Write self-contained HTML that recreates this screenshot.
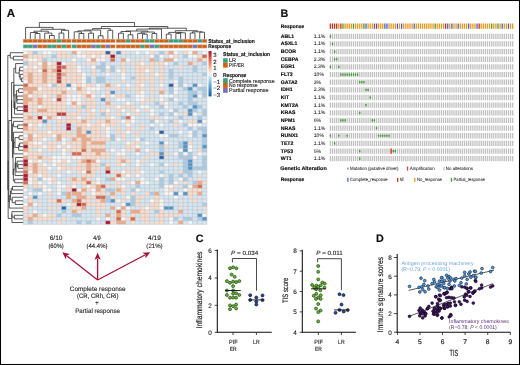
<!DOCTYPE html>
<html><head><meta charset="utf-8"><title>Figure</title>
<style>html,body{margin:0;padding:0;background:#fff;}svg{display:block;font-family:"Liberation Sans", sans-serif;text-rendering:geometricPrecision;will-change:transform;}</style>
</head><body>
<svg width="520" height="365" viewBox="0 0 520 365" font-family='"Liberation Sans", sans-serif'>
<rect width="520" height="365" fill="#fff"/>
<text x="6.8" y="16.9" font-size="11.5" font-weight="bold" fill="#111" stroke="#111" stroke-width="0.16">A</text>
<path fill="#f6f6f6" d="M23.20 50.90h4.78v3.613h-4.78zM42.32 50.90h4.78v3.613h-4.78zM47.10 50.90h4.78v3.613h-4.78zM76.61 50.90h4.81v3.613h-4.81zM135.29 50.90h4.77v3.613h-4.77zM144.84 50.90h4.77v3.613h-4.77zM173.48 50.90h4.77v3.613h-4.77zM187.81 50.90h4.77v3.613h-4.77zM202.13 50.90h4.77v3.613h-4.77zM76.61 54.51h4.81v3.613h-4.81zM81.42 54.51h4.81v3.613h-4.81zM91.04 54.51h4.81v3.613h-4.81zM100.67 54.51h4.81v3.613h-4.81zM149.62 54.51h4.77v3.613h-4.77zM159.16 54.51h4.77v3.613h-4.77zM168.71 54.51h4.77v3.613h-4.77zM187.81 54.51h4.77v3.613h-4.77zM192.58 54.51h4.77v3.613h-4.77zM27.98 58.13h4.78v3.613h-4.78zM32.76 58.13h4.78v3.613h-4.78zM71.80 58.13h4.81v3.613h-4.81zM86.23 58.13h4.81v3.613h-4.81zM95.86 58.13h4.81v3.613h-4.81zM100.67 58.13h4.81v3.613h-4.81zM125.75 58.13h4.77v3.613h-4.77zM173.48 58.13h4.77v3.613h-4.77zM37.54 61.74h4.78v3.613h-4.78zM47.10 61.74h4.78v3.613h-4.78zM61.44 61.74h4.78v3.613h-4.78zM140.07 61.74h4.77v3.613h-4.77zM163.94 61.74h4.77v3.613h-4.77zM23.20 65.35h4.78v3.613h-4.78zM32.76 65.35h4.78v3.613h-4.78zM76.61 65.35h4.81v3.613h-4.81zM91.04 65.35h4.81v3.613h-4.81zM105.48 65.35h4.81v3.613h-4.81zM37.54 68.97h4.78v3.613h-4.78zM76.61 68.97h4.81v3.613h-4.81zM116.20 68.97h4.77v3.613h-4.77zM144.84 68.97h4.77v3.613h-4.77zM81.42 72.58h4.81v3.613h-4.81zM105.48 72.58h4.81v3.613h-4.81zM120.97 72.58h4.77v3.613h-4.77zM154.39 72.58h4.77v3.613h-4.77zM81.42 76.19h4.81v3.613h-4.81zM120.97 76.19h4.77v3.613h-4.77zM23.20 79.80h4.78v3.613h-4.78zM81.42 79.80h4.81v3.613h-4.81zM173.48 79.80h4.77v3.613h-4.77zM47.10 83.42h4.78v3.613h-4.78zM71.80 83.42h4.81v3.613h-4.81zM81.42 83.42h4.81v3.613h-4.81zM95.86 83.42h4.81v3.613h-4.81zM116.20 83.42h4.77v3.613h-4.77zM125.75 83.42h4.77v3.613h-4.77zM140.07 83.42h4.77v3.613h-4.77zM159.16 83.42h4.77v3.613h-4.77zM173.48 83.42h4.77v3.613h-4.77zM183.03 83.42h4.77v3.613h-4.77zM197.35 83.42h4.77v3.613h-4.77zM37.54 87.03h4.78v3.613h-4.78zM66.22 87.03h4.78v3.613h-4.78zM71.80 87.03h4.81v3.613h-4.81zM86.23 87.03h4.81v3.613h-4.81zM91.04 87.03h4.81v3.613h-4.81zM95.86 87.03h4.81v3.613h-4.81zM173.48 87.03h4.77v3.613h-4.77zM86.23 90.64h4.81v3.613h-4.81zM140.07 90.64h4.77v3.613h-4.77zM173.48 90.64h4.77v3.613h-4.77zM27.98 94.26h4.78v3.613h-4.78zM42.32 94.26h4.78v3.613h-4.78zM66.22 94.26h4.78v3.613h-4.78zM71.80 94.26h4.81v3.613h-4.81zM76.61 94.26h4.81v3.613h-4.81zM91.04 94.26h4.81v3.613h-4.81zM100.67 94.26h4.81v3.613h-4.81zM110.29 94.26h4.81v3.613h-4.81zM135.29 94.26h4.77v3.613h-4.77zM140.07 94.26h4.77v3.613h-4.77zM159.16 94.26h4.77v3.613h-4.77zM163.94 94.26h4.77v3.613h-4.77zM168.71 94.26h4.77v3.613h-4.77zM197.35 94.26h4.77v3.613h-4.77zM51.88 97.87h4.78v3.613h-4.78zM66.22 97.87h4.78v3.613h-4.78zM71.80 97.87h4.81v3.613h-4.81zM76.61 97.87h4.81v3.613h-4.81zM116.20 97.87h4.77v3.613h-4.77zM120.97 97.87h4.77v3.613h-4.77zM135.29 97.87h4.77v3.613h-4.77zM140.07 97.87h4.77v3.613h-4.77zM159.16 97.87h4.77v3.613h-4.77zM173.48 97.87h4.77v3.613h-4.77zM66.22 101.48h4.78v3.613h-4.78zM76.61 101.48h4.81v3.613h-4.81zM125.75 101.48h4.77v3.613h-4.77zM163.94 101.48h4.77v3.613h-4.77zM37.54 105.09h4.78v3.613h-4.78zM116.20 105.09h4.77v3.613h-4.77zM140.07 105.09h4.77v3.613h-4.77zM144.84 105.09h4.77v3.613h-4.77zM163.94 105.09h4.77v3.613h-4.77zM91.04 108.71h4.81v3.613h-4.81zM105.48 108.71h4.81v3.613h-4.81zM120.97 108.71h4.77v3.613h-4.77zM135.29 108.71h4.77v3.613h-4.77zM149.62 108.71h4.77v3.613h-4.77zM168.71 108.71h4.77v3.613h-4.77zM125.75 112.32h4.77v3.613h-4.77zM149.62 112.32h4.77v3.613h-4.77zM173.48 112.32h4.77v3.613h-4.77zM192.58 112.32h4.77v3.613h-4.77zM42.32 115.93h4.78v3.613h-4.78zM56.66 115.93h4.78v3.613h-4.78zM76.61 115.93h4.81v3.613h-4.81zM110.29 115.93h4.81v3.613h-4.81zM130.52 115.93h4.77v3.613h-4.77zM163.94 115.93h4.77v3.613h-4.77zM120.97 119.55h4.77v3.613h-4.77zM130.52 119.55h4.77v3.613h-4.77zM154.39 119.55h4.77v3.613h-4.77zM178.26 119.55h4.77v3.613h-4.77zM202.13 119.55h4.77v3.613h-4.77zM27.98 123.16h4.78v3.613h-4.78zM37.54 123.16h4.78v3.613h-4.78zM86.23 123.16h4.81v3.613h-4.81zM100.67 123.16h4.81v3.613h-4.81zM125.75 123.16h4.77v3.613h-4.77zM149.62 123.16h4.77v3.613h-4.77zM159.16 123.16h4.77v3.613h-4.77zM187.81 123.16h4.77v3.613h-4.77zM192.58 123.16h4.77v3.613h-4.77zM197.35 123.16h4.77v3.613h-4.77zM105.48 126.77h4.81v3.613h-4.81zM47.10 130.39h4.78v3.613h-4.78zM105.48 130.39h4.81v3.613h-4.81zM125.75 130.39h4.77v3.613h-4.77zM154.39 130.39h4.77v3.613h-4.77zM178.26 130.39h4.77v3.613h-4.77zM187.81 130.39h4.77v3.613h-4.77zM23.20 134.00h4.78v3.613h-4.78zM32.76 134.00h4.78v3.613h-4.78zM51.88 134.00h4.78v3.613h-4.78zM105.48 134.00h4.81v3.613h-4.81zM159.16 134.00h4.77v3.613h-4.77zM163.94 134.00h4.77v3.613h-4.77zM187.81 134.00h4.77v3.613h-4.77zM42.32 137.61h4.78v3.613h-4.78zM61.44 137.61h4.78v3.613h-4.78zM116.20 137.61h4.77v3.613h-4.77zM135.29 137.61h4.77v3.613h-4.77zM32.76 141.22h4.78v3.613h-4.78zM37.54 141.22h4.78v3.613h-4.78zM61.44 141.22h4.78v3.613h-4.78zM125.75 141.22h4.77v3.613h-4.77zM144.84 141.22h4.77v3.613h-4.77zM163.94 141.22h4.77v3.613h-4.77zM42.32 144.84h4.78v3.613h-4.78zM56.66 144.84h4.78v3.613h-4.78zM66.22 144.84h4.78v3.613h-4.78zM135.29 144.84h4.77v3.613h-4.77zM187.81 144.84h4.77v3.613h-4.77zM37.54 148.45h4.78v3.613h-4.78zM61.44 148.45h4.78v3.613h-4.78zM110.29 148.45h4.81v3.613h-4.81zM120.97 148.45h4.77v3.613h-4.77zM144.84 148.45h4.77v3.613h-4.77zM178.26 148.45h4.77v3.613h-4.77zM187.81 148.45h4.77v3.613h-4.77zM23.20 152.06h4.78v3.613h-4.78zM61.44 152.06h4.78v3.613h-4.78zM116.20 152.06h4.77v3.613h-4.77zM120.97 152.06h4.77v3.613h-4.77zM135.29 152.06h4.77v3.613h-4.77zM173.48 152.06h4.77v3.613h-4.77zM183.03 152.06h4.77v3.613h-4.77zM197.35 152.06h4.77v3.613h-4.77zM51.88 155.68h4.78v3.613h-4.78zM56.66 155.68h4.78v3.613h-4.78zM61.44 155.68h4.78v3.613h-4.78zM66.22 155.68h4.78v3.613h-4.78zM71.80 155.68h4.81v3.613h-4.81zM76.61 155.68h4.81v3.613h-4.81zM192.58 155.68h4.77v3.613h-4.77zM27.98 159.29h4.78v3.613h-4.78zM37.54 159.29h4.78v3.613h-4.78zM51.88 159.29h4.78v3.613h-4.78zM56.66 159.29h4.78v3.613h-4.78zM66.22 159.29h4.78v3.613h-4.78zM95.86 159.29h4.81v3.613h-4.81zM135.29 159.29h4.77v3.613h-4.77zM42.32 162.90h4.78v3.613h-4.78zM51.88 162.90h4.78v3.613h-4.78zM120.97 162.90h4.77v3.613h-4.77zM135.29 162.90h4.77v3.613h-4.77zM149.62 162.90h4.77v3.613h-4.77zM163.94 162.90h4.77v3.613h-4.77zM47.10 166.52h4.78v3.613h-4.78zM56.66 166.52h4.78v3.613h-4.78zM27.98 170.13h4.78v3.613h-4.78zM66.22 170.13h4.78v3.613h-4.78zM81.42 170.13h4.81v3.613h-4.81zM120.97 170.13h4.77v3.613h-4.77zM140.07 170.13h4.77v3.613h-4.77zM197.35 170.13h4.77v3.613h-4.77zM37.54 173.74h4.78v3.613h-4.78zM56.66 173.74h4.78v3.613h-4.78zM125.75 173.74h4.77v3.613h-4.77zM135.29 173.74h4.77v3.613h-4.77zM159.16 173.74h4.77v3.613h-4.77zM27.98 177.35h4.78v3.613h-4.78zM42.32 177.35h4.78v3.613h-4.78zM47.10 177.35h4.78v3.613h-4.78zM95.86 177.35h4.81v3.613h-4.81zM116.20 177.35h4.77v3.613h-4.77zM120.97 177.35h4.77v3.613h-4.77zM140.07 177.35h4.77v3.613h-4.77zM154.39 177.35h4.77v3.613h-4.77zM178.26 177.35h4.77v3.613h-4.77zM27.98 180.97h4.78v3.613h-4.78zM37.54 180.97h4.78v3.613h-4.78zM47.10 180.97h4.78v3.613h-4.78zM56.66 180.97h4.78v3.613h-4.78zM95.86 180.97h4.81v3.613h-4.81zM130.52 180.97h4.77v3.613h-4.77zM140.07 180.97h4.77v3.613h-4.77zM144.84 180.97h4.77v3.613h-4.77zM173.48 180.97h4.77v3.613h-4.77zM42.32 184.58h4.78v3.613h-4.78zM56.66 184.58h4.78v3.613h-4.78zM61.44 184.58h4.78v3.613h-4.78zM71.80 184.58h4.81v3.613h-4.81zM86.23 184.58h4.81v3.613h-4.81zM120.97 184.58h4.77v3.613h-4.77zM163.94 184.58h4.77v3.613h-4.77zM168.71 184.58h4.77v3.613h-4.77zM187.81 184.58h4.77v3.613h-4.77zM23.20 188.19h4.78v3.613h-4.78zM42.32 188.19h4.78v3.613h-4.78zM47.10 188.19h4.78v3.613h-4.78zM56.66 188.19h4.78v3.613h-4.78zM76.61 188.19h4.81v3.613h-4.81zM91.04 188.19h4.81v3.613h-4.81zM135.29 188.19h4.77v3.613h-4.77zM163.94 188.19h4.77v3.613h-4.77zM183.03 188.19h4.77v3.613h-4.77zM27.98 191.81h4.78v3.613h-4.78zM37.54 191.81h4.78v3.613h-4.78zM56.66 191.81h4.78v3.613h-4.78zM91.04 191.81h4.81v3.613h-4.81zM163.94 191.81h4.77v3.613h-4.77zM168.71 191.81h4.77v3.613h-4.77zM178.26 191.81h4.77v3.613h-4.77zM23.20 195.42h4.78v3.613h-4.78zM125.75 195.42h4.77v3.613h-4.77zM173.48 195.42h4.77v3.613h-4.77zM116.20 199.03h4.77v3.613h-4.77zM149.62 199.03h4.77v3.613h-4.77zM159.16 199.03h4.77v3.613h-4.77zM23.20 202.65h4.78v3.613h-4.78zM32.76 202.65h4.78v3.613h-4.78zM66.22 202.65h4.78v3.613h-4.78zM120.97 202.65h4.77v3.613h-4.77zM159.16 202.65h4.77v3.613h-4.77zM116.20 206.26h4.77v3.613h-4.77zM125.75 206.26h4.77v3.613h-4.77zM144.84 206.26h4.77v3.613h-4.77zM159.16 206.26h4.77v3.613h-4.77zM32.76 209.87h4.78v3.613h-4.78zM42.32 213.49h4.78v3.613h-4.78zM202.13 213.49h4.77v3.613h-4.77zM95.86 217.10h4.81v3.613h-4.81zM105.48 217.10h4.81v3.613h-4.81zM120.97 217.10h4.77v3.613h-4.77zM168.71 217.10h4.77v3.613h-4.77zM168.71 220.71h4.77v3.613h-4.77zM187.81 220.71h4.77v3.613h-4.77z"/>
<path fill="#f9dccb" d="M27.98 50.90h4.78v3.613h-4.78zM56.66 50.90h4.78v3.613h-4.78zM61.44 50.90h4.78v3.613h-4.78zM81.42 50.90h4.81v3.613h-4.81zM86.23 50.90h4.81v3.613h-4.81zM91.04 50.90h4.81v3.613h-4.81zM95.86 50.90h4.81v3.613h-4.81zM100.67 50.90h4.81v3.613h-4.81zM110.29 50.90h4.81v3.613h-4.81zM120.97 50.90h4.77v3.613h-4.77zM149.62 50.90h4.77v3.613h-4.77zM163.94 50.90h4.77v3.613h-4.77zM183.03 50.90h4.77v3.613h-4.77zM27.98 54.51h4.78v3.613h-4.78zM32.76 54.51h4.78v3.613h-4.78zM37.54 54.51h4.78v3.613h-4.78zM42.32 54.51h4.78v3.613h-4.78zM56.66 54.51h4.78v3.613h-4.78zM61.44 54.51h4.78v3.613h-4.78zM66.22 54.51h4.78v3.613h-4.78zM86.23 54.51h4.81v3.613h-4.81zM95.86 54.51h4.81v3.613h-4.81zM105.48 54.51h4.81v3.613h-4.81zM173.48 54.51h4.77v3.613h-4.77zM197.35 54.51h4.77v3.613h-4.77zM23.20 58.13h4.78v3.613h-4.78zM37.54 58.13h4.78v3.613h-4.78zM140.07 58.13h4.77v3.613h-4.77zM202.13 58.13h4.77v3.613h-4.77zM27.98 61.74h4.78v3.613h-4.78zM32.76 61.74h4.78v3.613h-4.78zM51.88 61.74h4.78v3.613h-4.78zM66.22 61.74h4.78v3.613h-4.78zM71.80 61.74h4.81v3.613h-4.81zM86.23 61.74h4.81v3.613h-4.81zM91.04 61.74h4.81v3.613h-4.81zM120.97 61.74h4.77v3.613h-4.77zM130.52 61.74h4.77v3.613h-4.77zM135.29 61.74h4.77v3.613h-4.77zM149.62 61.74h4.77v3.613h-4.77zM154.39 61.74h4.77v3.613h-4.77zM159.16 61.74h4.77v3.613h-4.77zM192.58 61.74h4.77v3.613h-4.77zM27.98 65.35h4.78v3.613h-4.78zM37.54 65.35h4.78v3.613h-4.78zM47.10 65.35h4.78v3.613h-4.78zM51.88 65.35h4.78v3.613h-4.78zM66.22 65.35h4.78v3.613h-4.78zM71.80 65.35h4.81v3.613h-4.81zM120.97 65.35h4.77v3.613h-4.77zM135.29 65.35h4.77v3.613h-4.77zM140.07 65.35h4.77v3.613h-4.77zM144.84 65.35h4.77v3.613h-4.77zM149.62 65.35h4.77v3.613h-4.77zM159.16 65.35h4.77v3.613h-4.77zM178.26 65.35h4.77v3.613h-4.77zM23.20 68.97h4.78v3.613h-4.78zM27.98 68.97h4.78v3.613h-4.78zM32.76 68.97h4.78v3.613h-4.78zM47.10 68.97h4.78v3.613h-4.78zM61.44 68.97h4.78v3.613h-4.78zM66.22 68.97h4.78v3.613h-4.78zM71.80 68.97h4.81v3.613h-4.81zM91.04 68.97h4.81v3.613h-4.81zM105.48 68.97h4.81v3.613h-4.81zM120.97 68.97h4.77v3.613h-4.77zM135.29 68.97h4.77v3.613h-4.77zM140.07 68.97h4.77v3.613h-4.77zM149.62 68.97h4.77v3.613h-4.77zM159.16 68.97h4.77v3.613h-4.77zM23.20 72.58h4.78v3.613h-4.78zM32.76 72.58h4.78v3.613h-4.78zM37.54 72.58h4.78v3.613h-4.78zM47.10 72.58h4.78v3.613h-4.78zM51.88 72.58h4.78v3.613h-4.78zM66.22 72.58h4.78v3.613h-4.78zM71.80 72.58h4.81v3.613h-4.81zM76.61 72.58h4.81v3.613h-4.81zM91.04 72.58h4.81v3.613h-4.81zM135.29 72.58h4.77v3.613h-4.77zM140.07 72.58h4.77v3.613h-4.77zM149.62 72.58h4.77v3.613h-4.77zM159.16 72.58h4.77v3.613h-4.77zM23.20 76.19h4.78v3.613h-4.78zM32.76 76.19h4.78v3.613h-4.78zM37.54 76.19h4.78v3.613h-4.78zM47.10 76.19h4.78v3.613h-4.78zM51.88 76.19h4.78v3.613h-4.78zM61.44 76.19h4.78v3.613h-4.78zM66.22 76.19h4.78v3.613h-4.78zM71.80 76.19h4.81v3.613h-4.81zM76.61 76.19h4.81v3.613h-4.81zM135.29 76.19h4.77v3.613h-4.77zM140.07 76.19h4.77v3.613h-4.77zM144.84 76.19h4.77v3.613h-4.77zM149.62 76.19h4.77v3.613h-4.77zM159.16 76.19h4.77v3.613h-4.77zM32.76 79.80h4.78v3.613h-4.78zM37.54 79.80h4.78v3.613h-4.78zM47.10 79.80h4.78v3.613h-4.78zM51.88 79.80h4.78v3.613h-4.78zM61.44 79.80h4.78v3.613h-4.78zM66.22 79.80h4.78v3.613h-4.78zM71.80 79.80h4.81v3.613h-4.81zM76.61 79.80h4.81v3.613h-4.81zM120.97 79.80h4.77v3.613h-4.77zM135.29 79.80h4.77v3.613h-4.77zM140.07 79.80h4.77v3.613h-4.77zM149.62 79.80h4.77v3.613h-4.77zM159.16 79.80h4.77v3.613h-4.77zM27.98 83.42h4.78v3.613h-4.78zM32.76 83.42h4.78v3.613h-4.78zM37.54 83.42h4.78v3.613h-4.78zM42.32 83.42h4.78v3.613h-4.78zM56.66 83.42h4.78v3.613h-4.78zM61.44 83.42h4.78v3.613h-4.78zM76.61 83.42h4.81v3.613h-4.81zM86.23 83.42h4.81v3.613h-4.81zM91.04 83.42h4.81v3.613h-4.81zM110.29 83.42h4.81v3.613h-4.81zM135.29 83.42h4.77v3.613h-4.77zM149.62 83.42h4.77v3.613h-4.77zM42.32 87.03h4.78v3.613h-4.78zM47.10 87.03h4.78v3.613h-4.78zM51.88 87.03h4.78v3.613h-4.78zM56.66 87.03h4.78v3.613h-4.78zM61.44 87.03h4.78v3.613h-4.78zM81.42 87.03h4.81v3.613h-4.81zM105.48 87.03h4.81v3.613h-4.81zM116.20 87.03h4.77v3.613h-4.77zM125.75 87.03h4.77v3.613h-4.77zM135.29 87.03h4.77v3.613h-4.77zM140.07 87.03h4.77v3.613h-4.77zM149.62 87.03h4.77v3.613h-4.77zM159.16 87.03h4.77v3.613h-4.77zM23.20 90.64h4.78v3.613h-4.78zM32.76 90.64h4.78v3.613h-4.78zM37.54 90.64h4.78v3.613h-4.78zM42.32 90.64h4.78v3.613h-4.78zM47.10 90.64h4.78v3.613h-4.78zM51.88 90.64h4.78v3.613h-4.78zM56.66 90.64h4.78v3.613h-4.78zM66.22 90.64h4.78v3.613h-4.78zM76.61 90.64h4.81v3.613h-4.81zM81.42 90.64h4.81v3.613h-4.81zM91.04 90.64h4.81v3.613h-4.81zM105.48 90.64h4.81v3.613h-4.81zM135.29 90.64h4.77v3.613h-4.77zM149.62 90.64h4.77v3.613h-4.77zM32.76 94.26h4.78v3.613h-4.78zM37.54 94.26h4.78v3.613h-4.78zM47.10 94.26h4.78v3.613h-4.78zM61.44 94.26h4.78v3.613h-4.78zM81.42 94.26h4.81v3.613h-4.81zM105.48 94.26h4.81v3.613h-4.81zM116.20 94.26h4.77v3.613h-4.77zM120.97 94.26h4.77v3.613h-4.77zM32.76 97.87h4.78v3.613h-4.78zM42.32 97.87h4.78v3.613h-4.78zM47.10 97.87h4.78v3.613h-4.78zM61.44 97.87h4.78v3.613h-4.78zM86.23 97.87h4.81v3.613h-4.81zM91.04 97.87h4.81v3.613h-4.81zM105.48 97.87h4.81v3.613h-4.81zM144.84 97.87h4.77v3.613h-4.77zM149.62 97.87h4.77v3.613h-4.77zM27.98 101.48h4.78v3.613h-4.78zM32.76 101.48h4.78v3.613h-4.78zM42.32 101.48h4.78v3.613h-4.78zM47.10 101.48h4.78v3.613h-4.78zM51.88 101.48h4.78v3.613h-4.78zM56.66 101.48h4.78v3.613h-4.78zM61.44 101.48h4.78v3.613h-4.78zM81.42 101.48h4.81v3.613h-4.81zM86.23 101.48h4.81v3.613h-4.81zM91.04 101.48h4.81v3.613h-4.81zM140.07 101.48h4.77v3.613h-4.77zM159.16 101.48h4.77v3.613h-4.77zM27.98 105.09h4.78v3.613h-4.78zM32.76 105.09h4.78v3.613h-4.78zM42.32 105.09h4.78v3.613h-4.78zM47.10 105.09h4.78v3.613h-4.78zM51.88 105.09h4.78v3.613h-4.78zM56.66 105.09h4.78v3.613h-4.78zM61.44 105.09h4.78v3.613h-4.78zM71.80 105.09h4.81v3.613h-4.81zM76.61 105.09h4.81v3.613h-4.81zM86.23 105.09h4.81v3.613h-4.81zM91.04 105.09h4.81v3.613h-4.81zM105.48 105.09h4.81v3.613h-4.81zM110.29 105.09h4.81v3.613h-4.81zM120.97 105.09h4.77v3.613h-4.77zM125.75 105.09h4.77v3.613h-4.77zM130.52 105.09h4.77v3.613h-4.77zM27.98 108.71h4.78v3.613h-4.78zM32.76 108.71h4.78v3.613h-4.78zM47.10 108.71h4.78v3.613h-4.78zM51.88 108.71h4.78v3.613h-4.78zM56.66 108.71h4.78v3.613h-4.78zM61.44 108.71h4.78v3.613h-4.78zM76.61 108.71h4.81v3.613h-4.81zM86.23 108.71h4.81v3.613h-4.81zM100.67 108.71h4.81v3.613h-4.81zM116.20 108.71h4.77v3.613h-4.77zM130.52 108.71h4.77v3.613h-4.77zM144.84 108.71h4.77v3.613h-4.77zM23.20 112.32h4.78v3.613h-4.78zM27.98 112.32h4.78v3.613h-4.78zM37.54 112.32h4.78v3.613h-4.78zM42.32 112.32h4.78v3.613h-4.78zM47.10 112.32h4.78v3.613h-4.78zM51.88 112.32h4.78v3.613h-4.78zM66.22 112.32h4.78v3.613h-4.78zM71.80 112.32h4.81v3.613h-4.81zM76.61 112.32h4.81v3.613h-4.81zM86.23 112.32h4.81v3.613h-4.81zM91.04 112.32h4.81v3.613h-4.81zM105.48 112.32h4.81v3.613h-4.81zM116.20 112.32h4.77v3.613h-4.77zM135.29 112.32h4.77v3.613h-4.77zM183.03 112.32h4.77v3.613h-4.77zM23.20 115.93h4.78v3.613h-4.78zM32.76 115.93h4.78v3.613h-4.78zM51.88 115.93h4.78v3.613h-4.78zM66.22 115.93h4.78v3.613h-4.78zM71.80 115.93h4.81v3.613h-4.81zM86.23 115.93h4.81v3.613h-4.81zM91.04 115.93h4.81v3.613h-4.81zM105.48 115.93h4.81v3.613h-4.81zM149.62 115.93h4.77v3.613h-4.77zM154.39 115.93h4.77v3.613h-4.77zM23.20 119.55h4.78v3.613h-4.78zM27.98 119.55h4.78v3.613h-4.78zM32.76 119.55h4.78v3.613h-4.78zM37.54 119.55h4.78v3.613h-4.78zM56.66 119.55h4.78v3.613h-4.78zM61.44 119.55h4.78v3.613h-4.78zM66.22 119.55h4.78v3.613h-4.78zM71.80 119.55h4.81v3.613h-4.81zM76.61 119.55h4.81v3.613h-4.81zM86.23 119.55h4.81v3.613h-4.81zM95.86 119.55h4.81v3.613h-4.81zM100.67 119.55h4.81v3.613h-4.81zM110.29 119.55h4.81v3.613h-4.81zM116.20 119.55h4.77v3.613h-4.77zM125.75 119.55h4.77v3.613h-4.77zM173.48 119.55h4.77v3.613h-4.77zM187.81 119.55h4.77v3.613h-4.77zM192.58 119.55h4.77v3.613h-4.77zM32.76 123.16h4.78v3.613h-4.78zM47.10 123.16h4.78v3.613h-4.78zM56.66 123.16h4.78v3.613h-4.78zM76.61 123.16h4.81v3.613h-4.81zM81.42 123.16h4.81v3.613h-4.81zM91.04 123.16h4.81v3.613h-4.81zM95.86 123.16h4.81v3.613h-4.81zM105.48 123.16h4.81v3.613h-4.81zM110.29 123.16h4.81v3.613h-4.81zM140.07 123.16h4.77v3.613h-4.77zM173.48 123.16h4.77v3.613h-4.77zM27.98 126.77h4.78v3.613h-4.78zM32.76 126.77h4.78v3.613h-4.78zM47.10 126.77h4.78v3.613h-4.78zM56.66 126.77h4.78v3.613h-4.78zM81.42 126.77h4.81v3.613h-4.81zM86.23 126.77h4.81v3.613h-4.81zM91.04 126.77h4.81v3.613h-4.81zM95.86 126.77h4.81v3.613h-4.81zM100.67 126.77h4.81v3.613h-4.81zM116.20 126.77h4.77v3.613h-4.77zM125.75 126.77h4.77v3.613h-4.77zM130.52 126.77h4.77v3.613h-4.77zM140.07 126.77h4.77v3.613h-4.77zM23.20 130.39h4.78v3.613h-4.78zM27.98 130.39h4.78v3.613h-4.78zM32.76 130.39h4.78v3.613h-4.78zM37.54 130.39h4.78v3.613h-4.78zM42.32 130.39h4.78v3.613h-4.78zM51.88 130.39h4.78v3.613h-4.78zM56.66 130.39h4.78v3.613h-4.78zM61.44 130.39h4.78v3.613h-4.78zM66.22 130.39h4.78v3.613h-4.78zM81.42 130.39h4.81v3.613h-4.81zM91.04 130.39h4.81v3.613h-4.81zM95.86 130.39h4.81v3.613h-4.81zM116.20 130.39h4.77v3.613h-4.77zM120.97 130.39h4.77v3.613h-4.77zM135.29 130.39h4.77v3.613h-4.77zM37.54 134.00h4.78v3.613h-4.78zM42.32 134.00h4.78v3.613h-4.78zM47.10 134.00h4.78v3.613h-4.78zM61.44 134.00h4.78v3.613h-4.78zM66.22 134.00h4.78v3.613h-4.78zM71.80 134.00h4.81v3.613h-4.81zM86.23 134.00h4.81v3.613h-4.81zM91.04 134.00h4.81v3.613h-4.81zM95.86 134.00h4.81v3.613h-4.81zM100.67 134.00h4.81v3.613h-4.81zM120.97 134.00h4.77v3.613h-4.77zM135.29 134.00h4.77v3.613h-4.77zM23.20 137.61h4.78v3.613h-4.78zM32.76 137.61h4.78v3.613h-4.78zM37.54 137.61h4.78v3.613h-4.78zM76.61 137.61h4.81v3.613h-4.81zM91.04 137.61h4.81v3.613h-4.81zM95.86 137.61h4.81v3.613h-4.81zM100.67 137.61h4.81v3.613h-4.81zM105.48 137.61h4.81v3.613h-4.81zM120.97 137.61h4.77v3.613h-4.77zM27.98 141.22h4.78v3.613h-4.78zM47.10 141.22h4.78v3.613h-4.78zM51.88 141.22h4.78v3.613h-4.78zM66.22 141.22h4.78v3.613h-4.78zM71.80 141.22h4.81v3.613h-4.81zM76.61 141.22h4.81v3.613h-4.81zM86.23 141.22h4.81v3.613h-4.81zM130.52 141.22h4.77v3.613h-4.77zM135.29 141.22h4.77v3.613h-4.77zM187.81 141.22h4.77v3.613h-4.77zM27.98 144.84h4.78v3.613h-4.78zM32.76 144.84h4.78v3.613h-4.78zM37.54 144.84h4.78v3.613h-4.78zM47.10 144.84h4.78v3.613h-4.78zM51.88 144.84h4.78v3.613h-4.78zM61.44 144.84h4.78v3.613h-4.78zM71.80 144.84h4.81v3.613h-4.81zM76.61 144.84h4.81v3.613h-4.81zM86.23 144.84h4.81v3.613h-4.81zM91.04 144.84h4.81v3.613h-4.81zM95.86 144.84h4.81v3.613h-4.81zM100.67 144.84h4.81v3.613h-4.81zM125.75 144.84h4.77v3.613h-4.77zM130.52 144.84h4.77v3.613h-4.77zM163.94 144.84h4.77v3.613h-4.77zM27.98 148.45h4.78v3.613h-4.78zM47.10 148.45h4.78v3.613h-4.78zM51.88 148.45h4.78v3.613h-4.78zM66.22 148.45h4.78v3.613h-4.78zM71.80 148.45h4.81v3.613h-4.81zM76.61 148.45h4.81v3.613h-4.81zM86.23 148.45h4.81v3.613h-4.81zM125.75 148.45h4.77v3.613h-4.77zM197.35 148.45h4.77v3.613h-4.77zM27.98 152.06h4.78v3.613h-4.78zM32.76 152.06h4.78v3.613h-4.78zM37.54 152.06h4.78v3.613h-4.78zM81.42 152.06h4.81v3.613h-4.81zM86.23 152.06h4.81v3.613h-4.81zM91.04 152.06h4.81v3.613h-4.81zM100.67 152.06h4.81v3.613h-4.81zM105.48 152.06h4.81v3.613h-4.81zM149.62 152.06h4.77v3.613h-4.77zM154.39 152.06h4.77v3.613h-4.77zM163.94 152.06h4.77v3.613h-4.77zM27.98 155.68h4.78v3.613h-4.78zM32.76 155.68h4.78v3.613h-4.78zM42.32 155.68h4.78v3.613h-4.78zM47.10 155.68h4.78v3.613h-4.78zM81.42 155.68h4.81v3.613h-4.81zM86.23 155.68h4.81v3.613h-4.81zM91.04 155.68h4.81v3.613h-4.81zM95.86 155.68h4.81v3.613h-4.81zM100.67 155.68h4.81v3.613h-4.81zM105.48 155.68h4.81v3.613h-4.81zM116.20 155.68h4.77v3.613h-4.77zM120.97 155.68h4.77v3.613h-4.77zM144.84 155.68h4.77v3.613h-4.77zM32.76 159.29h4.78v3.613h-4.78zM47.10 159.29h4.78v3.613h-4.78zM61.44 159.29h4.78v3.613h-4.78zM76.61 159.29h4.81v3.613h-4.81zM116.20 159.29h4.77v3.613h-4.77zM125.75 159.29h4.77v3.613h-4.77zM140.07 159.29h4.77v3.613h-4.77zM27.98 162.90h4.78v3.613h-4.78zM37.54 162.90h4.78v3.613h-4.78zM56.66 162.90h4.78v3.613h-4.78zM61.44 162.90h4.78v3.613h-4.78zM76.61 162.90h4.81v3.613h-4.81zM81.42 162.90h4.81v3.613h-4.81zM91.04 162.90h4.81v3.613h-4.81zM95.86 162.90h4.81v3.613h-4.81zM105.48 162.90h4.81v3.613h-4.81zM116.20 162.90h4.77v3.613h-4.77zM173.48 162.90h4.77v3.613h-4.77zM27.98 166.52h4.78v3.613h-4.78zM37.54 166.52h4.78v3.613h-4.78zM42.32 166.52h4.78v3.613h-4.78zM61.44 166.52h4.78v3.613h-4.78zM66.22 166.52h4.78v3.613h-4.78zM71.80 166.52h4.81v3.613h-4.81zM76.61 166.52h4.81v3.613h-4.81zM81.42 166.52h4.81v3.613h-4.81zM91.04 166.52h4.81v3.613h-4.81zM95.86 166.52h4.81v3.613h-4.81zM125.75 166.52h4.77v3.613h-4.77zM135.29 166.52h4.77v3.613h-4.77zM37.54 170.13h4.78v3.613h-4.78zM42.32 170.13h4.78v3.613h-4.78zM56.66 170.13h4.78v3.613h-4.78zM76.61 170.13h4.81v3.613h-4.81zM91.04 170.13h4.81v3.613h-4.81zM110.29 170.13h4.81v3.613h-4.81zM116.20 170.13h4.77v3.613h-4.77zM125.75 170.13h4.77v3.613h-4.77zM135.29 170.13h4.77v3.613h-4.77zM178.26 170.13h4.77v3.613h-4.77zM27.98 173.74h4.78v3.613h-4.78zM32.76 173.74h4.78v3.613h-4.78zM42.32 173.74h4.78v3.613h-4.78zM47.10 173.74h4.78v3.613h-4.78zM81.42 173.74h4.81v3.613h-4.81zM86.23 173.74h4.81v3.613h-4.81zM91.04 173.74h4.81v3.613h-4.81zM120.97 173.74h4.77v3.613h-4.77zM130.52 173.74h4.77v3.613h-4.77zM32.76 177.35h4.78v3.613h-4.78zM51.88 177.35h4.78v3.613h-4.78zM66.22 177.35h4.78v3.613h-4.78zM76.61 177.35h4.81v3.613h-4.81zM86.23 177.35h4.81v3.613h-4.81zM197.35 177.35h4.77v3.613h-4.77zM32.76 180.97h4.78v3.613h-4.78zM51.88 180.97h4.78v3.613h-4.78zM71.80 180.97h4.81v3.613h-4.81zM76.61 180.97h4.81v3.613h-4.81zM81.42 180.97h4.81v3.613h-4.81zM91.04 180.97h4.81v3.613h-4.81zM116.20 180.97h4.77v3.613h-4.77zM125.75 180.97h4.77v3.613h-4.77zM183.03 180.97h4.77v3.613h-4.77zM202.13 180.97h4.77v3.613h-4.77zM23.20 184.58h4.78v3.613h-4.78zM32.76 184.58h4.78v3.613h-4.78zM37.54 184.58h4.78v3.613h-4.78zM66.22 184.58h4.78v3.613h-4.78zM81.42 184.58h4.81v3.613h-4.81zM91.04 184.58h4.81v3.613h-4.81zM105.48 184.58h4.81v3.613h-4.81zM116.20 184.58h4.77v3.613h-4.77zM173.48 184.58h4.77v3.613h-4.77zM66.22 188.19h4.78v3.613h-4.78zM86.23 188.19h4.81v3.613h-4.81zM100.67 188.19h4.81v3.613h-4.81zM120.97 188.19h4.77v3.613h-4.77zM168.71 188.19h4.77v3.613h-4.77zM187.81 188.19h4.77v3.613h-4.77zM192.58 188.19h4.77v3.613h-4.77zM197.35 188.19h4.77v3.613h-4.77zM47.10 191.81h4.78v3.613h-4.78zM81.42 191.81h4.81v3.613h-4.81zM95.86 191.81h4.81v3.613h-4.81zM100.67 191.81h4.81v3.613h-4.81zM120.97 191.81h4.77v3.613h-4.77zM130.52 191.81h4.77v3.613h-4.77zM144.84 191.81h4.77v3.613h-4.77zM187.81 191.81h4.77v3.613h-4.77zM192.58 191.81h4.77v3.613h-4.77zM27.98 195.42h4.78v3.613h-4.78zM86.23 195.42h4.81v3.613h-4.81zM91.04 195.42h4.81v3.613h-4.81zM110.29 195.42h4.81v3.613h-4.81zM135.29 195.42h4.77v3.613h-4.77zM140.07 195.42h4.77v3.613h-4.77zM154.39 195.42h4.77v3.613h-4.77zM187.81 195.42h4.77v3.613h-4.77zM27.98 199.03h4.78v3.613h-4.78zM47.10 199.03h4.78v3.613h-4.78zM51.88 199.03h4.78v3.613h-4.78zM61.44 199.03h4.78v3.613h-4.78zM81.42 199.03h4.81v3.613h-4.81zM86.23 199.03h4.81v3.613h-4.81zM95.86 199.03h4.81v3.613h-4.81zM120.97 199.03h4.77v3.613h-4.77zM135.29 199.03h4.77v3.613h-4.77zM154.39 199.03h4.77v3.613h-4.77zM192.58 199.03h4.77v3.613h-4.77zM37.54 202.65h4.78v3.613h-4.78zM56.66 202.65h4.78v3.613h-4.78zM71.80 202.65h4.81v3.613h-4.81zM86.23 202.65h4.81v3.613h-4.81zM91.04 202.65h4.81v3.613h-4.81zM95.86 202.65h4.81v3.613h-4.81zM100.67 202.65h4.81v3.613h-4.81zM135.29 202.65h4.77v3.613h-4.77zM149.62 202.65h4.77v3.613h-4.77zM154.39 202.65h4.77v3.613h-4.77zM178.26 202.65h4.77v3.613h-4.77zM23.20 206.26h4.78v3.613h-4.78zM47.10 206.26h4.78v3.613h-4.78zM51.88 206.26h4.78v3.613h-4.78zM71.80 206.26h4.81v3.613h-4.81zM76.61 206.26h4.81v3.613h-4.81zM95.86 206.26h4.81v3.613h-4.81zM100.67 206.26h4.81v3.613h-4.81zM140.07 206.26h4.77v3.613h-4.77zM149.62 206.26h4.77v3.613h-4.77zM154.39 206.26h4.77v3.613h-4.77zM202.13 206.26h4.77v3.613h-4.77zM23.20 209.87h4.78v3.613h-4.78zM76.61 209.87h4.81v3.613h-4.81zM95.86 209.87h4.81v3.613h-4.81zM120.97 209.87h4.77v3.613h-4.77zM140.07 209.87h4.77v3.613h-4.77zM144.84 209.87h4.77v3.613h-4.77zM159.16 209.87h4.77v3.613h-4.77zM27.98 213.49h4.78v3.613h-4.78zM37.54 213.49h4.78v3.613h-4.78zM47.10 213.49h4.78v3.613h-4.78zM51.88 213.49h4.78v3.613h-4.78zM95.86 213.49h4.81v3.613h-4.81zM110.29 213.49h4.81v3.613h-4.81zM120.97 213.49h4.77v3.613h-4.77zM130.52 213.49h4.77v3.613h-4.77zM140.07 213.49h4.77v3.613h-4.77zM144.84 213.49h4.77v3.613h-4.77zM154.39 213.49h4.77v3.613h-4.77zM159.16 213.49h4.77v3.613h-4.77zM163.94 213.49h4.77v3.613h-4.77zM168.71 213.49h4.77v3.613h-4.77zM173.48 213.49h4.77v3.613h-4.77zM23.20 217.10h4.78v3.613h-4.78zM32.76 217.10h4.78v3.613h-4.78zM37.54 217.10h4.78v3.613h-4.78zM42.32 217.10h4.78v3.613h-4.78zM47.10 217.10h4.78v3.613h-4.78zM61.44 217.10h4.78v3.613h-4.78zM125.75 217.10h4.77v3.613h-4.77zM140.07 217.10h4.77v3.613h-4.77zM144.84 217.10h4.77v3.613h-4.77zM159.16 217.10h4.77v3.613h-4.77zM56.66 220.71h4.78v3.613h-4.78zM110.29 220.71h4.81v3.613h-4.81zM130.52 220.71h4.77v3.613h-4.77zM144.84 220.71h4.77v3.613h-4.77zM154.39 220.71h4.77v3.613h-4.77zM159.16 220.71h4.77v3.613h-4.77z"/>
<path fill="#a9cce6" d="M32.76 50.90h4.78v3.613h-4.78zM159.16 50.90h4.77v3.613h-4.77zM51.88 54.51h4.78v3.613h-4.78zM154.39 54.51h4.77v3.613h-4.77zM183.03 54.51h4.77v3.613h-4.77zM42.32 58.13h4.78v3.613h-4.78zM154.39 58.13h4.77v3.613h-4.77zM23.20 61.74h4.78v3.613h-4.78zM100.67 61.74h4.81v3.613h-4.81zM173.48 61.74h4.77v3.613h-4.77zM202.13 61.74h4.77v3.613h-4.77zM95.86 65.35h4.81v3.613h-4.81zM100.67 65.35h4.81v3.613h-4.81zM110.29 65.35h4.81v3.613h-4.81zM192.58 65.35h4.77v3.613h-4.77zM100.67 68.97h4.81v3.613h-4.81zM110.29 68.97h4.81v3.613h-4.81zM168.71 68.97h4.77v3.613h-4.77zM192.58 68.97h4.77v3.613h-4.77zM168.71 72.58h4.77v3.613h-4.77zM202.13 72.58h4.77v3.613h-4.77zM86.23 76.19h4.81v3.613h-4.81zM95.86 76.19h4.81v3.613h-4.81zM100.67 76.19h4.81v3.613h-4.81zM130.52 76.19h4.77v3.613h-4.77zM168.71 76.19h4.77v3.613h-4.77zM178.26 76.19h4.77v3.613h-4.77zM86.23 79.80h4.81v3.613h-4.81zM95.86 79.80h4.81v3.613h-4.81zM100.67 79.80h4.81v3.613h-4.81zM178.26 79.80h4.77v3.613h-4.77zM51.88 83.42h4.78v3.613h-4.78zM178.26 83.42h4.77v3.613h-4.77zM168.71 87.03h4.77v3.613h-4.77zM183.03 87.03h4.77v3.613h-4.77zM197.35 87.03h4.77v3.613h-4.77zM202.13 87.03h4.77v3.613h-4.77zM168.71 90.64h4.77v3.613h-4.77zM187.81 90.64h4.77v3.613h-4.77zM192.58 90.64h4.77v3.613h-4.77zM202.13 90.64h4.77v3.613h-4.77zM125.75 94.26h4.77v3.613h-4.77zM187.81 94.26h4.77v3.613h-4.77zM202.13 94.26h4.77v3.613h-4.77zM168.71 97.87h4.77v3.613h-4.77zM187.81 97.87h4.77v3.613h-4.77zM154.39 101.48h4.77v3.613h-4.77zM178.26 101.48h4.77v3.613h-4.77zM187.81 101.48h4.77v3.613h-4.77zM192.58 101.48h4.77v3.613h-4.77zM81.42 105.09h4.81v3.613h-4.81zM159.16 105.09h4.77v3.613h-4.77zM183.03 105.09h4.77v3.613h-4.77zM197.35 105.09h4.77v3.613h-4.77zM173.48 108.71h4.77v3.613h-4.77zM192.58 108.71h4.77v3.613h-4.77zM202.13 108.71h4.77v3.613h-4.77zM100.67 112.32h4.81v3.613h-4.81zM159.16 112.32h4.77v3.613h-4.77zM168.71 112.32h4.77v3.613h-4.77zM202.13 112.32h4.77v3.613h-4.77zM120.97 115.93h4.77v3.613h-4.77zM178.26 115.93h4.77v3.613h-4.77zM197.35 115.93h4.77v3.613h-4.77zM149.62 119.55h4.77v3.613h-4.77zM168.71 119.55h4.77v3.613h-4.77zM183.03 123.16h4.77v3.613h-4.77zM149.62 126.77h4.77v3.613h-4.77zM187.81 126.77h4.77v3.613h-4.77zM197.35 126.77h4.77v3.613h-4.77zM202.13 126.77h4.77v3.613h-4.77zM192.58 130.39h4.77v3.613h-4.77zM202.13 130.39h4.77v3.613h-4.77zM110.29 134.00h4.81v3.613h-4.81zM168.71 134.00h4.77v3.613h-4.77zM173.48 134.00h4.77v3.613h-4.77zM192.58 134.00h4.77v3.613h-4.77zM110.29 137.61h4.81v3.613h-4.81zM140.07 137.61h4.77v3.613h-4.77zM202.13 137.61h4.77v3.613h-4.77zM178.26 141.22h4.77v3.613h-4.77zM202.13 141.22h4.77v3.613h-4.77zM159.16 144.84h4.77v3.613h-4.77zM178.26 144.84h4.77v3.613h-4.77zM159.16 148.45h4.77v3.613h-4.77zM202.13 148.45h4.77v3.613h-4.77zM178.26 152.06h4.77v3.613h-4.77zM187.81 152.06h4.77v3.613h-4.77zM178.26 155.68h4.77v3.613h-4.77zM183.03 155.68h4.77v3.613h-4.77zM187.81 155.68h4.77v3.613h-4.77zM202.13 155.68h4.77v3.613h-4.77zM183.03 159.29h4.77v3.613h-4.77zM202.13 159.29h4.77v3.613h-4.77zM100.67 162.90h4.81v3.613h-4.81zM159.16 162.90h4.77v3.613h-4.77zM183.03 162.90h4.77v3.613h-4.77zM202.13 162.90h4.77v3.613h-4.77zM183.03 166.52h4.77v3.613h-4.77zM192.58 166.52h4.77v3.613h-4.77zM197.35 166.52h4.77v3.613h-4.77zM202.13 166.52h4.77v3.613h-4.77zM159.16 170.13h4.77v3.613h-4.77zM183.03 170.13h4.77v3.613h-4.77zM187.81 170.13h4.77v3.613h-4.77zM168.71 173.74h4.77v3.613h-4.77zM178.26 173.74h4.77v3.613h-4.77zM187.81 173.74h4.77v3.613h-4.77zM37.54 177.35h4.78v3.613h-4.78zM105.48 177.35h4.81v3.613h-4.81zM159.16 177.35h4.77v3.613h-4.77zM168.71 177.35h4.77v3.613h-4.77zM183.03 177.35h4.77v3.613h-4.77zM159.16 180.97h4.77v3.613h-4.77zM168.71 180.97h4.77v3.613h-4.77zM192.58 180.97h4.77v3.613h-4.77zM135.29 184.58h4.77v3.613h-4.77zM159.16 184.58h4.77v3.613h-4.77zM183.03 184.58h4.77v3.613h-4.77zM32.76 188.19h4.78v3.613h-4.78zM37.54 188.19h4.78v3.613h-4.78zM105.48 188.19h4.81v3.613h-4.81zM110.29 188.19h4.81v3.613h-4.81zM130.52 188.19h4.77v3.613h-4.77zM61.44 191.81h4.78v3.613h-4.78zM149.62 191.81h4.77v3.613h-4.77zM105.48 195.42h4.81v3.613h-4.81zM130.52 195.42h4.77v3.613h-4.77zM105.48 199.03h4.81v3.613h-4.81zM130.52 199.03h4.77v3.613h-4.77zM130.52 202.65h4.77v3.613h-4.77zM202.13 202.65h4.77v3.613h-4.77zM61.44 209.87h4.78v3.613h-4.78zM154.39 209.87h4.77v3.613h-4.77zM56.66 213.49h4.78v3.613h-4.78zM71.80 213.49h4.81v3.613h-4.81zM76.61 213.49h4.81v3.613h-4.81zM173.48 217.10h4.77v3.613h-4.77zM183.03 217.10h4.77v3.613h-4.77zM187.81 217.10h4.77v3.613h-4.77zM197.35 217.10h4.77v3.613h-4.77zM27.98 220.71h4.78v3.613h-4.78zM76.61 220.71h4.81v3.613h-4.81zM86.23 220.71h4.81v3.613h-4.81z"/>
<path fill="#d5e6f3" d="M37.54 50.90h4.78v3.613h-4.78zM51.88 50.90h4.78v3.613h-4.78zM66.22 50.90h4.78v3.613h-4.78zM125.75 50.90h4.77v3.613h-4.77zM130.52 50.90h4.77v3.613h-4.77zM140.07 50.90h4.77v3.613h-4.77zM154.39 50.90h4.77v3.613h-4.77zM178.26 50.90h4.77v3.613h-4.77zM197.35 50.90h4.77v3.613h-4.77zM47.10 54.51h4.78v3.613h-4.78zM71.80 54.51h4.81v3.613h-4.81zM116.20 54.51h4.77v3.613h-4.77zM120.97 54.51h4.77v3.613h-4.77zM125.75 54.51h4.77v3.613h-4.77zM130.52 54.51h4.77v3.613h-4.77zM135.29 54.51h4.77v3.613h-4.77zM140.07 54.51h4.77v3.613h-4.77zM144.84 54.51h4.77v3.613h-4.77zM163.94 54.51h4.77v3.613h-4.77zM178.26 54.51h4.77v3.613h-4.77zM47.10 58.13h4.78v3.613h-4.78zM51.88 58.13h4.78v3.613h-4.78zM56.66 58.13h4.78v3.613h-4.78zM61.44 58.13h4.78v3.613h-4.78zM66.22 58.13h4.78v3.613h-4.78zM76.61 58.13h4.81v3.613h-4.81zM81.42 58.13h4.81v3.613h-4.81zM105.48 58.13h4.81v3.613h-4.81zM116.20 58.13h4.77v3.613h-4.77zM130.52 58.13h4.77v3.613h-4.77zM135.29 58.13h4.77v3.613h-4.77zM144.84 58.13h4.77v3.613h-4.77zM159.16 58.13h4.77v3.613h-4.77zM178.26 58.13h4.77v3.613h-4.77zM183.03 58.13h4.77v3.613h-4.77zM187.81 58.13h4.77v3.613h-4.77zM192.58 58.13h4.77v3.613h-4.77zM76.61 61.74h4.81v3.613h-4.81zM81.42 61.74h4.81v3.613h-4.81zM95.86 61.74h4.81v3.613h-4.81zM105.48 61.74h4.81v3.613h-4.81zM110.29 61.74h4.81v3.613h-4.81zM116.20 61.74h4.77v3.613h-4.77zM125.75 61.74h4.77v3.613h-4.77zM144.84 61.74h4.77v3.613h-4.77zM168.71 61.74h4.77v3.613h-4.77zM178.26 61.74h4.77v3.613h-4.77zM183.03 61.74h4.77v3.613h-4.77zM197.35 61.74h4.77v3.613h-4.77zM81.42 65.35h4.81v3.613h-4.81zM86.23 65.35h4.81v3.613h-4.81zM116.20 65.35h4.77v3.613h-4.77zM125.75 65.35h4.77v3.613h-4.77zM130.52 65.35h4.77v3.613h-4.77zM154.39 65.35h4.77v3.613h-4.77zM163.94 65.35h4.77v3.613h-4.77zM168.71 65.35h4.77v3.613h-4.77zM173.48 65.35h4.77v3.613h-4.77zM183.03 65.35h4.77v3.613h-4.77zM187.81 65.35h4.77v3.613h-4.77zM197.35 65.35h4.77v3.613h-4.77zM202.13 65.35h4.77v3.613h-4.77zM81.42 68.97h4.81v3.613h-4.81zM86.23 68.97h4.81v3.613h-4.81zM95.86 68.97h4.81v3.613h-4.81zM125.75 68.97h4.77v3.613h-4.77zM130.52 68.97h4.77v3.613h-4.77zM154.39 68.97h4.77v3.613h-4.77zM163.94 68.97h4.77v3.613h-4.77zM173.48 68.97h4.77v3.613h-4.77zM178.26 68.97h4.77v3.613h-4.77zM183.03 68.97h4.77v3.613h-4.77zM187.81 68.97h4.77v3.613h-4.77zM197.35 68.97h4.77v3.613h-4.77zM202.13 68.97h4.77v3.613h-4.77zM86.23 72.58h4.81v3.613h-4.81zM95.86 72.58h4.81v3.613h-4.81zM100.67 72.58h4.81v3.613h-4.81zM110.29 72.58h4.81v3.613h-4.81zM116.20 72.58h4.77v3.613h-4.77zM125.75 72.58h4.77v3.613h-4.77zM130.52 72.58h4.77v3.613h-4.77zM144.84 72.58h4.77v3.613h-4.77zM163.94 72.58h4.77v3.613h-4.77zM173.48 72.58h4.77v3.613h-4.77zM178.26 72.58h4.77v3.613h-4.77zM183.03 72.58h4.77v3.613h-4.77zM187.81 72.58h4.77v3.613h-4.77zM192.58 72.58h4.77v3.613h-4.77zM197.35 72.58h4.77v3.613h-4.77zM91.04 76.19h4.81v3.613h-4.81zM105.48 76.19h4.81v3.613h-4.81zM110.29 76.19h4.81v3.613h-4.81zM116.20 76.19h4.77v3.613h-4.77zM125.75 76.19h4.77v3.613h-4.77zM154.39 76.19h4.77v3.613h-4.77zM163.94 76.19h4.77v3.613h-4.77zM173.48 76.19h4.77v3.613h-4.77zM183.03 76.19h4.77v3.613h-4.77zM187.81 76.19h4.77v3.613h-4.77zM192.58 76.19h4.77v3.613h-4.77zM197.35 76.19h4.77v3.613h-4.77zM202.13 76.19h4.77v3.613h-4.77zM91.04 79.80h4.81v3.613h-4.81zM105.48 79.80h4.81v3.613h-4.81zM110.29 79.80h4.81v3.613h-4.81zM116.20 79.80h4.77v3.613h-4.77zM125.75 79.80h4.77v3.613h-4.77zM130.52 79.80h4.77v3.613h-4.77zM144.84 79.80h4.77v3.613h-4.77zM154.39 79.80h4.77v3.613h-4.77zM163.94 79.80h4.77v3.613h-4.77zM168.71 79.80h4.77v3.613h-4.77zM183.03 79.80h4.77v3.613h-4.77zM187.81 79.80h4.77v3.613h-4.77zM192.58 79.80h4.77v3.613h-4.77zM197.35 79.80h4.77v3.613h-4.77zM202.13 79.80h4.77v3.613h-4.77zM100.67 83.42h4.81v3.613h-4.81zM120.97 83.42h4.77v3.613h-4.77zM130.52 83.42h4.77v3.613h-4.77zM144.84 83.42h4.77v3.613h-4.77zM154.39 83.42h4.77v3.613h-4.77zM163.94 83.42h4.77v3.613h-4.77zM187.81 83.42h4.77v3.613h-4.77zM202.13 83.42h4.77v3.613h-4.77zM100.67 87.03h4.81v3.613h-4.81zM110.29 87.03h4.81v3.613h-4.81zM120.97 87.03h4.77v3.613h-4.77zM130.52 87.03h4.77v3.613h-4.77zM144.84 87.03h4.77v3.613h-4.77zM154.39 87.03h4.77v3.613h-4.77zM163.94 87.03h4.77v3.613h-4.77zM178.26 87.03h4.77v3.613h-4.77zM192.58 87.03h4.77v3.613h-4.77zM71.80 90.64h4.81v3.613h-4.81zM95.86 90.64h4.81v3.613h-4.81zM100.67 90.64h4.81v3.613h-4.81zM116.20 90.64h4.77v3.613h-4.77zM120.97 90.64h4.77v3.613h-4.77zM125.75 90.64h4.77v3.613h-4.77zM130.52 90.64h4.77v3.613h-4.77zM144.84 90.64h4.77v3.613h-4.77zM154.39 90.64h4.77v3.613h-4.77zM163.94 90.64h4.77v3.613h-4.77zM178.26 90.64h4.77v3.613h-4.77zM183.03 90.64h4.77v3.613h-4.77zM197.35 90.64h4.77v3.613h-4.77zM51.88 94.26h4.78v3.613h-4.78zM95.86 94.26h4.81v3.613h-4.81zM130.52 94.26h4.77v3.613h-4.77zM144.84 94.26h4.77v3.613h-4.77zM149.62 94.26h4.77v3.613h-4.77zM154.39 94.26h4.77v3.613h-4.77zM173.48 94.26h4.77v3.613h-4.77zM178.26 94.26h4.77v3.613h-4.77zM183.03 94.26h4.77v3.613h-4.77zM81.42 97.87h4.81v3.613h-4.81zM95.86 97.87h4.81v3.613h-4.81zM110.29 97.87h4.81v3.613h-4.81zM125.75 97.87h4.77v3.613h-4.77zM130.52 97.87h4.77v3.613h-4.77zM154.39 97.87h4.77v3.613h-4.77zM163.94 97.87h4.77v3.613h-4.77zM178.26 97.87h4.77v3.613h-4.77zM183.03 97.87h4.77v3.613h-4.77zM192.58 97.87h4.77v3.613h-4.77zM197.35 97.87h4.77v3.613h-4.77zM202.13 97.87h4.77v3.613h-4.77zM95.86 101.48h4.81v3.613h-4.81zM100.67 101.48h4.81v3.613h-4.81zM110.29 101.48h4.81v3.613h-4.81zM116.20 101.48h4.77v3.613h-4.77zM120.97 101.48h4.77v3.613h-4.77zM130.52 101.48h4.77v3.613h-4.77zM135.29 101.48h4.77v3.613h-4.77zM144.84 101.48h4.77v3.613h-4.77zM149.62 101.48h4.77v3.613h-4.77zM168.71 101.48h4.77v3.613h-4.77zM173.48 101.48h4.77v3.613h-4.77zM183.03 101.48h4.77v3.613h-4.77zM197.35 101.48h4.77v3.613h-4.77zM202.13 101.48h4.77v3.613h-4.77zM66.22 105.09h4.78v3.613h-4.78zM95.86 105.09h4.81v3.613h-4.81zM100.67 105.09h4.81v3.613h-4.81zM135.29 105.09h4.77v3.613h-4.77zM149.62 105.09h4.77v3.613h-4.77zM154.39 105.09h4.77v3.613h-4.77zM168.71 105.09h4.77v3.613h-4.77zM173.48 105.09h4.77v3.613h-4.77zM178.26 105.09h4.77v3.613h-4.77zM187.81 105.09h4.77v3.613h-4.77zM202.13 105.09h4.77v3.613h-4.77zM66.22 108.71h4.78v3.613h-4.78zM71.80 108.71h4.81v3.613h-4.81zM81.42 108.71h4.81v3.613h-4.81zM95.86 108.71h4.81v3.613h-4.81zM110.29 108.71h4.81v3.613h-4.81zM125.75 108.71h4.77v3.613h-4.77zM140.07 108.71h4.77v3.613h-4.77zM154.39 108.71h4.77v3.613h-4.77zM159.16 108.71h4.77v3.613h-4.77zM163.94 108.71h4.77v3.613h-4.77zM178.26 108.71h4.77v3.613h-4.77zM183.03 108.71h4.77v3.613h-4.77zM197.35 108.71h4.77v3.613h-4.77zM32.76 112.32h4.78v3.613h-4.78zM81.42 112.32h4.81v3.613h-4.81zM95.86 112.32h4.81v3.613h-4.81zM110.29 112.32h4.81v3.613h-4.81zM120.97 112.32h4.77v3.613h-4.77zM130.52 112.32h4.77v3.613h-4.77zM140.07 112.32h4.77v3.613h-4.77zM144.84 112.32h4.77v3.613h-4.77zM154.39 112.32h4.77v3.613h-4.77zM163.94 112.32h4.77v3.613h-4.77zM178.26 112.32h4.77v3.613h-4.77zM197.35 112.32h4.77v3.613h-4.77zM61.44 115.93h4.78v3.613h-4.78zM81.42 115.93h4.81v3.613h-4.81zM95.86 115.93h4.81v3.613h-4.81zM100.67 115.93h4.81v3.613h-4.81zM116.20 115.93h4.77v3.613h-4.77zM135.29 115.93h4.77v3.613h-4.77zM140.07 115.93h4.77v3.613h-4.77zM144.84 115.93h4.77v3.613h-4.77zM159.16 115.93h4.77v3.613h-4.77zM168.71 115.93h4.77v3.613h-4.77zM173.48 115.93h4.77v3.613h-4.77zM183.03 115.93h4.77v3.613h-4.77zM187.81 115.93h4.77v3.613h-4.77zM192.58 115.93h4.77v3.613h-4.77zM202.13 115.93h4.77v3.613h-4.77zM47.10 119.55h4.78v3.613h-4.78zM51.88 119.55h4.78v3.613h-4.78zM91.04 119.55h4.81v3.613h-4.81zM135.29 119.55h4.77v3.613h-4.77zM140.07 119.55h4.77v3.613h-4.77zM144.84 119.55h4.77v3.613h-4.77zM159.16 119.55h4.77v3.613h-4.77zM163.94 119.55h4.77v3.613h-4.77zM183.03 119.55h4.77v3.613h-4.77zM42.32 123.16h4.78v3.613h-4.78zM51.88 123.16h4.78v3.613h-4.78zM61.44 123.16h4.78v3.613h-4.78zM71.80 123.16h4.81v3.613h-4.81zM116.20 123.16h4.77v3.613h-4.77zM120.97 123.16h4.77v3.613h-4.77zM130.52 123.16h4.77v3.613h-4.77zM135.29 123.16h4.77v3.613h-4.77zM144.84 123.16h4.77v3.613h-4.77zM154.39 123.16h4.77v3.613h-4.77zM163.94 123.16h4.77v3.613h-4.77zM168.71 123.16h4.77v3.613h-4.77zM178.26 123.16h4.77v3.613h-4.77zM202.13 123.16h4.77v3.613h-4.77zM37.54 126.77h4.78v3.613h-4.78zM42.32 126.77h4.78v3.613h-4.78zM51.88 126.77h4.78v3.613h-4.78zM61.44 126.77h4.78v3.613h-4.78zM71.80 126.77h4.81v3.613h-4.81zM110.29 126.77h4.81v3.613h-4.81zM120.97 126.77h4.77v3.613h-4.77zM135.29 126.77h4.77v3.613h-4.77zM144.84 126.77h4.77v3.613h-4.77zM154.39 126.77h4.77v3.613h-4.77zM159.16 126.77h4.77v3.613h-4.77zM163.94 126.77h4.77v3.613h-4.77zM168.71 126.77h4.77v3.613h-4.77zM173.48 126.77h4.77v3.613h-4.77zM178.26 126.77h4.77v3.613h-4.77zM183.03 126.77h4.77v3.613h-4.77zM192.58 126.77h4.77v3.613h-4.77zM71.80 130.39h4.81v3.613h-4.81zM100.67 130.39h4.81v3.613h-4.81zM110.29 130.39h4.81v3.613h-4.81zM130.52 130.39h4.77v3.613h-4.77zM140.07 130.39h4.77v3.613h-4.77zM144.84 130.39h4.77v3.613h-4.77zM149.62 130.39h4.77v3.613h-4.77zM163.94 130.39h4.77v3.613h-4.77zM168.71 130.39h4.77v3.613h-4.77zM173.48 130.39h4.77v3.613h-4.77zM183.03 130.39h4.77v3.613h-4.77zM197.35 130.39h4.77v3.613h-4.77zM116.20 134.00h4.77v3.613h-4.77zM125.75 134.00h4.77v3.613h-4.77zM130.52 134.00h4.77v3.613h-4.77zM140.07 134.00h4.77v3.613h-4.77zM144.84 134.00h4.77v3.613h-4.77zM149.62 134.00h4.77v3.613h-4.77zM154.39 134.00h4.77v3.613h-4.77zM178.26 134.00h4.77v3.613h-4.77zM183.03 134.00h4.77v3.613h-4.77zM197.35 134.00h4.77v3.613h-4.77zM47.10 137.61h4.78v3.613h-4.78zM51.88 137.61h4.78v3.613h-4.78zM66.22 137.61h4.78v3.613h-4.78zM125.75 137.61h4.77v3.613h-4.77zM130.52 137.61h4.77v3.613h-4.77zM144.84 137.61h4.77v3.613h-4.77zM149.62 137.61h4.77v3.613h-4.77zM154.39 137.61h4.77v3.613h-4.77zM159.16 137.61h4.77v3.613h-4.77zM163.94 137.61h4.77v3.613h-4.77zM168.71 137.61h4.77v3.613h-4.77zM173.48 137.61h4.77v3.613h-4.77zM178.26 137.61h4.77v3.613h-4.77zM183.03 137.61h4.77v3.613h-4.77zM187.81 137.61h4.77v3.613h-4.77zM192.58 137.61h4.77v3.613h-4.77zM197.35 137.61h4.77v3.613h-4.77zM42.32 141.22h4.78v3.613h-4.78zM56.66 141.22h4.78v3.613h-4.78zM105.48 141.22h4.81v3.613h-4.81zM110.29 141.22h4.81v3.613h-4.81zM116.20 141.22h4.77v3.613h-4.77zM120.97 141.22h4.77v3.613h-4.77zM140.07 141.22h4.77v3.613h-4.77zM149.62 141.22h4.77v3.613h-4.77zM154.39 141.22h4.77v3.613h-4.77zM168.71 141.22h4.77v3.613h-4.77zM173.48 141.22h4.77v3.613h-4.77zM192.58 141.22h4.77v3.613h-4.77zM197.35 141.22h4.77v3.613h-4.77zM105.48 144.84h4.81v3.613h-4.81zM110.29 144.84h4.81v3.613h-4.81zM116.20 144.84h4.77v3.613h-4.77zM120.97 144.84h4.77v3.613h-4.77zM140.07 144.84h4.77v3.613h-4.77zM144.84 144.84h4.77v3.613h-4.77zM149.62 144.84h4.77v3.613h-4.77zM154.39 144.84h4.77v3.613h-4.77zM168.71 144.84h4.77v3.613h-4.77zM173.48 144.84h4.77v3.613h-4.77zM192.58 144.84h4.77v3.613h-4.77zM197.35 144.84h4.77v3.613h-4.77zM32.76 148.45h4.78v3.613h-4.78zM42.32 148.45h4.78v3.613h-4.78zM56.66 148.45h4.78v3.613h-4.78zM105.48 148.45h4.81v3.613h-4.81zM116.20 148.45h4.77v3.613h-4.77zM130.52 148.45h4.77v3.613h-4.77zM140.07 148.45h4.77v3.613h-4.77zM149.62 148.45h4.77v3.613h-4.77zM154.39 148.45h4.77v3.613h-4.77zM163.94 148.45h4.77v3.613h-4.77zM168.71 148.45h4.77v3.613h-4.77zM173.48 148.45h4.77v3.613h-4.77zM192.58 148.45h4.77v3.613h-4.77zM42.32 152.06h4.78v3.613h-4.78zM47.10 152.06h4.78v3.613h-4.78zM51.88 152.06h4.78v3.613h-4.78zM56.66 152.06h4.78v3.613h-4.78zM66.22 152.06h4.78v3.613h-4.78zM110.29 152.06h4.81v3.613h-4.81zM125.75 152.06h4.77v3.613h-4.77zM130.52 152.06h4.77v3.613h-4.77zM140.07 152.06h4.77v3.613h-4.77zM144.84 152.06h4.77v3.613h-4.77zM168.71 152.06h4.77v3.613h-4.77zM192.58 152.06h4.77v3.613h-4.77zM202.13 152.06h4.77v3.613h-4.77zM110.29 155.68h4.81v3.613h-4.81zM125.75 155.68h4.77v3.613h-4.77zM130.52 155.68h4.77v3.613h-4.77zM135.29 155.68h4.77v3.613h-4.77zM140.07 155.68h4.77v3.613h-4.77zM149.62 155.68h4.77v3.613h-4.77zM154.39 155.68h4.77v3.613h-4.77zM163.94 155.68h4.77v3.613h-4.77zM168.71 155.68h4.77v3.613h-4.77zM173.48 155.68h4.77v3.613h-4.77zM197.35 155.68h4.77v3.613h-4.77zM42.32 159.29h4.78v3.613h-4.78zM71.80 159.29h4.81v3.613h-4.81zM100.67 159.29h4.81v3.613h-4.81zM105.48 159.29h4.81v3.613h-4.81zM110.29 159.29h4.81v3.613h-4.81zM130.52 159.29h4.77v3.613h-4.77zM144.84 159.29h4.77v3.613h-4.77zM149.62 159.29h4.77v3.613h-4.77zM154.39 159.29h4.77v3.613h-4.77zM159.16 159.29h4.77v3.613h-4.77zM163.94 159.29h4.77v3.613h-4.77zM168.71 159.29h4.77v3.613h-4.77zM173.48 159.29h4.77v3.613h-4.77zM178.26 159.29h4.77v3.613h-4.77zM192.58 159.29h4.77v3.613h-4.77zM197.35 159.29h4.77v3.613h-4.77zM47.10 162.90h4.78v3.613h-4.78zM66.22 162.90h4.78v3.613h-4.78zM71.80 162.90h4.81v3.613h-4.81zM110.29 162.90h4.81v3.613h-4.81zM125.75 162.90h4.77v3.613h-4.77zM130.52 162.90h4.77v3.613h-4.77zM140.07 162.90h4.77v3.613h-4.77zM144.84 162.90h4.77v3.613h-4.77zM154.39 162.90h4.77v3.613h-4.77zM168.71 162.90h4.77v3.613h-4.77zM178.26 162.90h4.77v3.613h-4.77zM192.58 162.90h4.77v3.613h-4.77zM197.35 162.90h4.77v3.613h-4.77zM51.88 166.52h4.78v3.613h-4.78zM100.67 166.52h4.81v3.613h-4.81zM110.29 166.52h4.81v3.613h-4.81zM116.20 166.52h4.77v3.613h-4.77zM120.97 166.52h4.77v3.613h-4.77zM130.52 166.52h4.77v3.613h-4.77zM140.07 166.52h4.77v3.613h-4.77zM144.84 166.52h4.77v3.613h-4.77zM149.62 166.52h4.77v3.613h-4.77zM154.39 166.52h4.77v3.613h-4.77zM159.16 166.52h4.77v3.613h-4.77zM163.94 166.52h4.77v3.613h-4.77zM168.71 166.52h4.77v3.613h-4.77zM173.48 166.52h4.77v3.613h-4.77zM178.26 166.52h4.77v3.613h-4.77zM47.10 170.13h4.78v3.613h-4.78zM51.88 170.13h4.78v3.613h-4.78zM61.44 170.13h4.78v3.613h-4.78zM71.80 170.13h4.81v3.613h-4.81zM95.86 170.13h4.81v3.613h-4.81zM100.67 170.13h4.81v3.613h-4.81zM130.52 170.13h4.77v3.613h-4.77zM144.84 170.13h4.77v3.613h-4.77zM149.62 170.13h4.77v3.613h-4.77zM154.39 170.13h4.77v3.613h-4.77zM163.94 170.13h4.77v3.613h-4.77zM168.71 170.13h4.77v3.613h-4.77zM173.48 170.13h4.77v3.613h-4.77zM192.58 170.13h4.77v3.613h-4.77zM202.13 170.13h4.77v3.613h-4.77zM51.88 173.74h4.78v3.613h-4.78zM61.44 173.74h4.78v3.613h-4.78zM66.22 173.74h4.78v3.613h-4.78zM71.80 173.74h4.81v3.613h-4.81zM76.61 173.74h4.81v3.613h-4.81zM95.86 173.74h4.81v3.613h-4.81zM100.67 173.74h4.81v3.613h-4.81zM105.48 173.74h4.81v3.613h-4.81zM110.29 173.74h4.81v3.613h-4.81zM140.07 173.74h4.77v3.613h-4.77zM144.84 173.74h4.77v3.613h-4.77zM149.62 173.74h4.77v3.613h-4.77zM154.39 173.74h4.77v3.613h-4.77zM163.94 173.74h4.77v3.613h-4.77zM173.48 173.74h4.77v3.613h-4.77zM183.03 173.74h4.77v3.613h-4.77zM192.58 173.74h4.77v3.613h-4.77zM197.35 173.74h4.77v3.613h-4.77zM202.13 173.74h4.77v3.613h-4.77zM56.66 177.35h4.78v3.613h-4.78zM61.44 177.35h4.78v3.613h-4.78zM91.04 177.35h4.81v3.613h-4.81zM100.67 177.35h4.81v3.613h-4.81zM125.75 177.35h4.77v3.613h-4.77zM130.52 177.35h4.77v3.613h-4.77zM135.29 177.35h4.77v3.613h-4.77zM144.84 177.35h4.77v3.613h-4.77zM149.62 177.35h4.77v3.613h-4.77zM163.94 177.35h4.77v3.613h-4.77zM173.48 177.35h4.77v3.613h-4.77zM187.81 177.35h4.77v3.613h-4.77zM192.58 177.35h4.77v3.613h-4.77zM202.13 177.35h4.77v3.613h-4.77zM42.32 180.97h4.78v3.613h-4.78zM61.44 180.97h4.78v3.613h-4.78zM66.22 180.97h4.78v3.613h-4.78zM100.67 180.97h4.81v3.613h-4.81zM105.48 180.97h4.81v3.613h-4.81zM110.29 180.97h4.81v3.613h-4.81zM120.97 180.97h4.77v3.613h-4.77zM149.62 180.97h4.77v3.613h-4.77zM154.39 180.97h4.77v3.613h-4.77zM163.94 180.97h4.77v3.613h-4.77zM178.26 180.97h4.77v3.613h-4.77zM187.81 180.97h4.77v3.613h-4.77zM27.98 184.58h4.78v3.613h-4.78zM47.10 184.58h4.78v3.613h-4.78zM51.88 184.58h4.78v3.613h-4.78zM76.61 184.58h4.81v3.613h-4.81zM110.29 184.58h4.81v3.613h-4.81zM125.75 184.58h4.77v3.613h-4.77zM130.52 184.58h4.77v3.613h-4.77zM140.07 184.58h4.77v3.613h-4.77zM144.84 184.58h4.77v3.613h-4.77zM149.62 184.58h4.77v3.613h-4.77zM154.39 184.58h4.77v3.613h-4.77zM178.26 184.58h4.77v3.613h-4.77zM202.13 184.58h4.77v3.613h-4.77zM27.98 188.19h4.78v3.613h-4.78zM51.88 188.19h4.78v3.613h-4.78zM61.44 188.19h4.78v3.613h-4.78zM125.75 188.19h4.77v3.613h-4.77zM140.07 188.19h4.77v3.613h-4.77zM144.84 188.19h4.77v3.613h-4.77zM149.62 188.19h4.77v3.613h-4.77zM154.39 188.19h4.77v3.613h-4.77zM159.16 188.19h4.77v3.613h-4.77zM173.48 188.19h4.77v3.613h-4.77zM178.26 188.19h4.77v3.613h-4.77zM202.13 188.19h4.77v3.613h-4.77zM23.20 191.81h4.78v3.613h-4.78zM32.76 191.81h4.78v3.613h-4.78zM42.32 191.81h4.78v3.613h-4.78zM51.88 191.81h4.78v3.613h-4.78zM86.23 191.81h4.81v3.613h-4.81zM105.48 191.81h4.81v3.613h-4.81zM116.20 191.81h4.77v3.613h-4.77zM125.75 191.81h4.77v3.613h-4.77zM135.29 191.81h4.77v3.613h-4.77zM140.07 191.81h4.77v3.613h-4.77zM159.16 191.81h4.77v3.613h-4.77zM202.13 191.81h4.77v3.613h-4.77zM37.54 195.42h4.78v3.613h-4.78zM42.32 195.42h4.78v3.613h-4.78zM47.10 195.42h4.78v3.613h-4.78zM51.88 195.42h4.78v3.613h-4.78zM56.66 195.42h4.78v3.613h-4.78zM61.44 195.42h4.78v3.613h-4.78zM71.80 195.42h4.81v3.613h-4.81zM116.20 195.42h4.77v3.613h-4.77zM120.97 195.42h4.77v3.613h-4.77zM144.84 195.42h4.77v3.613h-4.77zM149.62 195.42h4.77v3.613h-4.77zM159.16 195.42h4.77v3.613h-4.77zM163.94 195.42h4.77v3.613h-4.77zM168.71 195.42h4.77v3.613h-4.77zM178.26 195.42h4.77v3.613h-4.77zM183.03 195.42h4.77v3.613h-4.77zM192.58 195.42h4.77v3.613h-4.77zM197.35 195.42h4.77v3.613h-4.77zM202.13 195.42h4.77v3.613h-4.77zM23.20 199.03h4.78v3.613h-4.78zM32.76 199.03h4.78v3.613h-4.78zM37.54 199.03h4.78v3.613h-4.78zM42.32 199.03h4.78v3.613h-4.78zM66.22 199.03h4.78v3.613h-4.78zM91.04 199.03h4.81v3.613h-4.81zM125.75 199.03h4.77v3.613h-4.77zM140.07 199.03h4.77v3.613h-4.77zM144.84 199.03h4.77v3.613h-4.77zM163.94 199.03h4.77v3.613h-4.77zM168.71 199.03h4.77v3.613h-4.77zM173.48 199.03h4.77v3.613h-4.77zM178.26 199.03h4.77v3.613h-4.77zM183.03 199.03h4.77v3.613h-4.77zM187.81 199.03h4.77v3.613h-4.77zM197.35 199.03h4.77v3.613h-4.77zM202.13 199.03h4.77v3.613h-4.77zM42.32 202.65h4.78v3.613h-4.78zM47.10 202.65h4.78v3.613h-4.78zM51.88 202.65h4.78v3.613h-4.78zM61.44 202.65h4.78v3.613h-4.78zM105.48 202.65h4.81v3.613h-4.81zM110.29 202.65h4.81v3.613h-4.81zM116.20 202.65h4.77v3.613h-4.77zM140.07 202.65h4.77v3.613h-4.77zM144.84 202.65h4.77v3.613h-4.77zM163.94 202.65h4.77v3.613h-4.77zM168.71 202.65h4.77v3.613h-4.77zM173.48 202.65h4.77v3.613h-4.77zM183.03 202.65h4.77v3.613h-4.77zM187.81 202.65h4.77v3.613h-4.77zM192.58 202.65h4.77v3.613h-4.77zM197.35 202.65h4.77v3.613h-4.77zM27.98 206.26h4.78v3.613h-4.78zM32.76 206.26h4.78v3.613h-4.78zM37.54 206.26h4.78v3.613h-4.78zM42.32 206.26h4.78v3.613h-4.78zM56.66 206.26h4.78v3.613h-4.78zM66.22 206.26h4.78v3.613h-4.78zM86.23 206.26h4.81v3.613h-4.81zM91.04 206.26h4.81v3.613h-4.81zM105.48 206.26h4.81v3.613h-4.81zM130.52 206.26h4.77v3.613h-4.77zM135.29 206.26h4.77v3.613h-4.77zM173.48 206.26h4.77v3.613h-4.77zM178.26 206.26h4.77v3.613h-4.77zM183.03 206.26h4.77v3.613h-4.77zM187.81 206.26h4.77v3.613h-4.77zM192.58 206.26h4.77v3.613h-4.77zM197.35 206.26h4.77v3.613h-4.77zM27.98 209.87h4.78v3.613h-4.78zM37.54 209.87h4.78v3.613h-4.78zM42.32 209.87h4.78v3.613h-4.78zM47.10 209.87h4.78v3.613h-4.78zM51.88 209.87h4.78v3.613h-4.78zM56.66 209.87h4.78v3.613h-4.78zM66.22 209.87h4.78v3.613h-4.78zM81.42 209.87h4.81v3.613h-4.81zM86.23 209.87h4.81v3.613h-4.81zM91.04 209.87h4.81v3.613h-4.81zM100.67 209.87h4.81v3.613h-4.81zM105.48 209.87h4.81v3.613h-4.81zM110.29 209.87h4.81v3.613h-4.81zM125.75 209.87h4.77v3.613h-4.77zM149.62 209.87h4.77v3.613h-4.77zM163.94 209.87h4.77v3.613h-4.77zM168.71 209.87h4.77v3.613h-4.77zM173.48 209.87h4.77v3.613h-4.77zM183.03 209.87h4.77v3.613h-4.77zM187.81 209.87h4.77v3.613h-4.77zM192.58 209.87h4.77v3.613h-4.77zM197.35 209.87h4.77v3.613h-4.77zM202.13 209.87h4.77v3.613h-4.77zM23.20 213.49h4.78v3.613h-4.78zM61.44 213.49h4.78v3.613h-4.78zM66.22 213.49h4.78v3.613h-4.78zM81.42 213.49h4.81v3.613h-4.81zM86.23 213.49h4.81v3.613h-4.81zM91.04 213.49h4.81v3.613h-4.81zM100.67 213.49h4.81v3.613h-4.81zM125.75 213.49h4.77v3.613h-4.77zM135.29 213.49h4.77v3.613h-4.77zM149.62 213.49h4.77v3.613h-4.77zM178.26 213.49h4.77v3.613h-4.77zM183.03 213.49h4.77v3.613h-4.77zM187.81 213.49h4.77v3.613h-4.77zM192.58 213.49h4.77v3.613h-4.77zM51.88 217.10h4.78v3.613h-4.78zM56.66 217.10h4.78v3.613h-4.78zM66.22 217.10h4.78v3.613h-4.78zM71.80 217.10h4.81v3.613h-4.81zM76.61 217.10h4.81v3.613h-4.81zM81.42 217.10h4.81v3.613h-4.81zM86.23 217.10h4.81v3.613h-4.81zM91.04 217.10h4.81v3.613h-4.81zM100.67 217.10h4.81v3.613h-4.81zM110.29 217.10h4.81v3.613h-4.81zM135.29 217.10h4.77v3.613h-4.77zM149.62 217.10h4.77v3.613h-4.77zM154.39 217.10h4.77v3.613h-4.77zM163.94 217.10h4.77v3.613h-4.77zM178.26 217.10h4.77v3.613h-4.77zM192.58 217.10h4.77v3.613h-4.77zM23.20 220.71h4.78v3.613h-4.78zM32.76 220.71h4.78v3.613h-4.78zM37.54 220.71h4.78v3.613h-4.78zM42.32 220.71h4.78v3.613h-4.78zM47.10 220.71h4.78v3.613h-4.78zM51.88 220.71h4.78v3.613h-4.78zM61.44 220.71h4.78v3.613h-4.78zM66.22 220.71h4.78v3.613h-4.78zM71.80 220.71h4.81v3.613h-4.81zM81.42 220.71h4.81v3.613h-4.81zM91.04 220.71h4.81v3.613h-4.81zM95.86 220.71h4.81v3.613h-4.81zM100.67 220.71h4.81v3.613h-4.81zM125.75 220.71h4.77v3.613h-4.77zM135.29 220.71h4.77v3.613h-4.77zM140.07 220.71h4.77v3.613h-4.77zM149.62 220.71h4.77v3.613h-4.77zM163.94 220.71h4.77v3.613h-4.77zM173.48 220.71h4.77v3.613h-4.77zM183.03 220.71h4.77v3.613h-4.77zM192.58 220.71h4.77v3.613h-4.77zM197.35 220.71h4.77v3.613h-4.77zM202.13 220.71h4.77v3.613h-4.77z"/>
<path fill="#f0a886" d="M71.80 50.90h4.81v3.613h-4.81zM168.71 50.90h4.77v3.613h-4.77zM192.58 50.90h4.77v3.613h-4.77zM23.20 54.51h4.78v3.613h-4.78zM91.04 58.13h4.81v3.613h-4.81zM120.97 58.13h4.77v3.613h-4.77zM149.62 58.13h4.77v3.613h-4.77zM163.94 58.13h4.77v3.613h-4.77zM168.71 58.13h4.77v3.613h-4.77zM197.35 58.13h4.77v3.613h-4.77zM42.32 61.74h4.78v3.613h-4.78zM187.81 61.74h4.77v3.613h-4.77zM42.32 65.35h4.78v3.613h-4.78zM51.88 68.97h4.78v3.613h-4.78zM27.98 72.58h4.78v3.613h-4.78zM42.32 72.58h4.78v3.613h-4.78zM61.44 72.58h4.78v3.613h-4.78zM27.98 76.19h4.78v3.613h-4.78zM42.32 76.19h4.78v3.613h-4.78zM27.98 79.80h4.78v3.613h-4.78zM42.32 79.80h4.78v3.613h-4.78zM105.48 83.42h4.81v3.613h-4.81zM23.20 87.03h4.78v3.613h-4.78zM27.98 87.03h4.78v3.613h-4.78zM32.76 87.03h4.78v3.613h-4.78zM76.61 87.03h4.81v3.613h-4.81zM27.98 90.64h4.78v3.613h-4.78zM61.44 90.64h4.78v3.613h-4.78zM159.16 90.64h4.77v3.613h-4.77zM23.20 94.26h4.78v3.613h-4.78zM56.66 94.26h4.78v3.613h-4.78zM86.23 94.26h4.81v3.613h-4.81zM23.20 97.87h4.78v3.613h-4.78zM27.98 97.87h4.78v3.613h-4.78zM37.54 97.87h4.78v3.613h-4.78zM23.20 101.48h4.78v3.613h-4.78zM37.54 101.48h4.78v3.613h-4.78zM71.80 101.48h4.81v3.613h-4.81zM105.48 101.48h4.81v3.613h-4.81zM37.54 108.71h4.78v3.613h-4.78zM42.32 108.71h4.78v3.613h-4.78zM27.98 115.93h4.78v3.613h-4.78zM47.10 115.93h4.78v3.613h-4.78zM81.42 119.55h4.81v3.613h-4.81zM105.48 119.55h4.81v3.613h-4.81zM23.20 126.77h4.78v3.613h-4.78zM76.61 126.77h4.81v3.613h-4.81zM76.61 130.39h4.81v3.613h-4.81zM27.98 134.00h4.78v3.613h-4.78zM56.66 134.00h4.78v3.613h-4.78zM76.61 134.00h4.81v3.613h-4.81zM81.42 134.00h4.81v3.613h-4.81zM27.98 137.61h4.78v3.613h-4.78zM56.66 137.61h4.78v3.613h-4.78zM71.80 137.61h4.81v3.613h-4.81zM81.42 137.61h4.81v3.613h-4.81zM86.23 137.61h4.81v3.613h-4.81zM23.20 141.22h4.78v3.613h-4.78zM81.42 141.22h4.81v3.613h-4.81zM91.04 141.22h4.81v3.613h-4.81zM95.86 141.22h4.81v3.613h-4.81zM100.67 141.22h4.81v3.613h-4.81zM81.42 144.84h4.81v3.613h-4.81zM23.20 148.45h4.78v3.613h-4.78zM91.04 148.45h4.81v3.613h-4.81zM95.86 148.45h4.81v3.613h-4.81zM100.67 148.45h4.81v3.613h-4.81zM135.29 148.45h4.77v3.613h-4.77zM95.86 152.06h4.81v3.613h-4.81zM23.20 155.68h4.78v3.613h-4.78zM37.54 155.68h4.78v3.613h-4.78zM81.42 159.29h4.81v3.613h-4.81zM91.04 159.29h4.81v3.613h-4.81zM120.97 159.29h4.77v3.613h-4.77zM32.76 162.90h4.78v3.613h-4.78zM86.23 162.90h4.81v3.613h-4.81zM23.20 166.52h4.78v3.613h-4.78zM32.76 166.52h4.78v3.613h-4.78zM86.23 166.52h4.81v3.613h-4.81zM105.48 166.52h4.81v3.613h-4.81zM32.76 170.13h4.78v3.613h-4.78zM71.80 177.35h4.81v3.613h-4.81zM81.42 177.35h4.81v3.613h-4.81zM110.29 177.35h4.81v3.613h-4.81zM135.29 180.97h4.77v3.613h-4.77zM197.35 180.97h4.77v3.613h-4.77zM95.86 184.58h4.81v3.613h-4.81zM192.58 184.58h4.77v3.613h-4.77zM81.42 188.19h4.81v3.613h-4.81zM95.86 188.19h4.81v3.613h-4.81zM116.20 188.19h4.77v3.613h-4.77zM66.22 191.81h4.78v3.613h-4.78zM71.80 191.81h4.81v3.613h-4.81zM76.61 191.81h4.81v3.613h-4.81zM110.29 191.81h4.81v3.613h-4.81zM154.39 191.81h4.77v3.613h-4.77zM197.35 191.81h4.77v3.613h-4.77zM66.22 195.42h4.78v3.613h-4.78zM76.61 195.42h4.81v3.613h-4.81zM81.42 195.42h4.81v3.613h-4.81zM71.80 199.03h4.81v3.613h-4.81zM100.67 199.03h4.81v3.613h-4.81zM27.98 202.65h4.78v3.613h-4.78zM81.42 206.26h4.81v3.613h-4.81zM110.29 206.26h4.81v3.613h-4.81zM120.97 206.26h4.77v3.613h-4.77zM71.80 209.87h4.81v3.613h-4.81zM130.52 209.87h4.77v3.613h-4.77zM135.29 209.87h4.77v3.613h-4.77zM178.26 209.87h4.77v3.613h-4.77zM32.76 213.49h4.78v3.613h-4.78zM105.48 213.49h4.81v3.613h-4.81zM116.20 213.49h4.77v3.613h-4.77zM27.98 217.10h4.78v3.613h-4.78zM116.20 220.71h4.77v3.613h-4.77zM120.97 220.71h4.77v3.613h-4.77zM178.26 220.71h4.77v3.613h-4.77z"/>
<path fill="#2e62ad" d="M105.48 50.90h4.81v3.613h-4.81zM168.71 83.42h4.77v3.613h-4.77zM159.16 130.39h4.77v3.613h-4.77zM159.16 155.68h4.77v3.613h-4.77zM61.44 206.26h4.78v3.613h-4.78z"/>
<path fill="#5794c8" d="M116.20 50.90h4.77v3.613h-4.77zM66.22 83.42h4.78v3.613h-4.78zM192.58 83.42h4.77v3.613h-4.77zM187.81 87.03h4.77v3.613h-4.77zM110.29 90.64h4.81v3.613h-4.81zM192.58 94.26h4.77v3.613h-4.77zM100.67 97.87h4.81v3.613h-4.81zM192.58 105.09h4.77v3.613h-4.77zM187.81 108.71h4.77v3.613h-4.77zM187.81 112.32h4.77v3.613h-4.77zM42.32 119.55h4.78v3.613h-4.78zM197.35 119.55h4.77v3.613h-4.77zM86.23 130.39h4.81v3.613h-4.81zM202.13 134.00h4.77v3.613h-4.77zM159.16 141.22h4.77v3.613h-4.77zM183.03 141.22h4.77v3.613h-4.77zM183.03 144.84h4.77v3.613h-4.77zM202.13 144.84h4.77v3.613h-4.77zM183.03 148.45h4.77v3.613h-4.77zM159.16 152.06h4.77v3.613h-4.77zM187.81 159.29h4.77v3.613h-4.77zM187.81 162.90h4.77v3.613h-4.77zM187.81 166.52h4.77v3.613h-4.77zM173.48 191.81h4.77v3.613h-4.77zM183.03 191.81h4.77v3.613h-4.77zM32.76 195.42h4.78v3.613h-4.78zM110.29 199.03h4.81v3.613h-4.81zM125.75 202.65h4.77v3.613h-4.77zM163.94 206.26h4.77v3.613h-4.77zM168.71 206.26h4.77v3.613h-4.77zM197.35 213.49h4.77v3.613h-4.77zM202.13 217.10h4.77v3.613h-4.77z"/>
<path fill="#ae1a2e" d="M110.29 54.51h4.81v3.613h-4.81zM56.66 61.74h4.78v3.613h-4.78zM56.66 68.97h4.78v3.613h-4.78zM23.20 105.09h4.78v3.613h-4.78zM23.20 108.71h4.78v3.613h-4.78zM37.54 115.93h4.78v3.613h-4.78zM66.22 123.16h4.78v3.613h-4.78zM66.22 126.77h4.78v3.613h-4.78zM23.20 144.84h4.78v3.613h-4.78zM23.20 159.29h4.78v3.613h-4.78zM23.20 162.90h4.78v3.613h-4.78zM105.48 170.13h4.81v3.613h-4.81zM23.20 173.74h4.78v3.613h-4.78zM23.20 177.35h4.78v3.613h-4.78zM71.80 188.19h4.81v3.613h-4.81zM76.61 202.65h4.81v3.613h-4.81zM105.48 220.71h4.81v3.613h-4.81z"/>
<path fill="#d86a50" d="M202.13 54.51h4.77v3.613h-4.77zM110.29 58.13h4.81v3.613h-4.81zM61.44 65.35h4.78v3.613h-4.78zM42.32 68.97h4.78v3.613h-4.78zM23.20 83.42h4.78v3.613h-4.78zM125.75 115.93h4.77v3.613h-4.77zM23.20 123.16h4.78v3.613h-4.78zM81.42 148.45h4.81v3.613h-4.81zM71.80 152.06h4.81v3.613h-4.81zM76.61 152.06h4.81v3.613h-4.81zM86.23 159.29h4.81v3.613h-4.81zM23.20 170.13h4.78v3.613h-4.78zM86.23 170.13h4.81v3.613h-4.81zM116.20 173.74h4.77v3.613h-4.77zM23.20 180.97h4.78v3.613h-4.78zM86.23 180.97h4.81v3.613h-4.81zM100.67 184.58h4.81v3.613h-4.81zM197.35 184.58h4.77v3.613h-4.77zM95.86 195.42h4.81v3.613h-4.81zM100.67 195.42h4.81v3.613h-4.81zM56.66 199.03h4.78v3.613h-4.78zM76.61 199.03h4.81v3.613h-4.81zM81.42 202.65h4.81v3.613h-4.81zM116.20 209.87h4.77v3.613h-4.77zM116.20 217.10h4.77v3.613h-4.77zM130.52 217.10h4.77v3.613h-4.77z"/>
<path fill="#c4403c" d="M56.66 65.35h4.78v3.613h-4.78zM56.66 72.58h4.78v3.613h-4.78zM56.66 76.19h4.78v3.613h-4.78zM56.66 79.80h4.78v3.613h-4.78zM56.66 97.87h4.78v3.613h-4.78zM56.66 112.32h4.78v3.613h-4.78zM61.44 112.32h4.78v3.613h-4.78z"/>
<path fill="none" stroke="#bdbdbd" stroke-width="0.5" d="M23.20 50.90V224.32M27.98 50.90V224.32M32.76 50.90V224.32M37.54 50.90V224.32M42.32 50.90V224.32M47.10 50.90V224.32M51.88 50.90V224.32M56.66 50.90V224.32M61.44 50.90V224.32M66.22 50.90V224.32M71.00 50.90V224.32M23.20 50.90H71.00M23.20 54.51H71.00M23.20 58.13H71.00M23.20 61.74H71.00M23.20 65.35H71.00M23.20 68.97H71.00M23.20 72.58H71.00M23.20 76.19H71.00M23.20 79.80H71.00M23.20 83.42H71.00M23.20 87.03H71.00M23.20 90.64H71.00M23.20 94.26H71.00M23.20 97.87H71.00M23.20 101.48H71.00M23.20 105.09H71.00M23.20 108.71H71.00M23.20 112.32H71.00M23.20 115.93H71.00M23.20 119.55H71.00M23.20 123.16H71.00M23.20 126.77H71.00M23.20 130.39H71.00M23.20 134.00H71.00M23.20 137.61H71.00M23.20 141.22H71.00M23.20 144.84H71.00M23.20 148.45H71.00M23.20 152.06H71.00M23.20 155.68H71.00M23.20 159.29H71.00M23.20 162.90H71.00M23.20 166.52H71.00M23.20 170.13H71.00M23.20 173.74H71.00M23.20 177.35H71.00M23.20 180.97H71.00M23.20 184.58H71.00M23.20 188.19H71.00M23.20 191.81H71.00M23.20 195.42H71.00M23.20 199.03H71.00M23.20 202.65H71.00M23.20 206.26H71.00M23.20 209.87H71.00M23.20 213.49H71.00M23.20 217.10H71.00M23.20 220.71H71.00M23.20 224.32H71.00M71.80 50.90V224.32M76.61 50.90V224.32M81.42 50.90V224.32M86.23 50.90V224.32M91.04 50.90V224.32M95.86 50.90V224.32M100.67 50.90V224.32M105.48 50.90V224.32M110.29 50.90V224.32M115.10 50.90V224.32M71.80 50.90H115.10M71.80 54.51H115.10M71.80 58.13H115.10M71.80 61.74H115.10M71.80 65.35H115.10M71.80 68.97H115.10M71.80 72.58H115.10M71.80 76.19H115.10M71.80 79.80H115.10M71.80 83.42H115.10M71.80 87.03H115.10M71.80 90.64H115.10M71.80 94.26H115.10M71.80 97.87H115.10M71.80 101.48H115.10M71.80 105.09H115.10M71.80 108.71H115.10M71.80 112.32H115.10M71.80 115.93H115.10M71.80 119.55H115.10M71.80 123.16H115.10M71.80 126.77H115.10M71.80 130.39H115.10M71.80 134.00H115.10M71.80 137.61H115.10M71.80 141.22H115.10M71.80 144.84H115.10M71.80 148.45H115.10M71.80 152.06H115.10M71.80 155.68H115.10M71.80 159.29H115.10M71.80 162.90H115.10M71.80 166.52H115.10M71.80 170.13H115.10M71.80 173.74H115.10M71.80 177.35H115.10M71.80 180.97H115.10M71.80 184.58H115.10M71.80 188.19H115.10M71.80 191.81H115.10M71.80 195.42H115.10M71.80 199.03H115.10M71.80 202.65H115.10M71.80 206.26H115.10M71.80 209.87H115.10M71.80 213.49H115.10M71.80 217.10H115.10M71.80 220.71H115.10M71.80 224.32H115.10M116.20 50.90V224.32M120.97 50.90V224.32M125.75 50.90V224.32M130.52 50.90V224.32M135.29 50.90V224.32M140.07 50.90V224.32M144.84 50.90V224.32M149.62 50.90V224.32M154.39 50.90V224.32M159.16 50.90V224.32M163.94 50.90V224.32M168.71 50.90V224.32M173.48 50.90V224.32M178.26 50.90V224.32M183.03 50.90V224.32M187.81 50.90V224.32M192.58 50.90V224.32M197.35 50.90V224.32M202.13 50.90V224.32M206.90 50.90V224.32M116.20 50.90H206.90M116.20 54.51H206.90M116.20 58.13H206.90M116.20 61.74H206.90M116.20 65.35H206.90M116.20 68.97H206.90M116.20 72.58H206.90M116.20 76.19H206.90M116.20 79.80H206.90M116.20 83.42H206.90M116.20 87.03H206.90M116.20 90.64H206.90M116.20 94.26H206.90M116.20 97.87H206.90M116.20 101.48H206.90M116.20 105.09H206.90M116.20 108.71H206.90M116.20 112.32H206.90M116.20 115.93H206.90M116.20 119.55H206.90M116.20 123.16H206.90M116.20 126.77H206.90M116.20 130.39H206.90M116.20 134.00H206.90M116.20 137.61H206.90M116.20 141.22H206.90M116.20 144.84H206.90M116.20 148.45H206.90M116.20 152.06H206.90M116.20 155.68H206.90M116.20 159.29H206.90M116.20 162.90H206.90M116.20 166.52H206.90M116.20 170.13H206.90M116.20 173.74H206.90M116.20 177.35H206.90M116.20 180.97H206.90M116.20 184.58H206.90M116.20 188.19H206.90M116.20 191.81H206.90M116.20 195.42H206.90M116.20 199.03H206.90M116.20 202.65H206.90M116.20 206.26H206.90M116.20 209.87H206.90M116.20 213.49H206.90M116.20 217.10H206.90M116.20 220.71H206.90M116.20 224.32H206.90"/>
<rect x="23.20" y="39.20" width="4.78" height="3.40" fill="#d75f0a"/>
<rect x="23.20" y="44.75" width="4.78" height="3.35" fill="#35a07a"/>
<rect x="27.98" y="39.20" width="4.78" height="3.40" fill="#d75f0a"/>
<rect x="27.98" y="44.75" width="4.78" height="3.35" fill="#35a07a"/>
<rect x="32.76" y="39.20" width="4.78" height="3.40" fill="#d75f0a"/>
<rect x="32.76" y="44.75" width="4.78" height="3.35" fill="#7670b6"/>
<rect x="37.54" y="39.20" width="4.78" height="3.40" fill="#d75f0a"/>
<rect x="37.54" y="44.75" width="4.78" height="3.35" fill="#d75f0a"/>
<rect x="42.32" y="39.20" width="4.78" height="3.40" fill="#d75f0a"/>
<rect x="42.32" y="44.75" width="4.78" height="3.35" fill="#d75f0a"/>
<rect x="47.10" y="39.20" width="4.78" height="3.40" fill="#d75f0a"/>
<rect x="47.10" y="44.75" width="4.78" height="3.35" fill="#35a07a"/>
<rect x="51.88" y="39.20" width="4.78" height="3.40" fill="#d75f0a"/>
<rect x="51.88" y="44.75" width="4.78" height="3.35" fill="#35a07a"/>
<rect x="56.66" y="39.20" width="4.78" height="3.40" fill="#35a07a"/>
<rect x="56.66" y="44.75" width="4.78" height="3.35" fill="#d75f0a"/>
<rect x="61.44" y="39.20" width="4.78" height="3.40" fill="#d75f0a"/>
<rect x="61.44" y="44.75" width="4.78" height="3.35" fill="#35a07a"/>
<rect x="66.22" y="39.20" width="4.78" height="3.40" fill="#d75f0a"/>
<rect x="66.22" y="44.75" width="4.78" height="3.35" fill="#d75f0a"/>
<rect x="71.80" y="39.20" width="4.81" height="3.40" fill="#d75f0a"/>
<rect x="71.80" y="44.75" width="4.81" height="3.35" fill="#35a07a"/>
<rect x="76.61" y="39.20" width="4.81" height="3.40" fill="#d75f0a"/>
<rect x="76.61" y="44.75" width="4.81" height="3.35" fill="#d75f0a"/>
<rect x="81.42" y="39.20" width="4.81" height="3.40" fill="#d75f0a"/>
<rect x="81.42" y="44.75" width="4.81" height="3.35" fill="#d75f0a"/>
<rect x="86.23" y="39.20" width="4.81" height="3.40" fill="#d75f0a"/>
<rect x="86.23" y="44.75" width="4.81" height="3.35" fill="#d75f0a"/>
<rect x="91.04" y="39.20" width="4.81" height="3.40" fill="#d75f0a"/>
<rect x="91.04" y="44.75" width="4.81" height="3.35" fill="#7670b6"/>
<rect x="95.86" y="39.20" width="4.81" height="3.40" fill="#d75f0a"/>
<rect x="95.86" y="44.75" width="4.81" height="3.35" fill="#35a07a"/>
<rect x="100.67" y="39.20" width="4.81" height="3.40" fill="#d75f0a"/>
<rect x="100.67" y="44.75" width="4.81" height="3.35" fill="#d75f0a"/>
<rect x="105.48" y="39.20" width="4.81" height="3.40" fill="#d75f0a"/>
<rect x="105.48" y="44.75" width="4.81" height="3.35" fill="#7670b6"/>
<rect x="110.29" y="39.20" width="4.81" height="3.40" fill="#d75f0a"/>
<rect x="110.29" y="44.75" width="4.81" height="3.35" fill="#d75f0a"/>
<rect x="116.20" y="39.20" width="4.77" height="3.40" fill="#d75f0a"/>
<rect x="116.20" y="44.75" width="4.77" height="3.35" fill="#d75f0a"/>
<rect x="120.97" y="39.20" width="4.77" height="3.40" fill="#d75f0a"/>
<rect x="120.97" y="44.75" width="4.77" height="3.35" fill="#d75f0a"/>
<rect x="125.75" y="39.20" width="4.77" height="3.40" fill="#35a07a"/>
<rect x="125.75" y="44.75" width="4.77" height="3.35" fill="#d75f0a"/>
<rect x="130.52" y="39.20" width="4.77" height="3.40" fill="#d75f0a"/>
<rect x="130.52" y="44.75" width="4.77" height="3.35" fill="#d75f0a"/>
<rect x="135.29" y="39.20" width="4.77" height="3.40" fill="#d75f0a"/>
<rect x="135.29" y="44.75" width="4.77" height="3.35" fill="#d75f0a"/>
<rect x="140.07" y="39.20" width="4.77" height="3.40" fill="#d75f0a"/>
<rect x="140.07" y="44.75" width="4.77" height="3.35" fill="#35a07a"/>
<rect x="144.84" y="39.20" width="4.77" height="3.40" fill="#35a07a"/>
<rect x="144.84" y="44.75" width="4.77" height="3.35" fill="#d75f0a"/>
<rect x="149.62" y="39.20" width="4.77" height="3.40" fill="#35a07a"/>
<rect x="149.62" y="44.75" width="4.77" height="3.35" fill="#7670b6"/>
<rect x="154.39" y="39.20" width="4.77" height="3.40" fill="#d75f0a"/>
<rect x="154.39" y="44.75" width="4.77" height="3.35" fill="#35a07a"/>
<rect x="159.16" y="39.20" width="4.77" height="3.40" fill="#d75f0a"/>
<rect x="159.16" y="44.75" width="4.77" height="3.35" fill="#d75f0a"/>
<rect x="163.94" y="39.20" width="4.77" height="3.40" fill="#d75f0a"/>
<rect x="163.94" y="44.75" width="4.77" height="3.35" fill="#d75f0a"/>
<rect x="168.71" y="39.20" width="4.77" height="3.40" fill="#35a07a"/>
<rect x="168.71" y="44.75" width="4.77" height="3.35" fill="#d75f0a"/>
<rect x="173.48" y="39.20" width="4.77" height="3.40" fill="#35a07a"/>
<rect x="173.48" y="44.75" width="4.77" height="3.35" fill="#d75f0a"/>
<rect x="178.26" y="39.20" width="4.77" height="3.40" fill="#35a07a"/>
<rect x="178.26" y="44.75" width="4.77" height="3.35" fill="#d75f0a"/>
<rect x="183.03" y="39.20" width="4.77" height="3.40" fill="#d75f0a"/>
<rect x="183.03" y="44.75" width="4.77" height="3.35" fill="#d75f0a"/>
<rect x="187.81" y="39.20" width="4.77" height="3.40" fill="#d75f0a"/>
<rect x="187.81" y="44.75" width="4.77" height="3.35" fill="#d75f0a"/>
<rect x="192.58" y="39.20" width="4.77" height="3.40" fill="#d75f0a"/>
<rect x="192.58" y="44.75" width="4.77" height="3.35" fill="#7670b6"/>
<rect x="197.35" y="39.20" width="4.77" height="3.40" fill="#35a07a"/>
<rect x="197.35" y="44.75" width="4.77" height="3.35" fill="#d75f0a"/>
<rect x="202.13" y="39.20" width="4.77" height="3.40" fill="#d75f0a"/>
<rect x="202.13" y="44.75" width="4.77" height="3.35" fill="#d75f0a"/>
<path fill="none" stroke="#bdbdbd" stroke-width="0.5" d="M23.20 39.20V42.60M27.98 39.20V42.60M32.76 39.20V42.60M37.54 39.20V42.60M42.32 39.20V42.60M47.10 39.20V42.60M51.88 39.20V42.60M56.66 39.20V42.60M61.44 39.20V42.60M66.22 39.20V42.60M71.00 39.20V42.60M23.20 39.20H71.00M23.20 42.60H71.00M71.80 39.20V42.60M76.61 39.20V42.60M81.42 39.20V42.60M86.23 39.20V42.60M91.04 39.20V42.60M95.86 39.20V42.60M100.67 39.20V42.60M105.48 39.20V42.60M110.29 39.20V42.60M115.10 39.20V42.60M71.80 39.20H115.10M71.80 42.60H115.10M116.20 39.20V42.60M120.97 39.20V42.60M125.75 39.20V42.60M130.52 39.20V42.60M135.29 39.20V42.60M140.07 39.20V42.60M144.84 39.20V42.60M149.62 39.20V42.60M154.39 39.20V42.60M159.16 39.20V42.60M163.94 39.20V42.60M168.71 39.20V42.60M173.48 39.20V42.60M178.26 39.20V42.60M183.03 39.20V42.60M187.81 39.20V42.60M192.58 39.20V42.60M197.35 39.20V42.60M202.13 39.20V42.60M206.90 39.20V42.60M116.20 39.20H206.90M116.20 42.60H206.90"/>
<path fill="none" stroke="#bdbdbd" stroke-width="0.5" d="M23.20 44.75V48.10M27.98 44.75V48.10M32.76 44.75V48.10M37.54 44.75V48.10M42.32 44.75V48.10M47.10 44.75V48.10M51.88 44.75V48.10M56.66 44.75V48.10M61.44 44.75V48.10M66.22 44.75V48.10M71.00 44.75V48.10M23.20 44.75H71.00M23.20 48.10H71.00M71.80 44.75V48.10M76.61 44.75V48.10M81.42 44.75V48.10M86.23 44.75V48.10M91.04 44.75V48.10M95.86 44.75V48.10M100.67 44.75V48.10M105.48 44.75V48.10M110.29 44.75V48.10M115.10 44.75V48.10M71.80 44.75H115.10M71.80 48.10H115.10M116.20 44.75V48.10M120.97 44.75V48.10M125.75 44.75V48.10M130.52 44.75V48.10M135.29 44.75V48.10M140.07 44.75V48.10M144.84 44.75V48.10M149.62 44.75V48.10M154.39 44.75V48.10M159.16 44.75V48.10M163.94 44.75V48.10M168.71 44.75V48.10M173.48 44.75V48.10M178.26 44.75V48.10M183.03 44.75V48.10M187.81 44.75V48.10M192.58 44.75V48.10M197.35 44.75V48.10M202.13 44.75V48.10M206.90 44.75V48.10M116.20 44.75H206.90M116.20 48.10H206.90"/>
<text x="208.3" y="42.5" font-size="5.6" font-weight="bold" textLength="46.5" lengthAdjust="spacingAndGlyphs" fill="#111" stroke="#111" stroke-width="0.16">Status_at_inclusion</text>
<text x="208.3" y="48.2" font-size="5.6" font-weight="bold" textLength="22.8" lengthAdjust="spacingAndGlyphs" fill="#111" stroke="#111" stroke-width="0.16">Response</text>
<path d="M39.33 27.40V22.50H134.58V26.50" fill="none" stroke="#2e2e2e" stroke-width="0.8"/>
<path d="M25.59 38.90V27.40H53.08V29.30" fill="none" stroke="#2e2e2e" stroke-width="0.8"/>
<path d="M41.12 31.20V29.30H65.03V30.30" fill="none" stroke="#2e2e2e" stroke-width="0.8"/>
<path d="M33.95 32.50V31.20H48.29V33.10" fill="none" stroke="#2e2e2e" stroke-width="0.8"/>
<path d="M30.37 38.90V32.50H37.54V33.50" fill="none" stroke="#2e2e2e" stroke-width="0.8"/>
<path d="M35.15 38.90V33.50H39.93V38.90" fill="none" stroke="#2e2e2e" stroke-width="0.8"/>
<path d="M44.71 38.90V33.10H51.88V35.50" fill="none" stroke="#2e2e2e" stroke-width="0.8"/>
<path d="M49.49 38.90V35.50H54.27V38.90" fill="none" stroke="#2e2e2e" stroke-width="0.8"/>
<path d="M61.44 33.10V30.30H68.61V38.90" fill="none" stroke="#2e2e2e" stroke-width="0.8"/>
<path d="M59.05 38.90V33.10H63.83V38.90" fill="none" stroke="#2e2e2e" stroke-width="0.8"/>
<path d="M101.42 28.60V26.50H167.74V28.20" fill="none" stroke="#2e2e2e" stroke-width="0.8"/>
<path d="M92.55 30.00V28.60H110.29V30.30" fill="none" stroke="#2e2e2e" stroke-width="0.8"/>
<path d="M84.43 30.90V30.00H100.67V35.80" fill="none" stroke="#2e2e2e" stroke-width="0.8"/>
<path d="M77.81 31.80V30.90H91.04V33.20" fill="none" stroke="#2e2e2e" stroke-width="0.8"/>
<path d="M74.21 38.90V31.80H81.42V33.50" fill="none" stroke="#2e2e2e" stroke-width="0.8"/>
<path d="M79.02 38.90V33.50H83.83V38.90" fill="none" stroke="#2e2e2e" stroke-width="0.8"/>
<path d="M88.64 38.90V33.20H93.45V38.90" fill="none" stroke="#2e2e2e" stroke-width="0.8"/>
<path d="M98.26 38.90V35.80H103.07V38.90" fill="none" stroke="#2e2e2e" stroke-width="0.8"/>
<path d="M107.88 38.90V30.30H112.69V38.90" fill="none" stroke="#2e2e2e" stroke-width="0.8"/>
<path d="M149.17 29.10V28.20H186.31V30.70" fill="none" stroke="#2e2e2e" stroke-width="0.8"/>
<path d="M136.79 31.00V29.10H161.55V38.90" fill="none" stroke="#2e2e2e" stroke-width="0.8"/>
<path d="M125.75 31.50V31.00H147.83V32.00" fill="none" stroke="#2e2e2e" stroke-width="0.8"/>
<path d="M120.97 33.20V31.50H130.52V34.80" fill="none" stroke="#2e2e2e" stroke-width="0.8"/>
<path d="M118.59 38.90V33.20H123.36V38.90" fill="none" stroke="#2e2e2e" stroke-width="0.8"/>
<path d="M128.13 38.90V34.80H132.91V38.90" fill="none" stroke="#2e2e2e" stroke-width="0.8"/>
<path d="M141.26 33.30V32.00H154.39V33.50" fill="none" stroke="#2e2e2e" stroke-width="0.8"/>
<path d="M137.68 38.90V33.30H144.84V34.20" fill="none" stroke="#2e2e2e" stroke-width="0.8"/>
<path d="M142.46 38.90V34.20H147.23V38.90" fill="none" stroke="#2e2e2e" stroke-width="0.8"/>
<path d="M152.00 38.90V33.50H156.78V38.90" fill="none" stroke="#2e2e2e" stroke-width="0.8"/>
<path d="M175.27 32.40V30.70H197.35V31.80" fill="none" stroke="#2e2e2e" stroke-width="0.8"/>
<path d="M168.71 34.10V32.40H181.84V32.80" fill="none" stroke="#2e2e2e" stroke-width="0.8"/>
<path d="M166.32 38.90V34.10H171.10V38.90" fill="none" stroke="#2e2e2e" stroke-width="0.8"/>
<path d="M178.26 33.30V32.80H185.42V38.90" fill="none" stroke="#2e2e2e" stroke-width="0.8"/>
<path d="M175.87 38.90V33.30H180.64V38.90" fill="none" stroke="#2e2e2e" stroke-width="0.8"/>
<path d="M192.58 33.00V31.80H202.13V32.20" fill="none" stroke="#2e2e2e" stroke-width="0.8"/>
<path d="M190.19 38.90V33.00H194.97V38.90" fill="none" stroke="#2e2e2e" stroke-width="0.8"/>
<path d="M199.74 38.90V32.20H204.51V38.90" fill="none" stroke="#2e2e2e" stroke-width="0.8"/>
<path d="M10.22 55.42H7.80V189.78H8.16" fill="none" stroke="#2e2e2e" stroke-width="0.8"/>
<path d="M23.20 52.71H10.22V58.13H13.38" fill="none" stroke="#2e2e2e" stroke-width="0.8"/>
<path d="M23.20 56.32H13.38V59.93H23.20" fill="none" stroke="#2e2e2e" stroke-width="0.8"/>
<path d="M8.79 161.10H8.16V218.45H11.91" fill="none" stroke="#2e2e2e" stroke-width="0.8"/>
<path d="M11.58 120.46H8.79V201.74H9.32" fill="none" stroke="#2e2e2e" stroke-width="0.8"/>
<path d="M11.61 100.08H11.58V140.84H12.44" fill="none" stroke="#2e2e2e" stroke-width="0.8"/>
<path d="M13.86 82.43H11.61V117.74H23.20" fill="none" stroke="#2e2e2e" stroke-width="0.8"/>
<path d="M15.67 68.29H13.86V96.57H13.86" fill="none" stroke="#2e2e2e" stroke-width="0.8"/>
<path d="M23.20 63.55H15.67V73.03H19.26" fill="none" stroke="#2e2e2e" stroke-width="0.8"/>
<path d="M19.73 68.97H19.26V77.09H20.22" fill="none" stroke="#2e2e2e" stroke-width="0.8"/>
<path d="M23.20 67.16H19.73V70.77H23.20" fill="none" stroke="#2e2e2e" stroke-width="0.8"/>
<path d="M23.20 74.38H20.22V79.80H21.55" fill="none" stroke="#2e2e2e" stroke-width="0.8"/>
<path d="M23.20 78.00H21.55V81.61H23.20" fill="none" stroke="#2e2e2e" stroke-width="0.8"/>
<path d="M23.20 85.22H13.86V107.92H14.47" fill="none" stroke="#2e2e2e" stroke-width="0.8"/>
<path d="M15.07 101.71H14.47V114.13H23.20" fill="none" stroke="#2e2e2e" stroke-width="0.8"/>
<path d="M16.45 94.71H15.07V108.71H17.13" fill="none" stroke="#2e2e2e" stroke-width="0.8"/>
<path d="M18.57 90.64H16.45V98.77H16.92" fill="none" stroke="#2e2e2e" stroke-width="0.8"/>
<path d="M23.20 88.84H18.57V92.45H23.20" fill="none" stroke="#2e2e2e" stroke-width="0.8"/>
<path d="M23.20 96.06H16.92V101.48H16.92" fill="none" stroke="#2e2e2e" stroke-width="0.8"/>
<path d="M23.20 99.68H16.92V103.29H23.20" fill="none" stroke="#2e2e2e" stroke-width="0.8"/>
<path d="M23.20 106.90H17.13V110.51H23.20" fill="none" stroke="#2e2e2e" stroke-width="0.8"/>
<path d="M13.60 124.06H12.44V157.62H13.05" fill="none" stroke="#2e2e2e" stroke-width="0.8"/>
<path d="M23.20 121.35H13.60V126.77H17.69" fill="none" stroke="#2e2e2e" stroke-width="0.8"/>
<path d="M23.20 124.97H17.69V128.58H23.20" fill="none" stroke="#2e2e2e" stroke-width="0.8"/>
<path d="M13.54 140.21H13.05V175.04H13.36" fill="none" stroke="#2e2e2e" stroke-width="0.8"/>
<path d="M23.20 132.19H13.54V148.23H13.79" fill="none" stroke="#2e2e2e" stroke-width="0.8"/>
<path d="M15.00 142.58H13.79V153.87H23.20" fill="none" stroke="#2e2e2e" stroke-width="0.8"/>
<path d="M19.04 137.61H15.00V147.55H18.68" fill="none" stroke="#2e2e2e" stroke-width="0.8"/>
<path d="M23.20 135.81H19.04V139.42H23.20" fill="none" stroke="#2e2e2e" stroke-width="0.8"/>
<path d="M19.62 144.84H18.68V150.26H23.20" fill="none" stroke="#2e2e2e" stroke-width="0.8"/>
<path d="M23.20 143.03H19.62V146.64H23.20" fill="none" stroke="#2e2e2e" stroke-width="0.8"/>
<path d="M15.09 169.11H13.36V180.97H14.69" fill="none" stroke="#2e2e2e" stroke-width="0.8"/>
<path d="M15.58 162.68H15.09V175.55H23.20" fill="none" stroke="#2e2e2e" stroke-width="0.8"/>
<path d="M23.20 157.48H15.58V167.87H16.06" fill="none" stroke="#2e2e2e" stroke-width="0.8"/>
<path d="M17.16 163.81H16.06V171.94H23.20" fill="none" stroke="#2e2e2e" stroke-width="0.8"/>
<path d="M23.20 161.10H17.16V166.52H18.03" fill="none" stroke="#2e2e2e" stroke-width="0.8"/>
<path d="M23.20 164.71H18.03V168.32H23.20" fill="none" stroke="#2e2e2e" stroke-width="0.8"/>
<path d="M23.20 179.16H14.69V182.77H23.20" fill="none" stroke="#2e2e2e" stroke-width="0.8"/>
<path d="M10.57 195.42H9.32V208.07H23.20" fill="none" stroke="#2e2e2e" stroke-width="0.8"/>
<path d="M11.25 190.90H10.57V199.94H12.24" fill="none" stroke="#2e2e2e" stroke-width="0.8"/>
<path d="M12.50 188.19H11.25V193.61H23.20" fill="none" stroke="#2e2e2e" stroke-width="0.8"/>
<path d="M23.20 186.39H12.50V190.00H23.20" fill="none" stroke="#2e2e2e" stroke-width="0.8"/>
<path d="M23.20 197.23H12.24V202.65H15.24" fill="none" stroke="#2e2e2e" stroke-width="0.8"/>
<path d="M23.20 200.84H15.24V204.45H23.20" fill="none" stroke="#2e2e2e" stroke-width="0.8"/>
<path d="M11.91 214.39H11.91V222.52H23.20" fill="none" stroke="#2e2e2e" stroke-width="0.8"/>
<path d="M23.20 211.68H11.91V217.10H14.26" fill="none" stroke="#2e2e2e" stroke-width="0.8"/>
<path d="M23.20 215.29H14.26V218.90H23.20" fill="none" stroke="#2e2e2e" stroke-width="0.8"/>
<defs><linearGradient id="cb" x1="0" y1="0" x2="0" y2="1"><stop offset="0" stop-color="#a50f2a"/><stop offset="0.17" stop-color="#d6604d"/><stop offset="0.33" stop-color="#f4a582"/><stop offset="0.5" stop-color="#f7f7f7"/><stop offset="0.67" stop-color="#92c5de"/><stop offset="0.83" stop-color="#4393c3"/><stop offset="1" stop-color="#2158a8"/></linearGradient></defs>
<rect x="208.50" y="51.10" width="3.10" height="45.30" fill="url(#cb)"/>
<text x="213.2" y="56.9" font-size="6.0" fill="#222" stroke="#222" stroke-width="0.12">3</text>
<text x="213.2" y="63.800000000000004" font-size="6.0" fill="#222" stroke="#222" stroke-width="0.12">2</text>
<text x="213.2" y="70.39999999999999" font-size="6.0" fill="#222" stroke="#222" stroke-width="0.12">1</text>
<text x="213.2" y="77.0" font-size="6.0" fill="#222" stroke="#222" stroke-width="0.12">0</text>
<text x="213.2" y="83.5" font-size="6.0" fill="#222" stroke="#222" stroke-width="0.12">−1</text>
<text x="213.2" y="90.19999999999999" font-size="6.0" fill="#222" stroke="#222" stroke-width="0.12">−2</text>
<text x="213.2" y="96.89999999999999" font-size="6.0" fill="#222" stroke="#222" stroke-width="0.12">−3</text>
<text x="223.1" y="56.1" font-size="5.6" font-weight="bold" textLength="47" lengthAdjust="spacingAndGlyphs" fill="#111" stroke="#111" stroke-width="0.16">Status_at_inclusion</text>
<rect x="223.10" y="58.30" width="4.60" height="4.50" fill="#35a07a"/>
<rect x="223.10" y="62.80" width="4.60" height="4.80" fill="#d75f0a"/>
<text x="229.0" y="62.3" font-size="5.6" fill="#222" stroke="#222" stroke-width="0.12">LR</text>
<text x="229.0" y="67.0" font-size="5.6" textLength="15.3" lengthAdjust="spacingAndGlyphs" fill="#222" stroke="#222" stroke-width="0.12">PIF/ER</text>
<text x="223.1" y="76.5" font-size="5.6" font-weight="bold" textLength="23.2" lengthAdjust="spacingAndGlyphs" fill="#111" stroke="#111" stroke-width="0.16">Response</text>
<rect x="223.10" y="78.20" width="4.60" height="4.80" fill="#35a07a"/>
<rect x="223.10" y="83.00" width="4.60" height="4.90" fill="#d75f0a"/>
<rect x="223.10" y="87.90" width="4.60" height="4.90" fill="#7670b6"/>
<text x="229.0" y="82.6" font-size="5.6" textLength="45.6" lengthAdjust="spacingAndGlyphs" fill="#222" stroke="#222" stroke-width="0.12">Complete response</text>
<text x="229.0" y="87.3" font-size="5.6" textLength="28.6" lengthAdjust="spacingAndGlyphs" fill="#222" stroke="#222" stroke-width="0.12">No response</text>
<text x="229.0" y="92.1" font-size="5.6" textLength="39.5" lengthAdjust="spacingAndGlyphs" fill="#222" stroke="#222" stroke-width="0.12">Partial response</text>
<text x="56.1" y="240.2" font-size="6.3" text-anchor="middle" textLength="12.8" lengthAdjust="spacingAndGlyphs" fill="#1e1e1e" stroke="#1e1e1e" stroke-width="0.12">6/10</text>
<text x="56.1" y="247.5" font-size="6.3" text-anchor="middle" textLength="15.4" lengthAdjust="spacingAndGlyphs" fill="#1e1e1e" stroke="#1e1e1e" stroke-width="0.12">(60%)</text>
<text x="97.0" y="240.2" font-size="6.3" text-anchor="middle" textLength="7.3" lengthAdjust="spacingAndGlyphs" fill="#1e1e1e" stroke="#1e1e1e" stroke-width="0.12">4/9</text>
<text x="97.0" y="247.5" font-size="6.3" text-anchor="middle" textLength="21" lengthAdjust="spacingAndGlyphs" fill="#1e1e1e" stroke="#1e1e1e" stroke-width="0.12">(44.4%)</text>
<text x="154.5" y="240.2" font-size="6.3" text-anchor="middle" textLength="12.8" lengthAdjust="spacingAndGlyphs" fill="#1e1e1e" stroke="#1e1e1e" stroke-width="0.12">4/19</text>
<text x="154.5" y="247.5" font-size="6.3" text-anchor="middle" textLength="16.3" lengthAdjust="spacingAndGlyphs" fill="#1e1e1e" stroke="#1e1e1e" stroke-width="0.12">(21%)</text>
<line x1="97.6" y1="280.0" x2="67.02" y2="256.00" stroke="#a8133a" stroke-width="1.35"/>
<path d="M62.30 252.30L69.78 254.10L66.63 255.70L65.83 259.14Z" fill="#a8133a"/>
<line x1="97.6" y1="280.0" x2="97.60" y2="258.80" stroke="#a8133a" stroke-width="1.35"/>
<path d="M97.60 252.80L100.80 259.80L97.60 258.30L94.40 259.80Z" fill="#a8133a"/>
<line x1="97.6" y1="280.0" x2="144.90" y2="255.00" stroke="#a8133a" stroke-width="1.35"/>
<path d="M150.20 252.20L145.51 258.30L145.34 254.77L142.52 252.64Z" fill="#a8133a"/>
<text x="97.7" y="291.1" font-size="6.5" text-anchor="middle" textLength="55.9" lengthAdjust="spacingAndGlyphs" fill="#1e1e1e" stroke="#1e1e1e" stroke-width="0.12">Complete response</text>
<text x="97.7" y="298.3" font-size="6.5" text-anchor="middle" textLength="41.4" lengthAdjust="spacingAndGlyphs" fill="#1e1e1e" stroke="#1e1e1e" stroke-width="0.12">(CR, CRh, CRi)</text>
<text x="97.0" y="305.4" font-size="6.5" text-anchor="middle" fill="#1e1e1e" stroke="#1e1e1e" stroke-width="0.12">+</text>
<text x="97.6" y="312.9" font-size="6.5" text-anchor="middle" textLength="44.7" lengthAdjust="spacingAndGlyphs" fill="#1e1e1e" stroke="#1e1e1e" stroke-width="0.12">Partial response</text>
<text x="280.6" y="16.9" font-size="10.8" font-weight="bold" fill="#111" stroke="#111" stroke-width="0.16">B</text>
<text x="280.8" y="27.5" font-size="5.1" font-weight="bold" textLength="23.4" lengthAdjust="spacingAndGlyphs" fill="#111" stroke="#111" stroke-width="0.16">Response</text>
<rect x="329.75" y="23.50" width="1.30" height="5.30" fill="#c4341a"/>
<rect x="331.85" y="23.50" width="1.30" height="5.30" fill="#c4341a"/>
<rect x="333.94" y="23.50" width="1.30" height="5.30" fill="#c4341a"/>
<rect x="336.04" y="23.50" width="1.30" height="5.30" fill="#c4341a"/>
<rect x="338.13" y="23.50" width="1.30" height="5.30" fill="#e8981c"/>
<rect x="340.23" y="23.50" width="1.30" height="5.30" fill="#c4341a"/>
<rect x="342.32" y="23.50" width="1.30" height="5.30" fill="#43a03c"/>
<rect x="344.42" y="23.50" width="1.30" height="5.30" fill="#e8981c"/>
<rect x="346.51" y="23.50" width="1.30" height="5.30" fill="#e8981c"/>
<rect x="348.61" y="23.50" width="1.30" height="5.30" fill="#e8981c"/>
<rect x="350.70" y="23.50" width="1.30" height="5.30" fill="#e8981c"/>
<rect x="352.80" y="23.50" width="1.30" height="5.30" fill="#43a03c"/>
<rect x="354.89" y="23.50" width="1.30" height="5.30" fill="#e8981c"/>
<rect x="356.99" y="23.50" width="1.30" height="5.30" fill="#e8981c"/>
<rect x="359.08" y="23.50" width="1.30" height="5.30" fill="#e8981c"/>
<rect x="361.18" y="23.50" width="1.30" height="5.30" fill="#e8981c"/>
<rect x="363.27" y="23.50" width="1.30" height="5.30" fill="#43a03c"/>
<rect x="365.37" y="23.50" width="1.30" height="5.30" fill="#4562cc"/>
<rect x="367.46" y="23.50" width="1.30" height="5.30" fill="#e8981c"/>
<rect x="369.56" y="23.50" width="1.30" height="5.30" fill="#e8981c"/>
<rect x="371.65" y="23.50" width="1.30" height="5.30" fill="#e8981c"/>
<rect x="373.75" y="23.50" width="1.30" height="5.30" fill="#4562cc"/>
<rect x="375.84" y="23.50" width="1.30" height="5.30" fill="#c4341a"/>
<rect x="377.94" y="23.50" width="1.30" height="5.30" fill="#e8981c"/>
<rect x="380.03" y="23.50" width="1.30" height="5.30" fill="#e8981c"/>
<rect x="382.12" y="23.50" width="1.30" height="5.30" fill="#e8981c"/>
<rect x="384.22" y="23.50" width="1.30" height="5.30" fill="#4562cc"/>
<rect x="386.31" y="23.50" width="1.30" height="5.30" fill="#4562cc"/>
<rect x="388.41" y="23.50" width="1.30" height="5.30" fill="#e8981c"/>
<rect x="390.50" y="23.50" width="1.30" height="5.30" fill="#e8981c"/>
<rect x="392.60" y="23.50" width="1.30" height="5.30" fill="#e8981c"/>
<rect x="394.69" y="23.50" width="1.30" height="5.30" fill="#e8981c"/>
<rect x="396.79" y="23.50" width="1.30" height="5.30" fill="#4562cc"/>
<rect x="398.88" y="23.50" width="1.30" height="5.30" fill="#e8981c"/>
<rect x="400.98" y="23.50" width="1.30" height="5.30" fill="#4562cc"/>
<rect x="403.07" y="23.50" width="1.30" height="5.30" fill="#e8981c"/>
<rect x="405.17" y="23.50" width="1.30" height="5.30" fill="#e8981c"/>
<rect x="407.26" y="23.50" width="1.30" height="5.30" fill="#e8981c"/>
<rect x="409.36" y="23.50" width="1.30" height="5.30" fill="#e8981c"/>
<rect x="411.46" y="23.50" width="1.30" height="5.30" fill="#e8981c"/>
<rect x="413.55" y="23.50" width="1.30" height="5.30" fill="#4562cc"/>
<rect x="415.64" y="23.50" width="1.30" height="5.30" fill="#e8981c"/>
<rect x="417.74" y="23.50" width="1.30" height="5.30" fill="#e8981c"/>
<rect x="419.84" y="23.50" width="1.30" height="5.30" fill="#e8981c"/>
<rect x="421.93" y="23.50" width="1.30" height="5.30" fill="#e8981c"/>
<rect x="424.02" y="23.50" width="1.30" height="5.30" fill="#e8981c"/>
<rect x="426.12" y="23.50" width="1.30" height="5.30" fill="#e8981c"/>
<rect x="428.22" y="23.50" width="1.30" height="5.30" fill="#e8981c"/>
<rect x="430.31" y="23.50" width="1.30" height="5.30" fill="#e8981c"/>
<rect x="432.41" y="23.50" width="1.30" height="5.30" fill="#e8981c"/>
<rect x="434.50" y="23.50" width="1.30" height="5.30" fill="#43a03c"/>
<rect x="436.60" y="23.50" width="1.30" height="5.30" fill="#e8981c"/>
<rect x="438.69" y="23.50" width="1.30" height="5.30" fill="#e8981c"/>
<rect x="440.79" y="23.50" width="1.30" height="5.30" fill="#e8981c"/>
<rect x="442.88" y="23.50" width="1.30" height="5.30" fill="#e8981c"/>
<rect x="444.98" y="23.50" width="1.30" height="5.30" fill="#c4341a"/>
<rect x="447.07" y="23.50" width="1.30" height="5.30" fill="#4562cc"/>
<rect x="449.17" y="23.50" width="1.30" height="5.30" fill="#e8981c"/>
<rect x="451.26" y="23.50" width="1.30" height="5.30" fill="#4562cc"/>
<rect x="453.36" y="23.50" width="1.30" height="5.30" fill="#e8981c"/>
<rect x="455.45" y="23.50" width="1.30" height="5.30" fill="#e8981c"/>
<rect x="457.55" y="23.50" width="1.30" height="5.30" fill="#4562cc"/>
<rect x="459.64" y="23.50" width="1.30" height="5.30" fill="#e8981c"/>
<rect x="461.74" y="23.50" width="1.30" height="5.30" fill="#e8981c"/>
<rect x="463.83" y="23.50" width="1.30" height="5.30" fill="#e8981c"/>
<rect x="465.93" y="23.50" width="1.30" height="5.30" fill="#e8981c"/>
<rect x="468.02" y="23.50" width="1.30" height="5.30" fill="#4562cc"/>
<rect x="470.12" y="23.50" width="1.30" height="5.30" fill="#e8981c"/>
<rect x="472.21" y="23.50" width="1.30" height="5.30" fill="#e8981c"/>
<rect x="474.31" y="23.50" width="1.30" height="5.30" fill="#e8981c"/>
<rect x="476.40" y="23.50" width="1.30" height="5.30" fill="#4562cc"/>
<rect x="478.50" y="23.50" width="1.30" height="5.30" fill="#c4341a"/>
<rect x="480.59" y="23.50" width="1.30" height="5.30" fill="#e8981c"/>
<rect x="482.69" y="23.50" width="1.30" height="5.30" fill="#e8981c"/>
<rect x="484.78" y="23.50" width="1.30" height="5.30" fill="#e8981c"/>
<rect x="486.88" y="23.50" width="1.30" height="5.30" fill="#e8981c"/>
<rect x="488.97" y="23.50" width="1.30" height="5.30" fill="#e8981c"/>
<rect x="491.07" y="23.50" width="1.30" height="5.30" fill="#43a03c"/>
<rect x="493.16" y="23.50" width="1.30" height="5.30" fill="#e8981c"/>
<rect x="495.25" y="23.50" width="1.30" height="5.30" fill="#e8981c"/>
<rect x="497.35" y="23.50" width="1.30" height="5.30" fill="#43a03c"/>
<rect x="499.45" y="23.50" width="1.30" height="5.30" fill="#e8981c"/>
<rect x="501.54" y="23.50" width="1.30" height="5.30" fill="#4562cc"/>
<rect x="503.63" y="23.50" width="1.30" height="5.30" fill="#e8981c"/>
<rect x="505.73" y="23.50" width="1.30" height="5.30" fill="#e8981c"/>
<rect x="507.83" y="23.50" width="1.30" height="5.30" fill="#4562cc"/>
<rect x="509.92" y="23.50" width="1.30" height="5.30" fill="#e8981c"/>
<rect x="512.01" y="23.50" width="1.30" height="5.30" fill="#e8981c"/>
<text x="280.8" y="37.8" font-size="5.15" font-weight="bold" fill="#0a0a0a" stroke="#0a0a0a" stroke-width="0.16">ABL1</text>
<text x="313.7" y="37.8" font-size="5.15" fill="#1a1a1a" stroke="#1a1a1a" stroke-width="0.05">1.1%</text>
<text x="280.8" y="45.449999999999996" font-size="5.15" font-weight="bold" fill="#0a0a0a" stroke="#0a0a0a" stroke-width="0.16">ASXL1</text>
<text x="313.7" y="45.449999999999996" font-size="5.15" fill="#1a1a1a" stroke="#1a1a1a" stroke-width="0.05">1.1%</text>
<text x="280.8" y="53.099999999999994" font-size="5.15" font-weight="bold" fill="#0a0a0a" stroke="#0a0a0a" stroke-width="0.16">BCOR</text>
<text x="313.7" y="53.099999999999994" font-size="5.15" fill="#1a1a1a" stroke="#1a1a1a" stroke-width="0.05">1.1%</text>
<text x="280.8" y="60.75" font-size="5.15" font-weight="bold" fill="#0a0a0a" stroke="#0a0a0a" stroke-width="0.16">CEBPA</text>
<text x="313.7" y="60.75" font-size="5.15" fill="#1a1a1a" stroke="#1a1a1a" stroke-width="0.05">2.3%</text>
<text x="280.8" y="68.4" font-size="5.15" font-weight="bold" fill="#0a0a0a" stroke="#0a0a0a" stroke-width="0.16">EGR1</text>
<text x="313.7" y="68.4" font-size="5.15" fill="#1a1a1a" stroke="#1a1a1a" stroke-width="0.05">2.3%</text>
<text x="280.8" y="76.05" font-size="5.15" font-weight="bold" fill="#0a0a0a" stroke="#0a0a0a" stroke-width="0.16">FLT3</text>
<text x="313.7" y="76.05" font-size="5.15" fill="#1a1a1a" stroke="#1a1a1a" stroke-width="0.05">10%</text>
<text x="280.8" y="83.7" font-size="5.15" font-weight="bold" fill="#0a0a0a" stroke="#0a0a0a" stroke-width="0.16">GATA2</text>
<text x="313.7" y="83.7" font-size="5.15" fill="#1a1a1a" stroke="#1a1a1a" stroke-width="0.05">3%</text>
<text x="280.8" y="91.35" font-size="5.15" font-weight="bold" fill="#0a0a0a" stroke="#0a0a0a" stroke-width="0.16">IDH1</text>
<text x="313.7" y="91.35" font-size="5.15" fill="#1a1a1a" stroke="#1a1a1a" stroke-width="0.05">2.3%</text>
<text x="280.8" y="99.0" font-size="5.15" font-weight="bold" fill="#0a0a0a" stroke="#0a0a0a" stroke-width="0.16">KIT</text>
<text x="313.7" y="99.0" font-size="5.15" fill="#1a1a1a" stroke="#1a1a1a" stroke-width="0.05">1.1%</text>
<text x="280.8" y="106.65" font-size="5.15" font-weight="bold" fill="#0a0a0a" stroke="#0a0a0a" stroke-width="0.16">KMT2A</text>
<text x="313.7" y="106.65" font-size="5.15" fill="#1a1a1a" stroke="#1a1a1a" stroke-width="0.05">1.1%</text>
<text x="280.8" y="114.3" font-size="5.15" font-weight="bold" fill="#0a0a0a" stroke="#0a0a0a" stroke-width="0.16">KRAS</text>
<text x="313.7" y="114.3" font-size="5.15" fill="#1a1a1a" stroke="#1a1a1a" stroke-width="0.05">1.1%</text>
<text x="280.8" y="121.95" font-size="5.15" font-weight="bold" fill="#0a0a0a" stroke="#0a0a0a" stroke-width="0.16">NPM1</text>
<text x="313.7" y="121.95" font-size="5.15" fill="#1a1a1a" stroke="#1a1a1a" stroke-width="0.05">6%</text>
<text x="280.8" y="129.60000000000002" font-size="5.15" font-weight="bold" fill="#0a0a0a" stroke="#0a0a0a" stroke-width="0.16">NRAS</text>
<text x="313.7" y="129.60000000000002" font-size="5.15" fill="#1a1a1a" stroke="#1a1a1a" stroke-width="0.05">1.1%</text>
<text x="280.8" y="137.25" font-size="5.15" font-weight="bold" fill="#0a0a0a" stroke="#0a0a0a" stroke-width="0.16">RUNX1</text>
<text x="313.7" y="137.25" font-size="5.15" fill="#1a1a1a" stroke="#1a1a1a" stroke-width="0.05">10%</text>
<text x="280.8" y="144.9" font-size="5.15" font-weight="bold" fill="#0a0a0a" stroke="#0a0a0a" stroke-width="0.16">TET2</text>
<text x="313.7" y="144.9" font-size="5.15" fill="#1a1a1a" stroke="#1a1a1a" stroke-width="0.05">1.1%</text>
<text x="280.8" y="152.55" font-size="5.15" font-weight="bold" fill="#0a0a0a" stroke="#0a0a0a" stroke-width="0.16">TP53</text>
<text x="313.7" y="152.55" font-size="5.15" fill="#1a1a1a" stroke="#1a1a1a" stroke-width="0.05">5%</text>
<text x="280.8" y="160.2" font-size="5.15" font-weight="bold" fill="#0a0a0a" stroke="#0a0a0a" stroke-width="0.16">WT1</text>
<text x="313.7" y="160.2" font-size="5.15" fill="#1a1a1a" stroke="#1a1a1a" stroke-width="0.05">1.1%</text>
<path fill="#c0c0c0" d="M329.75 33.65h1.3v5.3h-1.3zM331.85 33.65h1.3v5.3h-1.3zM333.94 33.65h1.3v5.3h-1.3zM336.04 33.65h1.3v5.3h-1.3zM338.13 33.65h1.3v5.3h-1.3zM340.23 33.65h1.3v5.3h-1.3zM342.32 33.65h1.3v5.3h-1.3zM344.42 33.65h1.3v5.3h-1.3zM346.51 33.65h1.3v5.3h-1.3zM348.61 33.65h1.3v5.3h-1.3zM350.70 33.65h1.3v5.3h-1.3zM352.80 33.65h1.3v5.3h-1.3zM354.89 33.65h1.3v5.3h-1.3zM356.99 33.65h1.3v5.3h-1.3zM359.08 33.65h1.3v5.3h-1.3zM361.18 33.65h1.3v5.3h-1.3zM363.27 33.65h1.3v5.3h-1.3zM365.37 33.65h1.3v5.3h-1.3zM367.46 33.65h1.3v5.3h-1.3zM369.56 33.65h1.3v5.3h-1.3zM371.65 33.65h1.3v5.3h-1.3zM373.75 33.65h1.3v5.3h-1.3zM375.84 33.65h1.3v5.3h-1.3zM377.94 33.65h1.3v5.3h-1.3zM380.03 33.65h1.3v5.3h-1.3zM382.12 33.65h1.3v5.3h-1.3zM384.22 33.65h1.3v5.3h-1.3zM386.31 33.65h1.3v5.3h-1.3zM388.41 33.65h1.3v5.3h-1.3zM390.50 33.65h1.3v5.3h-1.3zM392.60 33.65h1.3v5.3h-1.3zM394.69 33.65h1.3v5.3h-1.3zM396.79 33.65h1.3v5.3h-1.3zM398.88 33.65h1.3v5.3h-1.3zM400.98 33.65h1.3v5.3h-1.3zM403.07 33.65h1.3v5.3h-1.3zM405.17 33.65h1.3v5.3h-1.3zM407.26 33.65h1.3v5.3h-1.3zM409.36 33.65h1.3v5.3h-1.3zM411.46 33.65h1.3v5.3h-1.3zM413.55 33.65h1.3v5.3h-1.3zM415.64 33.65h1.3v5.3h-1.3zM417.74 33.65h1.3v5.3h-1.3zM419.84 33.65h1.3v5.3h-1.3zM421.93 33.65h1.3v5.3h-1.3zM424.02 33.65h1.3v5.3h-1.3zM426.12 33.65h1.3v5.3h-1.3zM428.22 33.65h1.3v5.3h-1.3zM430.31 33.65h1.3v5.3h-1.3zM432.41 33.65h1.3v5.3h-1.3zM434.50 33.65h1.3v5.3h-1.3zM436.60 33.65h1.3v5.3h-1.3zM438.69 33.65h1.3v5.3h-1.3zM440.79 33.65h1.3v5.3h-1.3zM442.88 33.65h1.3v5.3h-1.3zM444.98 33.65h1.3v5.3h-1.3zM447.07 33.65h1.3v5.3h-1.3zM449.17 33.65h1.3v5.3h-1.3zM451.26 33.65h1.3v5.3h-1.3zM453.36 33.65h1.3v5.3h-1.3zM455.45 33.65h1.3v5.3h-1.3zM457.55 33.65h1.3v5.3h-1.3zM459.64 33.65h1.3v5.3h-1.3zM461.74 33.65h1.3v5.3h-1.3zM463.83 33.65h1.3v5.3h-1.3zM465.93 33.65h1.3v5.3h-1.3zM468.02 33.65h1.3v5.3h-1.3zM470.12 33.65h1.3v5.3h-1.3zM472.21 33.65h1.3v5.3h-1.3zM474.31 33.65h1.3v5.3h-1.3zM476.40 33.65h1.3v5.3h-1.3zM478.50 33.65h1.3v5.3h-1.3zM480.59 33.65h1.3v5.3h-1.3zM482.69 33.65h1.3v5.3h-1.3zM484.78 33.65h1.3v5.3h-1.3zM486.88 33.65h1.3v5.3h-1.3zM488.97 33.65h1.3v5.3h-1.3zM491.07 33.65h1.3v5.3h-1.3zM493.16 33.65h1.3v5.3h-1.3zM495.25 33.65h1.3v5.3h-1.3zM497.35 33.65h1.3v5.3h-1.3zM499.45 33.65h1.3v5.3h-1.3zM501.54 33.65h1.3v5.3h-1.3zM503.63 33.65h1.3v5.3h-1.3zM505.73 33.65h1.3v5.3h-1.3zM507.83 33.65h1.3v5.3h-1.3zM509.92 33.65h1.3v5.3h-1.3zM512.01 33.65h1.3v5.3h-1.3zM329.75 41.30h1.3v5.3h-1.3zM331.85 41.30h1.3v5.3h-1.3zM333.94 41.30h1.3v5.3h-1.3zM336.04 41.30h1.3v5.3h-1.3zM338.13 41.30h1.3v5.3h-1.3zM340.23 41.30h1.3v5.3h-1.3zM342.32 41.30h1.3v5.3h-1.3zM344.42 41.30h1.3v5.3h-1.3zM346.51 41.30h1.3v5.3h-1.3zM348.61 41.30h1.3v5.3h-1.3zM350.70 41.30h1.3v5.3h-1.3zM352.80 41.30h1.3v5.3h-1.3zM354.89 41.30h1.3v5.3h-1.3zM356.99 41.30h1.3v5.3h-1.3zM359.08 41.30h1.3v5.3h-1.3zM361.18 41.30h1.3v5.3h-1.3zM363.27 41.30h1.3v5.3h-1.3zM365.37 41.30h1.3v5.3h-1.3zM367.46 41.30h1.3v5.3h-1.3zM369.56 41.30h1.3v5.3h-1.3zM371.65 41.30h1.3v5.3h-1.3zM373.75 41.30h1.3v5.3h-1.3zM375.84 41.30h1.3v5.3h-1.3zM377.94 41.30h1.3v5.3h-1.3zM380.03 41.30h1.3v5.3h-1.3zM382.12 41.30h1.3v5.3h-1.3zM384.22 41.30h1.3v5.3h-1.3zM386.31 41.30h1.3v5.3h-1.3zM388.41 41.30h1.3v5.3h-1.3zM390.50 41.30h1.3v5.3h-1.3zM392.60 41.30h1.3v5.3h-1.3zM394.69 41.30h1.3v5.3h-1.3zM396.79 41.30h1.3v5.3h-1.3zM398.88 41.30h1.3v5.3h-1.3zM400.98 41.30h1.3v5.3h-1.3zM403.07 41.30h1.3v5.3h-1.3zM405.17 41.30h1.3v5.3h-1.3zM407.26 41.30h1.3v5.3h-1.3zM409.36 41.30h1.3v5.3h-1.3zM411.46 41.30h1.3v5.3h-1.3zM413.55 41.30h1.3v5.3h-1.3zM415.64 41.30h1.3v5.3h-1.3zM417.74 41.30h1.3v5.3h-1.3zM419.84 41.30h1.3v5.3h-1.3zM421.93 41.30h1.3v5.3h-1.3zM424.02 41.30h1.3v5.3h-1.3zM426.12 41.30h1.3v5.3h-1.3zM428.22 41.30h1.3v5.3h-1.3zM430.31 41.30h1.3v5.3h-1.3zM432.41 41.30h1.3v5.3h-1.3zM434.50 41.30h1.3v5.3h-1.3zM436.60 41.30h1.3v5.3h-1.3zM438.69 41.30h1.3v5.3h-1.3zM440.79 41.30h1.3v5.3h-1.3zM442.88 41.30h1.3v5.3h-1.3zM444.98 41.30h1.3v5.3h-1.3zM447.07 41.30h1.3v5.3h-1.3zM449.17 41.30h1.3v5.3h-1.3zM451.26 41.30h1.3v5.3h-1.3zM453.36 41.30h1.3v5.3h-1.3zM455.45 41.30h1.3v5.3h-1.3zM457.55 41.30h1.3v5.3h-1.3zM459.64 41.30h1.3v5.3h-1.3zM461.74 41.30h1.3v5.3h-1.3zM463.83 41.30h1.3v5.3h-1.3zM465.93 41.30h1.3v5.3h-1.3zM468.02 41.30h1.3v5.3h-1.3zM470.12 41.30h1.3v5.3h-1.3zM472.21 41.30h1.3v5.3h-1.3zM474.31 41.30h1.3v5.3h-1.3zM476.40 41.30h1.3v5.3h-1.3zM478.50 41.30h1.3v5.3h-1.3zM480.59 41.30h1.3v5.3h-1.3zM482.69 41.30h1.3v5.3h-1.3zM484.78 41.30h1.3v5.3h-1.3zM486.88 41.30h1.3v5.3h-1.3zM488.97 41.30h1.3v5.3h-1.3zM491.07 41.30h1.3v5.3h-1.3zM493.16 41.30h1.3v5.3h-1.3zM495.25 41.30h1.3v5.3h-1.3zM497.35 41.30h1.3v5.3h-1.3zM499.45 41.30h1.3v5.3h-1.3zM501.54 41.30h1.3v5.3h-1.3zM503.63 41.30h1.3v5.3h-1.3zM505.73 41.30h1.3v5.3h-1.3zM507.83 41.30h1.3v5.3h-1.3zM509.92 41.30h1.3v5.3h-1.3zM512.01 41.30h1.3v5.3h-1.3zM329.75 48.95h1.3v5.3h-1.3zM331.85 48.95h1.3v5.3h-1.3zM333.94 48.95h1.3v5.3h-1.3zM336.04 48.95h1.3v5.3h-1.3zM338.13 48.95h1.3v5.3h-1.3zM340.23 48.95h1.3v5.3h-1.3zM342.32 48.95h1.3v5.3h-1.3zM344.42 48.95h1.3v5.3h-1.3zM346.51 48.95h1.3v5.3h-1.3zM348.61 48.95h1.3v5.3h-1.3zM350.70 48.95h1.3v5.3h-1.3zM352.80 48.95h1.3v5.3h-1.3zM354.89 48.95h1.3v5.3h-1.3zM356.99 48.95h1.3v5.3h-1.3zM359.08 48.95h1.3v5.3h-1.3zM361.18 48.95h1.3v5.3h-1.3zM363.27 48.95h1.3v5.3h-1.3zM365.37 48.95h1.3v5.3h-1.3zM367.46 48.95h1.3v5.3h-1.3zM369.56 48.95h1.3v5.3h-1.3zM371.65 48.95h1.3v5.3h-1.3zM373.75 48.95h1.3v5.3h-1.3zM375.84 48.95h1.3v5.3h-1.3zM377.94 48.95h1.3v5.3h-1.3zM380.03 48.95h1.3v5.3h-1.3zM382.12 48.95h1.3v5.3h-1.3zM384.22 48.95h1.3v5.3h-1.3zM386.31 48.95h1.3v5.3h-1.3zM388.41 48.95h1.3v5.3h-1.3zM390.50 48.95h1.3v5.3h-1.3zM392.60 48.95h1.3v5.3h-1.3zM394.69 48.95h1.3v5.3h-1.3zM396.79 48.95h1.3v5.3h-1.3zM398.88 48.95h1.3v5.3h-1.3zM400.98 48.95h1.3v5.3h-1.3zM403.07 48.95h1.3v5.3h-1.3zM405.17 48.95h1.3v5.3h-1.3zM407.26 48.95h1.3v5.3h-1.3zM409.36 48.95h1.3v5.3h-1.3zM411.46 48.95h1.3v5.3h-1.3zM413.55 48.95h1.3v5.3h-1.3zM415.64 48.95h1.3v5.3h-1.3zM417.74 48.95h1.3v5.3h-1.3zM419.84 48.95h1.3v5.3h-1.3zM421.93 48.95h1.3v5.3h-1.3zM424.02 48.95h1.3v5.3h-1.3zM426.12 48.95h1.3v5.3h-1.3zM428.22 48.95h1.3v5.3h-1.3zM430.31 48.95h1.3v5.3h-1.3zM432.41 48.95h1.3v5.3h-1.3zM434.50 48.95h1.3v5.3h-1.3zM436.60 48.95h1.3v5.3h-1.3zM438.69 48.95h1.3v5.3h-1.3zM440.79 48.95h1.3v5.3h-1.3zM442.88 48.95h1.3v5.3h-1.3zM444.98 48.95h1.3v5.3h-1.3zM447.07 48.95h1.3v5.3h-1.3zM449.17 48.95h1.3v5.3h-1.3zM451.26 48.95h1.3v5.3h-1.3zM453.36 48.95h1.3v5.3h-1.3zM455.45 48.95h1.3v5.3h-1.3zM457.55 48.95h1.3v5.3h-1.3zM459.64 48.95h1.3v5.3h-1.3zM461.74 48.95h1.3v5.3h-1.3zM463.83 48.95h1.3v5.3h-1.3zM465.93 48.95h1.3v5.3h-1.3zM468.02 48.95h1.3v5.3h-1.3zM470.12 48.95h1.3v5.3h-1.3zM472.21 48.95h1.3v5.3h-1.3zM474.31 48.95h1.3v5.3h-1.3zM476.40 48.95h1.3v5.3h-1.3zM478.50 48.95h1.3v5.3h-1.3zM480.59 48.95h1.3v5.3h-1.3zM482.69 48.95h1.3v5.3h-1.3zM484.78 48.95h1.3v5.3h-1.3zM486.88 48.95h1.3v5.3h-1.3zM488.97 48.95h1.3v5.3h-1.3zM491.07 48.95h1.3v5.3h-1.3zM493.16 48.95h1.3v5.3h-1.3zM495.25 48.95h1.3v5.3h-1.3zM497.35 48.95h1.3v5.3h-1.3zM499.45 48.95h1.3v5.3h-1.3zM501.54 48.95h1.3v5.3h-1.3zM503.63 48.95h1.3v5.3h-1.3zM505.73 48.95h1.3v5.3h-1.3zM507.83 48.95h1.3v5.3h-1.3zM509.92 48.95h1.3v5.3h-1.3zM512.01 48.95h1.3v5.3h-1.3zM329.75 56.60h1.3v5.3h-1.3zM331.85 56.60h1.3v5.3h-1.3zM333.94 56.60h1.3v5.3h-1.3zM336.04 56.60h1.3v5.3h-1.3zM338.13 56.60h1.3v5.3h-1.3zM340.23 56.60h1.3v5.3h-1.3zM342.32 56.60h1.3v5.3h-1.3zM344.42 56.60h1.3v5.3h-1.3zM346.51 56.60h1.3v5.3h-1.3zM348.61 56.60h1.3v5.3h-1.3zM350.70 56.60h1.3v5.3h-1.3zM352.80 56.60h1.3v5.3h-1.3zM354.89 56.60h1.3v5.3h-1.3zM356.99 56.60h1.3v5.3h-1.3zM359.08 56.60h1.3v5.3h-1.3zM361.18 56.60h1.3v5.3h-1.3zM363.27 56.60h1.3v5.3h-1.3zM365.37 56.60h1.3v5.3h-1.3zM367.46 56.60h1.3v5.3h-1.3zM369.56 56.60h1.3v5.3h-1.3zM371.65 56.60h1.3v5.3h-1.3zM373.75 56.60h1.3v5.3h-1.3zM375.84 56.60h1.3v5.3h-1.3zM377.94 56.60h1.3v5.3h-1.3zM380.03 56.60h1.3v5.3h-1.3zM382.12 56.60h1.3v5.3h-1.3zM384.22 56.60h1.3v5.3h-1.3zM386.31 56.60h1.3v5.3h-1.3zM388.41 56.60h1.3v5.3h-1.3zM390.50 56.60h1.3v5.3h-1.3zM392.60 56.60h1.3v5.3h-1.3zM394.69 56.60h1.3v5.3h-1.3zM396.79 56.60h1.3v5.3h-1.3zM398.88 56.60h1.3v5.3h-1.3zM400.98 56.60h1.3v5.3h-1.3zM403.07 56.60h1.3v5.3h-1.3zM405.17 56.60h1.3v5.3h-1.3zM407.26 56.60h1.3v5.3h-1.3zM409.36 56.60h1.3v5.3h-1.3zM411.46 56.60h1.3v5.3h-1.3zM413.55 56.60h1.3v5.3h-1.3zM415.64 56.60h1.3v5.3h-1.3zM417.74 56.60h1.3v5.3h-1.3zM419.84 56.60h1.3v5.3h-1.3zM421.93 56.60h1.3v5.3h-1.3zM424.02 56.60h1.3v5.3h-1.3zM426.12 56.60h1.3v5.3h-1.3zM428.22 56.60h1.3v5.3h-1.3zM430.31 56.60h1.3v5.3h-1.3zM432.41 56.60h1.3v5.3h-1.3zM434.50 56.60h1.3v5.3h-1.3zM436.60 56.60h1.3v5.3h-1.3zM438.69 56.60h1.3v5.3h-1.3zM440.79 56.60h1.3v5.3h-1.3zM442.88 56.60h1.3v5.3h-1.3zM444.98 56.60h1.3v5.3h-1.3zM447.07 56.60h1.3v5.3h-1.3zM449.17 56.60h1.3v5.3h-1.3zM451.26 56.60h1.3v5.3h-1.3zM453.36 56.60h1.3v5.3h-1.3zM455.45 56.60h1.3v5.3h-1.3zM457.55 56.60h1.3v5.3h-1.3zM459.64 56.60h1.3v5.3h-1.3zM461.74 56.60h1.3v5.3h-1.3zM463.83 56.60h1.3v5.3h-1.3zM465.93 56.60h1.3v5.3h-1.3zM468.02 56.60h1.3v5.3h-1.3zM470.12 56.60h1.3v5.3h-1.3zM472.21 56.60h1.3v5.3h-1.3zM474.31 56.60h1.3v5.3h-1.3zM476.40 56.60h1.3v5.3h-1.3zM478.50 56.60h1.3v5.3h-1.3zM480.59 56.60h1.3v5.3h-1.3zM482.69 56.60h1.3v5.3h-1.3zM484.78 56.60h1.3v5.3h-1.3zM486.88 56.60h1.3v5.3h-1.3zM488.97 56.60h1.3v5.3h-1.3zM491.07 56.60h1.3v5.3h-1.3zM493.16 56.60h1.3v5.3h-1.3zM495.25 56.60h1.3v5.3h-1.3zM497.35 56.60h1.3v5.3h-1.3zM499.45 56.60h1.3v5.3h-1.3zM501.54 56.60h1.3v5.3h-1.3zM503.63 56.60h1.3v5.3h-1.3zM505.73 56.60h1.3v5.3h-1.3zM507.83 56.60h1.3v5.3h-1.3zM509.92 56.60h1.3v5.3h-1.3zM512.01 56.60h1.3v5.3h-1.3zM329.75 64.25h1.3v5.3h-1.3zM331.85 64.25h1.3v5.3h-1.3zM333.94 64.25h1.3v5.3h-1.3zM336.04 64.25h1.3v5.3h-1.3zM338.13 64.25h1.3v5.3h-1.3zM340.23 64.25h1.3v5.3h-1.3zM342.32 64.25h1.3v5.3h-1.3zM344.42 64.25h1.3v5.3h-1.3zM346.51 64.25h1.3v5.3h-1.3zM348.61 64.25h1.3v5.3h-1.3zM350.70 64.25h1.3v5.3h-1.3zM352.80 64.25h1.3v5.3h-1.3zM354.89 64.25h1.3v5.3h-1.3zM356.99 64.25h1.3v5.3h-1.3zM359.08 64.25h1.3v5.3h-1.3zM361.18 64.25h1.3v5.3h-1.3zM363.27 64.25h1.3v5.3h-1.3zM365.37 64.25h1.3v5.3h-1.3zM367.46 64.25h1.3v5.3h-1.3zM369.56 64.25h1.3v5.3h-1.3zM371.65 64.25h1.3v5.3h-1.3zM373.75 64.25h1.3v5.3h-1.3zM375.84 64.25h1.3v5.3h-1.3zM377.94 64.25h1.3v5.3h-1.3zM380.03 64.25h1.3v5.3h-1.3zM382.12 64.25h1.3v5.3h-1.3zM384.22 64.25h1.3v5.3h-1.3zM386.31 64.25h1.3v5.3h-1.3zM388.41 64.25h1.3v5.3h-1.3zM390.50 64.25h1.3v5.3h-1.3zM392.60 64.25h1.3v5.3h-1.3zM394.69 64.25h1.3v5.3h-1.3zM396.79 64.25h1.3v5.3h-1.3zM398.88 64.25h1.3v5.3h-1.3zM400.98 64.25h1.3v5.3h-1.3zM403.07 64.25h1.3v5.3h-1.3zM405.17 64.25h1.3v5.3h-1.3zM407.26 64.25h1.3v5.3h-1.3zM409.36 64.25h1.3v5.3h-1.3zM411.46 64.25h1.3v5.3h-1.3zM413.55 64.25h1.3v5.3h-1.3zM415.64 64.25h1.3v5.3h-1.3zM417.74 64.25h1.3v5.3h-1.3zM419.84 64.25h1.3v5.3h-1.3zM421.93 64.25h1.3v5.3h-1.3zM424.02 64.25h1.3v5.3h-1.3zM426.12 64.25h1.3v5.3h-1.3zM428.22 64.25h1.3v5.3h-1.3zM430.31 64.25h1.3v5.3h-1.3zM432.41 64.25h1.3v5.3h-1.3zM434.50 64.25h1.3v5.3h-1.3zM436.60 64.25h1.3v5.3h-1.3zM438.69 64.25h1.3v5.3h-1.3zM440.79 64.25h1.3v5.3h-1.3zM442.88 64.25h1.3v5.3h-1.3zM444.98 64.25h1.3v5.3h-1.3zM447.07 64.25h1.3v5.3h-1.3zM449.17 64.25h1.3v5.3h-1.3zM451.26 64.25h1.3v5.3h-1.3zM453.36 64.25h1.3v5.3h-1.3zM455.45 64.25h1.3v5.3h-1.3zM457.55 64.25h1.3v5.3h-1.3zM459.64 64.25h1.3v5.3h-1.3zM461.74 64.25h1.3v5.3h-1.3zM463.83 64.25h1.3v5.3h-1.3zM465.93 64.25h1.3v5.3h-1.3zM468.02 64.25h1.3v5.3h-1.3zM470.12 64.25h1.3v5.3h-1.3zM472.21 64.25h1.3v5.3h-1.3zM474.31 64.25h1.3v5.3h-1.3zM476.40 64.25h1.3v5.3h-1.3zM478.50 64.25h1.3v5.3h-1.3zM480.59 64.25h1.3v5.3h-1.3zM482.69 64.25h1.3v5.3h-1.3zM484.78 64.25h1.3v5.3h-1.3zM486.88 64.25h1.3v5.3h-1.3zM488.97 64.25h1.3v5.3h-1.3zM491.07 64.25h1.3v5.3h-1.3zM493.16 64.25h1.3v5.3h-1.3zM495.25 64.25h1.3v5.3h-1.3zM497.35 64.25h1.3v5.3h-1.3zM499.45 64.25h1.3v5.3h-1.3zM501.54 64.25h1.3v5.3h-1.3zM503.63 64.25h1.3v5.3h-1.3zM505.73 64.25h1.3v5.3h-1.3zM507.83 64.25h1.3v5.3h-1.3zM509.92 64.25h1.3v5.3h-1.3zM512.01 64.25h1.3v5.3h-1.3zM329.75 71.90h1.3v5.3h-1.3zM331.85 71.90h1.3v5.3h-1.3zM333.94 71.90h1.3v5.3h-1.3zM336.04 71.90h1.3v5.3h-1.3zM338.13 71.90h1.3v5.3h-1.3zM340.23 71.90h1.3v5.3h-1.3zM342.32 71.90h1.3v5.3h-1.3zM344.42 71.90h1.3v5.3h-1.3zM346.51 71.90h1.3v5.3h-1.3zM348.61 71.90h1.3v5.3h-1.3zM350.70 71.90h1.3v5.3h-1.3zM352.80 71.90h1.3v5.3h-1.3zM354.89 71.90h1.3v5.3h-1.3zM356.99 71.90h1.3v5.3h-1.3zM359.08 71.90h1.3v5.3h-1.3zM361.18 71.90h1.3v5.3h-1.3zM363.27 71.90h1.3v5.3h-1.3zM365.37 71.90h1.3v5.3h-1.3zM367.46 71.90h1.3v5.3h-1.3zM369.56 71.90h1.3v5.3h-1.3zM371.65 71.90h1.3v5.3h-1.3zM373.75 71.90h1.3v5.3h-1.3zM375.84 71.90h1.3v5.3h-1.3zM377.94 71.90h1.3v5.3h-1.3zM380.03 71.90h1.3v5.3h-1.3zM382.12 71.90h1.3v5.3h-1.3zM384.22 71.90h1.3v5.3h-1.3zM386.31 71.90h1.3v5.3h-1.3zM388.41 71.90h1.3v5.3h-1.3zM390.50 71.90h1.3v5.3h-1.3zM392.60 71.90h1.3v5.3h-1.3zM394.69 71.90h1.3v5.3h-1.3zM396.79 71.90h1.3v5.3h-1.3zM398.88 71.90h1.3v5.3h-1.3zM400.98 71.90h1.3v5.3h-1.3zM403.07 71.90h1.3v5.3h-1.3zM405.17 71.90h1.3v5.3h-1.3zM407.26 71.90h1.3v5.3h-1.3zM409.36 71.90h1.3v5.3h-1.3zM411.46 71.90h1.3v5.3h-1.3zM413.55 71.90h1.3v5.3h-1.3zM415.64 71.90h1.3v5.3h-1.3zM417.74 71.90h1.3v5.3h-1.3zM419.84 71.90h1.3v5.3h-1.3zM421.93 71.90h1.3v5.3h-1.3zM424.02 71.90h1.3v5.3h-1.3zM426.12 71.90h1.3v5.3h-1.3zM428.22 71.90h1.3v5.3h-1.3zM430.31 71.90h1.3v5.3h-1.3zM432.41 71.90h1.3v5.3h-1.3zM434.50 71.90h1.3v5.3h-1.3zM436.60 71.90h1.3v5.3h-1.3zM438.69 71.90h1.3v5.3h-1.3zM440.79 71.90h1.3v5.3h-1.3zM442.88 71.90h1.3v5.3h-1.3zM444.98 71.90h1.3v5.3h-1.3zM447.07 71.90h1.3v5.3h-1.3zM449.17 71.90h1.3v5.3h-1.3zM451.26 71.90h1.3v5.3h-1.3zM453.36 71.90h1.3v5.3h-1.3zM455.45 71.90h1.3v5.3h-1.3zM457.55 71.90h1.3v5.3h-1.3zM459.64 71.90h1.3v5.3h-1.3zM461.74 71.90h1.3v5.3h-1.3zM463.83 71.90h1.3v5.3h-1.3zM465.93 71.90h1.3v5.3h-1.3zM468.02 71.90h1.3v5.3h-1.3zM470.12 71.90h1.3v5.3h-1.3zM472.21 71.90h1.3v5.3h-1.3zM474.31 71.90h1.3v5.3h-1.3zM476.40 71.90h1.3v5.3h-1.3zM478.50 71.90h1.3v5.3h-1.3zM480.59 71.90h1.3v5.3h-1.3zM482.69 71.90h1.3v5.3h-1.3zM484.78 71.90h1.3v5.3h-1.3zM486.88 71.90h1.3v5.3h-1.3zM488.97 71.90h1.3v5.3h-1.3zM491.07 71.90h1.3v5.3h-1.3zM493.16 71.90h1.3v5.3h-1.3zM495.25 71.90h1.3v5.3h-1.3zM497.35 71.90h1.3v5.3h-1.3zM499.45 71.90h1.3v5.3h-1.3zM501.54 71.90h1.3v5.3h-1.3zM503.63 71.90h1.3v5.3h-1.3zM505.73 71.90h1.3v5.3h-1.3zM507.83 71.90h1.3v5.3h-1.3zM509.92 71.90h1.3v5.3h-1.3zM512.01 71.90h1.3v5.3h-1.3zM329.75 79.55h1.3v5.3h-1.3zM331.85 79.55h1.3v5.3h-1.3zM333.94 79.55h1.3v5.3h-1.3zM336.04 79.55h1.3v5.3h-1.3zM338.13 79.55h1.3v5.3h-1.3zM340.23 79.55h1.3v5.3h-1.3zM342.32 79.55h1.3v5.3h-1.3zM344.42 79.55h1.3v5.3h-1.3zM346.51 79.55h1.3v5.3h-1.3zM348.61 79.55h1.3v5.3h-1.3zM350.70 79.55h1.3v5.3h-1.3zM352.80 79.55h1.3v5.3h-1.3zM354.89 79.55h1.3v5.3h-1.3zM356.99 79.55h1.3v5.3h-1.3zM359.08 79.55h1.3v5.3h-1.3zM361.18 79.55h1.3v5.3h-1.3zM363.27 79.55h1.3v5.3h-1.3zM365.37 79.55h1.3v5.3h-1.3zM367.46 79.55h1.3v5.3h-1.3zM369.56 79.55h1.3v5.3h-1.3zM371.65 79.55h1.3v5.3h-1.3zM373.75 79.55h1.3v5.3h-1.3zM375.84 79.55h1.3v5.3h-1.3zM377.94 79.55h1.3v5.3h-1.3zM380.03 79.55h1.3v5.3h-1.3zM382.12 79.55h1.3v5.3h-1.3zM384.22 79.55h1.3v5.3h-1.3zM386.31 79.55h1.3v5.3h-1.3zM388.41 79.55h1.3v5.3h-1.3zM390.50 79.55h1.3v5.3h-1.3zM392.60 79.55h1.3v5.3h-1.3zM394.69 79.55h1.3v5.3h-1.3zM396.79 79.55h1.3v5.3h-1.3zM398.88 79.55h1.3v5.3h-1.3zM400.98 79.55h1.3v5.3h-1.3zM403.07 79.55h1.3v5.3h-1.3zM405.17 79.55h1.3v5.3h-1.3zM407.26 79.55h1.3v5.3h-1.3zM409.36 79.55h1.3v5.3h-1.3zM411.46 79.55h1.3v5.3h-1.3zM413.55 79.55h1.3v5.3h-1.3zM415.64 79.55h1.3v5.3h-1.3zM417.74 79.55h1.3v5.3h-1.3zM419.84 79.55h1.3v5.3h-1.3zM421.93 79.55h1.3v5.3h-1.3zM424.02 79.55h1.3v5.3h-1.3zM426.12 79.55h1.3v5.3h-1.3zM428.22 79.55h1.3v5.3h-1.3zM430.31 79.55h1.3v5.3h-1.3zM432.41 79.55h1.3v5.3h-1.3zM434.50 79.55h1.3v5.3h-1.3zM436.60 79.55h1.3v5.3h-1.3zM438.69 79.55h1.3v5.3h-1.3zM440.79 79.55h1.3v5.3h-1.3zM442.88 79.55h1.3v5.3h-1.3zM444.98 79.55h1.3v5.3h-1.3zM447.07 79.55h1.3v5.3h-1.3zM449.17 79.55h1.3v5.3h-1.3zM451.26 79.55h1.3v5.3h-1.3zM453.36 79.55h1.3v5.3h-1.3zM455.45 79.55h1.3v5.3h-1.3zM457.55 79.55h1.3v5.3h-1.3zM459.64 79.55h1.3v5.3h-1.3zM461.74 79.55h1.3v5.3h-1.3zM463.83 79.55h1.3v5.3h-1.3zM465.93 79.55h1.3v5.3h-1.3zM468.02 79.55h1.3v5.3h-1.3zM470.12 79.55h1.3v5.3h-1.3zM472.21 79.55h1.3v5.3h-1.3zM474.31 79.55h1.3v5.3h-1.3zM476.40 79.55h1.3v5.3h-1.3zM478.50 79.55h1.3v5.3h-1.3zM480.59 79.55h1.3v5.3h-1.3zM482.69 79.55h1.3v5.3h-1.3zM484.78 79.55h1.3v5.3h-1.3zM486.88 79.55h1.3v5.3h-1.3zM488.97 79.55h1.3v5.3h-1.3zM491.07 79.55h1.3v5.3h-1.3zM493.16 79.55h1.3v5.3h-1.3zM495.25 79.55h1.3v5.3h-1.3zM497.35 79.55h1.3v5.3h-1.3zM499.45 79.55h1.3v5.3h-1.3zM501.54 79.55h1.3v5.3h-1.3zM503.63 79.55h1.3v5.3h-1.3zM505.73 79.55h1.3v5.3h-1.3zM507.83 79.55h1.3v5.3h-1.3zM509.92 79.55h1.3v5.3h-1.3zM512.01 79.55h1.3v5.3h-1.3zM329.75 87.20h1.3v5.3h-1.3zM331.85 87.20h1.3v5.3h-1.3zM333.94 87.20h1.3v5.3h-1.3zM336.04 87.20h1.3v5.3h-1.3zM338.13 87.20h1.3v5.3h-1.3zM340.23 87.20h1.3v5.3h-1.3zM342.32 87.20h1.3v5.3h-1.3zM344.42 87.20h1.3v5.3h-1.3zM346.51 87.20h1.3v5.3h-1.3zM348.61 87.20h1.3v5.3h-1.3zM350.70 87.20h1.3v5.3h-1.3zM352.80 87.20h1.3v5.3h-1.3zM354.89 87.20h1.3v5.3h-1.3zM356.99 87.20h1.3v5.3h-1.3zM359.08 87.20h1.3v5.3h-1.3zM361.18 87.20h1.3v5.3h-1.3zM363.27 87.20h1.3v5.3h-1.3zM365.37 87.20h1.3v5.3h-1.3zM367.46 87.20h1.3v5.3h-1.3zM369.56 87.20h1.3v5.3h-1.3zM371.65 87.20h1.3v5.3h-1.3zM373.75 87.20h1.3v5.3h-1.3zM375.84 87.20h1.3v5.3h-1.3zM377.94 87.20h1.3v5.3h-1.3zM380.03 87.20h1.3v5.3h-1.3zM382.12 87.20h1.3v5.3h-1.3zM384.22 87.20h1.3v5.3h-1.3zM386.31 87.20h1.3v5.3h-1.3zM388.41 87.20h1.3v5.3h-1.3zM390.50 87.20h1.3v5.3h-1.3zM392.60 87.20h1.3v5.3h-1.3zM394.69 87.20h1.3v5.3h-1.3zM396.79 87.20h1.3v5.3h-1.3zM398.88 87.20h1.3v5.3h-1.3zM400.98 87.20h1.3v5.3h-1.3zM403.07 87.20h1.3v5.3h-1.3zM405.17 87.20h1.3v5.3h-1.3zM407.26 87.20h1.3v5.3h-1.3zM409.36 87.20h1.3v5.3h-1.3zM411.46 87.20h1.3v5.3h-1.3zM413.55 87.20h1.3v5.3h-1.3zM415.64 87.20h1.3v5.3h-1.3zM417.74 87.20h1.3v5.3h-1.3zM419.84 87.20h1.3v5.3h-1.3zM421.93 87.20h1.3v5.3h-1.3zM424.02 87.20h1.3v5.3h-1.3zM426.12 87.20h1.3v5.3h-1.3zM428.22 87.20h1.3v5.3h-1.3zM430.31 87.20h1.3v5.3h-1.3zM432.41 87.20h1.3v5.3h-1.3zM434.50 87.20h1.3v5.3h-1.3zM436.60 87.20h1.3v5.3h-1.3zM438.69 87.20h1.3v5.3h-1.3zM440.79 87.20h1.3v5.3h-1.3zM442.88 87.20h1.3v5.3h-1.3zM444.98 87.20h1.3v5.3h-1.3zM447.07 87.20h1.3v5.3h-1.3zM449.17 87.20h1.3v5.3h-1.3zM451.26 87.20h1.3v5.3h-1.3zM453.36 87.20h1.3v5.3h-1.3zM455.45 87.20h1.3v5.3h-1.3zM457.55 87.20h1.3v5.3h-1.3zM459.64 87.20h1.3v5.3h-1.3zM461.74 87.20h1.3v5.3h-1.3zM463.83 87.20h1.3v5.3h-1.3zM465.93 87.20h1.3v5.3h-1.3zM468.02 87.20h1.3v5.3h-1.3zM470.12 87.20h1.3v5.3h-1.3zM472.21 87.20h1.3v5.3h-1.3zM474.31 87.20h1.3v5.3h-1.3zM476.40 87.20h1.3v5.3h-1.3zM478.50 87.20h1.3v5.3h-1.3zM480.59 87.20h1.3v5.3h-1.3zM482.69 87.20h1.3v5.3h-1.3zM484.78 87.20h1.3v5.3h-1.3zM486.88 87.20h1.3v5.3h-1.3zM488.97 87.20h1.3v5.3h-1.3zM491.07 87.20h1.3v5.3h-1.3zM493.16 87.20h1.3v5.3h-1.3zM495.25 87.20h1.3v5.3h-1.3zM497.35 87.20h1.3v5.3h-1.3zM499.45 87.20h1.3v5.3h-1.3zM501.54 87.20h1.3v5.3h-1.3zM503.63 87.20h1.3v5.3h-1.3zM505.73 87.20h1.3v5.3h-1.3zM507.83 87.20h1.3v5.3h-1.3zM509.92 87.20h1.3v5.3h-1.3zM512.01 87.20h1.3v5.3h-1.3zM329.75 94.85h1.3v5.3h-1.3zM331.85 94.85h1.3v5.3h-1.3zM333.94 94.85h1.3v5.3h-1.3zM336.04 94.85h1.3v5.3h-1.3zM338.13 94.85h1.3v5.3h-1.3zM340.23 94.85h1.3v5.3h-1.3zM342.32 94.85h1.3v5.3h-1.3zM344.42 94.85h1.3v5.3h-1.3zM346.51 94.85h1.3v5.3h-1.3zM348.61 94.85h1.3v5.3h-1.3zM350.70 94.85h1.3v5.3h-1.3zM352.80 94.85h1.3v5.3h-1.3zM354.89 94.85h1.3v5.3h-1.3zM356.99 94.85h1.3v5.3h-1.3zM359.08 94.85h1.3v5.3h-1.3zM361.18 94.85h1.3v5.3h-1.3zM363.27 94.85h1.3v5.3h-1.3zM365.37 94.85h1.3v5.3h-1.3zM367.46 94.85h1.3v5.3h-1.3zM369.56 94.85h1.3v5.3h-1.3zM371.65 94.85h1.3v5.3h-1.3zM373.75 94.85h1.3v5.3h-1.3zM375.84 94.85h1.3v5.3h-1.3zM377.94 94.85h1.3v5.3h-1.3zM380.03 94.85h1.3v5.3h-1.3zM382.12 94.85h1.3v5.3h-1.3zM384.22 94.85h1.3v5.3h-1.3zM386.31 94.85h1.3v5.3h-1.3zM388.41 94.85h1.3v5.3h-1.3zM390.50 94.85h1.3v5.3h-1.3zM392.60 94.85h1.3v5.3h-1.3zM394.69 94.85h1.3v5.3h-1.3zM396.79 94.85h1.3v5.3h-1.3zM398.88 94.85h1.3v5.3h-1.3zM400.98 94.85h1.3v5.3h-1.3zM403.07 94.85h1.3v5.3h-1.3zM405.17 94.85h1.3v5.3h-1.3zM407.26 94.85h1.3v5.3h-1.3zM409.36 94.85h1.3v5.3h-1.3zM411.46 94.85h1.3v5.3h-1.3zM413.55 94.85h1.3v5.3h-1.3zM415.64 94.85h1.3v5.3h-1.3zM417.74 94.85h1.3v5.3h-1.3zM419.84 94.85h1.3v5.3h-1.3zM421.93 94.85h1.3v5.3h-1.3zM424.02 94.85h1.3v5.3h-1.3zM426.12 94.85h1.3v5.3h-1.3zM428.22 94.85h1.3v5.3h-1.3zM430.31 94.85h1.3v5.3h-1.3zM432.41 94.85h1.3v5.3h-1.3zM434.50 94.85h1.3v5.3h-1.3zM436.60 94.85h1.3v5.3h-1.3zM438.69 94.85h1.3v5.3h-1.3zM440.79 94.85h1.3v5.3h-1.3zM442.88 94.85h1.3v5.3h-1.3zM444.98 94.85h1.3v5.3h-1.3zM447.07 94.85h1.3v5.3h-1.3zM449.17 94.85h1.3v5.3h-1.3zM451.26 94.85h1.3v5.3h-1.3zM453.36 94.85h1.3v5.3h-1.3zM455.45 94.85h1.3v5.3h-1.3zM457.55 94.85h1.3v5.3h-1.3zM459.64 94.85h1.3v5.3h-1.3zM461.74 94.85h1.3v5.3h-1.3zM463.83 94.85h1.3v5.3h-1.3zM465.93 94.85h1.3v5.3h-1.3zM468.02 94.85h1.3v5.3h-1.3zM470.12 94.85h1.3v5.3h-1.3zM472.21 94.85h1.3v5.3h-1.3zM474.31 94.85h1.3v5.3h-1.3zM476.40 94.85h1.3v5.3h-1.3zM478.50 94.85h1.3v5.3h-1.3zM480.59 94.85h1.3v5.3h-1.3zM482.69 94.85h1.3v5.3h-1.3zM484.78 94.85h1.3v5.3h-1.3zM486.88 94.85h1.3v5.3h-1.3zM488.97 94.85h1.3v5.3h-1.3zM491.07 94.85h1.3v5.3h-1.3zM493.16 94.85h1.3v5.3h-1.3zM495.25 94.85h1.3v5.3h-1.3zM497.35 94.85h1.3v5.3h-1.3zM499.45 94.85h1.3v5.3h-1.3zM501.54 94.85h1.3v5.3h-1.3zM503.63 94.85h1.3v5.3h-1.3zM505.73 94.85h1.3v5.3h-1.3zM507.83 94.85h1.3v5.3h-1.3zM509.92 94.85h1.3v5.3h-1.3zM512.01 94.85h1.3v5.3h-1.3zM329.75 102.50h1.3v5.3h-1.3zM331.85 102.50h1.3v5.3h-1.3zM333.94 102.50h1.3v5.3h-1.3zM336.04 102.50h1.3v5.3h-1.3zM338.13 102.50h1.3v5.3h-1.3zM340.23 102.50h1.3v5.3h-1.3zM342.32 102.50h1.3v5.3h-1.3zM344.42 102.50h1.3v5.3h-1.3zM346.51 102.50h1.3v5.3h-1.3zM348.61 102.50h1.3v5.3h-1.3zM350.70 102.50h1.3v5.3h-1.3zM352.80 102.50h1.3v5.3h-1.3zM354.89 102.50h1.3v5.3h-1.3zM356.99 102.50h1.3v5.3h-1.3zM359.08 102.50h1.3v5.3h-1.3zM361.18 102.50h1.3v5.3h-1.3zM363.27 102.50h1.3v5.3h-1.3zM365.37 102.50h1.3v5.3h-1.3zM367.46 102.50h1.3v5.3h-1.3zM369.56 102.50h1.3v5.3h-1.3zM371.65 102.50h1.3v5.3h-1.3zM373.75 102.50h1.3v5.3h-1.3zM375.84 102.50h1.3v5.3h-1.3zM377.94 102.50h1.3v5.3h-1.3zM380.03 102.50h1.3v5.3h-1.3zM382.12 102.50h1.3v5.3h-1.3zM384.22 102.50h1.3v5.3h-1.3zM386.31 102.50h1.3v5.3h-1.3zM388.41 102.50h1.3v5.3h-1.3zM390.50 102.50h1.3v5.3h-1.3zM392.60 102.50h1.3v5.3h-1.3zM394.69 102.50h1.3v5.3h-1.3zM396.79 102.50h1.3v5.3h-1.3zM398.88 102.50h1.3v5.3h-1.3zM400.98 102.50h1.3v5.3h-1.3zM403.07 102.50h1.3v5.3h-1.3zM405.17 102.50h1.3v5.3h-1.3zM407.26 102.50h1.3v5.3h-1.3zM409.36 102.50h1.3v5.3h-1.3zM411.46 102.50h1.3v5.3h-1.3zM413.55 102.50h1.3v5.3h-1.3zM415.64 102.50h1.3v5.3h-1.3zM417.74 102.50h1.3v5.3h-1.3zM419.84 102.50h1.3v5.3h-1.3zM421.93 102.50h1.3v5.3h-1.3zM424.02 102.50h1.3v5.3h-1.3zM426.12 102.50h1.3v5.3h-1.3zM428.22 102.50h1.3v5.3h-1.3zM430.31 102.50h1.3v5.3h-1.3zM432.41 102.50h1.3v5.3h-1.3zM434.50 102.50h1.3v5.3h-1.3zM436.60 102.50h1.3v5.3h-1.3zM438.69 102.50h1.3v5.3h-1.3zM440.79 102.50h1.3v5.3h-1.3zM442.88 102.50h1.3v5.3h-1.3zM444.98 102.50h1.3v5.3h-1.3zM447.07 102.50h1.3v5.3h-1.3zM449.17 102.50h1.3v5.3h-1.3zM451.26 102.50h1.3v5.3h-1.3zM453.36 102.50h1.3v5.3h-1.3zM455.45 102.50h1.3v5.3h-1.3zM457.55 102.50h1.3v5.3h-1.3zM459.64 102.50h1.3v5.3h-1.3zM461.74 102.50h1.3v5.3h-1.3zM463.83 102.50h1.3v5.3h-1.3zM465.93 102.50h1.3v5.3h-1.3zM468.02 102.50h1.3v5.3h-1.3zM470.12 102.50h1.3v5.3h-1.3zM472.21 102.50h1.3v5.3h-1.3zM474.31 102.50h1.3v5.3h-1.3zM476.40 102.50h1.3v5.3h-1.3zM478.50 102.50h1.3v5.3h-1.3zM480.59 102.50h1.3v5.3h-1.3zM482.69 102.50h1.3v5.3h-1.3zM484.78 102.50h1.3v5.3h-1.3zM486.88 102.50h1.3v5.3h-1.3zM488.97 102.50h1.3v5.3h-1.3zM491.07 102.50h1.3v5.3h-1.3zM493.16 102.50h1.3v5.3h-1.3zM495.25 102.50h1.3v5.3h-1.3zM497.35 102.50h1.3v5.3h-1.3zM499.45 102.50h1.3v5.3h-1.3zM501.54 102.50h1.3v5.3h-1.3zM503.63 102.50h1.3v5.3h-1.3zM505.73 102.50h1.3v5.3h-1.3zM507.83 102.50h1.3v5.3h-1.3zM509.92 102.50h1.3v5.3h-1.3zM512.01 102.50h1.3v5.3h-1.3zM329.75 110.15h1.3v5.3h-1.3zM331.85 110.15h1.3v5.3h-1.3zM333.94 110.15h1.3v5.3h-1.3zM336.04 110.15h1.3v5.3h-1.3zM338.13 110.15h1.3v5.3h-1.3zM340.23 110.15h1.3v5.3h-1.3zM342.32 110.15h1.3v5.3h-1.3zM344.42 110.15h1.3v5.3h-1.3zM346.51 110.15h1.3v5.3h-1.3zM348.61 110.15h1.3v5.3h-1.3zM350.70 110.15h1.3v5.3h-1.3zM352.80 110.15h1.3v5.3h-1.3zM354.89 110.15h1.3v5.3h-1.3zM356.99 110.15h1.3v5.3h-1.3zM359.08 110.15h1.3v5.3h-1.3zM361.18 110.15h1.3v5.3h-1.3zM363.27 110.15h1.3v5.3h-1.3zM365.37 110.15h1.3v5.3h-1.3zM367.46 110.15h1.3v5.3h-1.3zM369.56 110.15h1.3v5.3h-1.3zM371.65 110.15h1.3v5.3h-1.3zM373.75 110.15h1.3v5.3h-1.3zM375.84 110.15h1.3v5.3h-1.3zM377.94 110.15h1.3v5.3h-1.3zM380.03 110.15h1.3v5.3h-1.3zM382.12 110.15h1.3v5.3h-1.3zM384.22 110.15h1.3v5.3h-1.3zM386.31 110.15h1.3v5.3h-1.3zM388.41 110.15h1.3v5.3h-1.3zM390.50 110.15h1.3v5.3h-1.3zM392.60 110.15h1.3v5.3h-1.3zM394.69 110.15h1.3v5.3h-1.3zM396.79 110.15h1.3v5.3h-1.3zM398.88 110.15h1.3v5.3h-1.3zM400.98 110.15h1.3v5.3h-1.3zM403.07 110.15h1.3v5.3h-1.3zM405.17 110.15h1.3v5.3h-1.3zM407.26 110.15h1.3v5.3h-1.3zM409.36 110.15h1.3v5.3h-1.3zM411.46 110.15h1.3v5.3h-1.3zM413.55 110.15h1.3v5.3h-1.3zM415.64 110.15h1.3v5.3h-1.3zM417.74 110.15h1.3v5.3h-1.3zM419.84 110.15h1.3v5.3h-1.3zM421.93 110.15h1.3v5.3h-1.3zM424.02 110.15h1.3v5.3h-1.3zM426.12 110.15h1.3v5.3h-1.3zM428.22 110.15h1.3v5.3h-1.3zM430.31 110.15h1.3v5.3h-1.3zM432.41 110.15h1.3v5.3h-1.3zM434.50 110.15h1.3v5.3h-1.3zM436.60 110.15h1.3v5.3h-1.3zM438.69 110.15h1.3v5.3h-1.3zM440.79 110.15h1.3v5.3h-1.3zM442.88 110.15h1.3v5.3h-1.3zM444.98 110.15h1.3v5.3h-1.3zM447.07 110.15h1.3v5.3h-1.3zM449.17 110.15h1.3v5.3h-1.3zM451.26 110.15h1.3v5.3h-1.3zM453.36 110.15h1.3v5.3h-1.3zM455.45 110.15h1.3v5.3h-1.3zM457.55 110.15h1.3v5.3h-1.3zM459.64 110.15h1.3v5.3h-1.3zM461.74 110.15h1.3v5.3h-1.3zM463.83 110.15h1.3v5.3h-1.3zM465.93 110.15h1.3v5.3h-1.3zM468.02 110.15h1.3v5.3h-1.3zM470.12 110.15h1.3v5.3h-1.3zM472.21 110.15h1.3v5.3h-1.3zM474.31 110.15h1.3v5.3h-1.3zM476.40 110.15h1.3v5.3h-1.3zM478.50 110.15h1.3v5.3h-1.3zM480.59 110.15h1.3v5.3h-1.3zM482.69 110.15h1.3v5.3h-1.3zM484.78 110.15h1.3v5.3h-1.3zM486.88 110.15h1.3v5.3h-1.3zM488.97 110.15h1.3v5.3h-1.3zM491.07 110.15h1.3v5.3h-1.3zM493.16 110.15h1.3v5.3h-1.3zM495.25 110.15h1.3v5.3h-1.3zM497.35 110.15h1.3v5.3h-1.3zM499.45 110.15h1.3v5.3h-1.3zM501.54 110.15h1.3v5.3h-1.3zM503.63 110.15h1.3v5.3h-1.3zM505.73 110.15h1.3v5.3h-1.3zM507.83 110.15h1.3v5.3h-1.3zM509.92 110.15h1.3v5.3h-1.3zM512.01 110.15h1.3v5.3h-1.3zM329.75 117.80h1.3v5.3h-1.3zM331.85 117.80h1.3v5.3h-1.3zM333.94 117.80h1.3v5.3h-1.3zM336.04 117.80h1.3v5.3h-1.3zM338.13 117.80h1.3v5.3h-1.3zM340.23 117.80h1.3v5.3h-1.3zM342.32 117.80h1.3v5.3h-1.3zM344.42 117.80h1.3v5.3h-1.3zM346.51 117.80h1.3v5.3h-1.3zM348.61 117.80h1.3v5.3h-1.3zM350.70 117.80h1.3v5.3h-1.3zM352.80 117.80h1.3v5.3h-1.3zM354.89 117.80h1.3v5.3h-1.3zM356.99 117.80h1.3v5.3h-1.3zM359.08 117.80h1.3v5.3h-1.3zM361.18 117.80h1.3v5.3h-1.3zM363.27 117.80h1.3v5.3h-1.3zM365.37 117.80h1.3v5.3h-1.3zM367.46 117.80h1.3v5.3h-1.3zM369.56 117.80h1.3v5.3h-1.3zM371.65 117.80h1.3v5.3h-1.3zM373.75 117.80h1.3v5.3h-1.3zM375.84 117.80h1.3v5.3h-1.3zM377.94 117.80h1.3v5.3h-1.3zM380.03 117.80h1.3v5.3h-1.3zM382.12 117.80h1.3v5.3h-1.3zM384.22 117.80h1.3v5.3h-1.3zM386.31 117.80h1.3v5.3h-1.3zM388.41 117.80h1.3v5.3h-1.3zM390.50 117.80h1.3v5.3h-1.3zM392.60 117.80h1.3v5.3h-1.3zM394.69 117.80h1.3v5.3h-1.3zM396.79 117.80h1.3v5.3h-1.3zM398.88 117.80h1.3v5.3h-1.3zM400.98 117.80h1.3v5.3h-1.3zM403.07 117.80h1.3v5.3h-1.3zM405.17 117.80h1.3v5.3h-1.3zM407.26 117.80h1.3v5.3h-1.3zM409.36 117.80h1.3v5.3h-1.3zM411.46 117.80h1.3v5.3h-1.3zM413.55 117.80h1.3v5.3h-1.3zM415.64 117.80h1.3v5.3h-1.3zM417.74 117.80h1.3v5.3h-1.3zM419.84 117.80h1.3v5.3h-1.3zM421.93 117.80h1.3v5.3h-1.3zM424.02 117.80h1.3v5.3h-1.3zM426.12 117.80h1.3v5.3h-1.3zM428.22 117.80h1.3v5.3h-1.3zM430.31 117.80h1.3v5.3h-1.3zM432.41 117.80h1.3v5.3h-1.3zM434.50 117.80h1.3v5.3h-1.3zM436.60 117.80h1.3v5.3h-1.3zM438.69 117.80h1.3v5.3h-1.3zM440.79 117.80h1.3v5.3h-1.3zM442.88 117.80h1.3v5.3h-1.3zM444.98 117.80h1.3v5.3h-1.3zM447.07 117.80h1.3v5.3h-1.3zM449.17 117.80h1.3v5.3h-1.3zM451.26 117.80h1.3v5.3h-1.3zM453.36 117.80h1.3v5.3h-1.3zM455.45 117.80h1.3v5.3h-1.3zM457.55 117.80h1.3v5.3h-1.3zM459.64 117.80h1.3v5.3h-1.3zM461.74 117.80h1.3v5.3h-1.3zM463.83 117.80h1.3v5.3h-1.3zM465.93 117.80h1.3v5.3h-1.3zM468.02 117.80h1.3v5.3h-1.3zM470.12 117.80h1.3v5.3h-1.3zM472.21 117.80h1.3v5.3h-1.3zM474.31 117.80h1.3v5.3h-1.3zM476.40 117.80h1.3v5.3h-1.3zM478.50 117.80h1.3v5.3h-1.3zM480.59 117.80h1.3v5.3h-1.3zM482.69 117.80h1.3v5.3h-1.3zM484.78 117.80h1.3v5.3h-1.3zM486.88 117.80h1.3v5.3h-1.3zM488.97 117.80h1.3v5.3h-1.3zM491.07 117.80h1.3v5.3h-1.3zM493.16 117.80h1.3v5.3h-1.3zM495.25 117.80h1.3v5.3h-1.3zM497.35 117.80h1.3v5.3h-1.3zM499.45 117.80h1.3v5.3h-1.3zM501.54 117.80h1.3v5.3h-1.3zM503.63 117.80h1.3v5.3h-1.3zM505.73 117.80h1.3v5.3h-1.3zM507.83 117.80h1.3v5.3h-1.3zM509.92 117.80h1.3v5.3h-1.3zM512.01 117.80h1.3v5.3h-1.3zM329.75 125.45h1.3v5.3h-1.3zM331.85 125.45h1.3v5.3h-1.3zM333.94 125.45h1.3v5.3h-1.3zM336.04 125.45h1.3v5.3h-1.3zM338.13 125.45h1.3v5.3h-1.3zM340.23 125.45h1.3v5.3h-1.3zM342.32 125.45h1.3v5.3h-1.3zM344.42 125.45h1.3v5.3h-1.3zM346.51 125.45h1.3v5.3h-1.3zM348.61 125.45h1.3v5.3h-1.3zM350.70 125.45h1.3v5.3h-1.3zM352.80 125.45h1.3v5.3h-1.3zM354.89 125.45h1.3v5.3h-1.3zM356.99 125.45h1.3v5.3h-1.3zM359.08 125.45h1.3v5.3h-1.3zM361.18 125.45h1.3v5.3h-1.3zM363.27 125.45h1.3v5.3h-1.3zM365.37 125.45h1.3v5.3h-1.3zM367.46 125.45h1.3v5.3h-1.3zM369.56 125.45h1.3v5.3h-1.3zM371.65 125.45h1.3v5.3h-1.3zM373.75 125.45h1.3v5.3h-1.3zM375.84 125.45h1.3v5.3h-1.3zM377.94 125.45h1.3v5.3h-1.3zM380.03 125.45h1.3v5.3h-1.3zM382.12 125.45h1.3v5.3h-1.3zM384.22 125.45h1.3v5.3h-1.3zM386.31 125.45h1.3v5.3h-1.3zM388.41 125.45h1.3v5.3h-1.3zM390.50 125.45h1.3v5.3h-1.3zM392.60 125.45h1.3v5.3h-1.3zM394.69 125.45h1.3v5.3h-1.3zM396.79 125.45h1.3v5.3h-1.3zM398.88 125.45h1.3v5.3h-1.3zM400.98 125.45h1.3v5.3h-1.3zM403.07 125.45h1.3v5.3h-1.3zM405.17 125.45h1.3v5.3h-1.3zM407.26 125.45h1.3v5.3h-1.3zM409.36 125.45h1.3v5.3h-1.3zM411.46 125.45h1.3v5.3h-1.3zM413.55 125.45h1.3v5.3h-1.3zM415.64 125.45h1.3v5.3h-1.3zM417.74 125.45h1.3v5.3h-1.3zM419.84 125.45h1.3v5.3h-1.3zM421.93 125.45h1.3v5.3h-1.3zM424.02 125.45h1.3v5.3h-1.3zM426.12 125.45h1.3v5.3h-1.3zM428.22 125.45h1.3v5.3h-1.3zM430.31 125.45h1.3v5.3h-1.3zM432.41 125.45h1.3v5.3h-1.3zM434.50 125.45h1.3v5.3h-1.3zM436.60 125.45h1.3v5.3h-1.3zM438.69 125.45h1.3v5.3h-1.3zM440.79 125.45h1.3v5.3h-1.3zM442.88 125.45h1.3v5.3h-1.3zM444.98 125.45h1.3v5.3h-1.3zM447.07 125.45h1.3v5.3h-1.3zM449.17 125.45h1.3v5.3h-1.3zM451.26 125.45h1.3v5.3h-1.3zM453.36 125.45h1.3v5.3h-1.3zM455.45 125.45h1.3v5.3h-1.3zM457.55 125.45h1.3v5.3h-1.3zM459.64 125.45h1.3v5.3h-1.3zM461.74 125.45h1.3v5.3h-1.3zM463.83 125.45h1.3v5.3h-1.3zM465.93 125.45h1.3v5.3h-1.3zM468.02 125.45h1.3v5.3h-1.3zM470.12 125.45h1.3v5.3h-1.3zM472.21 125.45h1.3v5.3h-1.3zM474.31 125.45h1.3v5.3h-1.3zM476.40 125.45h1.3v5.3h-1.3zM478.50 125.45h1.3v5.3h-1.3zM480.59 125.45h1.3v5.3h-1.3zM482.69 125.45h1.3v5.3h-1.3zM484.78 125.45h1.3v5.3h-1.3zM486.88 125.45h1.3v5.3h-1.3zM488.97 125.45h1.3v5.3h-1.3zM491.07 125.45h1.3v5.3h-1.3zM493.16 125.45h1.3v5.3h-1.3zM495.25 125.45h1.3v5.3h-1.3zM497.35 125.45h1.3v5.3h-1.3zM499.45 125.45h1.3v5.3h-1.3zM501.54 125.45h1.3v5.3h-1.3zM503.63 125.45h1.3v5.3h-1.3zM505.73 125.45h1.3v5.3h-1.3zM507.83 125.45h1.3v5.3h-1.3zM509.92 125.45h1.3v5.3h-1.3zM512.01 125.45h1.3v5.3h-1.3zM329.75 133.10h1.3v5.3h-1.3zM331.85 133.10h1.3v5.3h-1.3zM333.94 133.10h1.3v5.3h-1.3zM336.04 133.10h1.3v5.3h-1.3zM338.13 133.10h1.3v5.3h-1.3zM340.23 133.10h1.3v5.3h-1.3zM342.32 133.10h1.3v5.3h-1.3zM344.42 133.10h1.3v5.3h-1.3zM346.51 133.10h1.3v5.3h-1.3zM348.61 133.10h1.3v5.3h-1.3zM350.70 133.10h1.3v5.3h-1.3zM352.80 133.10h1.3v5.3h-1.3zM354.89 133.10h1.3v5.3h-1.3zM356.99 133.10h1.3v5.3h-1.3zM359.08 133.10h1.3v5.3h-1.3zM361.18 133.10h1.3v5.3h-1.3zM363.27 133.10h1.3v5.3h-1.3zM365.37 133.10h1.3v5.3h-1.3zM367.46 133.10h1.3v5.3h-1.3zM369.56 133.10h1.3v5.3h-1.3zM371.65 133.10h1.3v5.3h-1.3zM373.75 133.10h1.3v5.3h-1.3zM375.84 133.10h1.3v5.3h-1.3zM377.94 133.10h1.3v5.3h-1.3zM380.03 133.10h1.3v5.3h-1.3zM382.12 133.10h1.3v5.3h-1.3zM384.22 133.10h1.3v5.3h-1.3zM386.31 133.10h1.3v5.3h-1.3zM388.41 133.10h1.3v5.3h-1.3zM390.50 133.10h1.3v5.3h-1.3zM392.60 133.10h1.3v5.3h-1.3zM394.69 133.10h1.3v5.3h-1.3zM396.79 133.10h1.3v5.3h-1.3zM398.88 133.10h1.3v5.3h-1.3zM400.98 133.10h1.3v5.3h-1.3zM403.07 133.10h1.3v5.3h-1.3zM405.17 133.10h1.3v5.3h-1.3zM407.26 133.10h1.3v5.3h-1.3zM409.36 133.10h1.3v5.3h-1.3zM411.46 133.10h1.3v5.3h-1.3zM413.55 133.10h1.3v5.3h-1.3zM415.64 133.10h1.3v5.3h-1.3zM417.74 133.10h1.3v5.3h-1.3zM419.84 133.10h1.3v5.3h-1.3zM421.93 133.10h1.3v5.3h-1.3zM424.02 133.10h1.3v5.3h-1.3zM426.12 133.10h1.3v5.3h-1.3zM428.22 133.10h1.3v5.3h-1.3zM430.31 133.10h1.3v5.3h-1.3zM432.41 133.10h1.3v5.3h-1.3zM434.50 133.10h1.3v5.3h-1.3zM436.60 133.10h1.3v5.3h-1.3zM438.69 133.10h1.3v5.3h-1.3zM440.79 133.10h1.3v5.3h-1.3zM442.88 133.10h1.3v5.3h-1.3zM444.98 133.10h1.3v5.3h-1.3zM447.07 133.10h1.3v5.3h-1.3zM449.17 133.10h1.3v5.3h-1.3zM451.26 133.10h1.3v5.3h-1.3zM453.36 133.10h1.3v5.3h-1.3zM455.45 133.10h1.3v5.3h-1.3zM457.55 133.10h1.3v5.3h-1.3zM459.64 133.10h1.3v5.3h-1.3zM461.74 133.10h1.3v5.3h-1.3zM463.83 133.10h1.3v5.3h-1.3zM465.93 133.10h1.3v5.3h-1.3zM468.02 133.10h1.3v5.3h-1.3zM470.12 133.10h1.3v5.3h-1.3zM472.21 133.10h1.3v5.3h-1.3zM474.31 133.10h1.3v5.3h-1.3zM476.40 133.10h1.3v5.3h-1.3zM478.50 133.10h1.3v5.3h-1.3zM480.59 133.10h1.3v5.3h-1.3zM482.69 133.10h1.3v5.3h-1.3zM484.78 133.10h1.3v5.3h-1.3zM486.88 133.10h1.3v5.3h-1.3zM488.97 133.10h1.3v5.3h-1.3zM491.07 133.10h1.3v5.3h-1.3zM493.16 133.10h1.3v5.3h-1.3zM495.25 133.10h1.3v5.3h-1.3zM497.35 133.10h1.3v5.3h-1.3zM499.45 133.10h1.3v5.3h-1.3zM501.54 133.10h1.3v5.3h-1.3zM503.63 133.10h1.3v5.3h-1.3zM505.73 133.10h1.3v5.3h-1.3zM507.83 133.10h1.3v5.3h-1.3zM509.92 133.10h1.3v5.3h-1.3zM512.01 133.10h1.3v5.3h-1.3zM329.75 140.75h1.3v5.3h-1.3zM331.85 140.75h1.3v5.3h-1.3zM333.94 140.75h1.3v5.3h-1.3zM336.04 140.75h1.3v5.3h-1.3zM338.13 140.75h1.3v5.3h-1.3zM340.23 140.75h1.3v5.3h-1.3zM342.32 140.75h1.3v5.3h-1.3zM344.42 140.75h1.3v5.3h-1.3zM346.51 140.75h1.3v5.3h-1.3zM348.61 140.75h1.3v5.3h-1.3zM350.70 140.75h1.3v5.3h-1.3zM352.80 140.75h1.3v5.3h-1.3zM354.89 140.75h1.3v5.3h-1.3zM356.99 140.75h1.3v5.3h-1.3zM359.08 140.75h1.3v5.3h-1.3zM361.18 140.75h1.3v5.3h-1.3zM363.27 140.75h1.3v5.3h-1.3zM365.37 140.75h1.3v5.3h-1.3zM367.46 140.75h1.3v5.3h-1.3zM369.56 140.75h1.3v5.3h-1.3zM371.65 140.75h1.3v5.3h-1.3zM373.75 140.75h1.3v5.3h-1.3zM375.84 140.75h1.3v5.3h-1.3zM377.94 140.75h1.3v5.3h-1.3zM380.03 140.75h1.3v5.3h-1.3zM382.12 140.75h1.3v5.3h-1.3zM384.22 140.75h1.3v5.3h-1.3zM386.31 140.75h1.3v5.3h-1.3zM388.41 140.75h1.3v5.3h-1.3zM390.50 140.75h1.3v5.3h-1.3zM392.60 140.75h1.3v5.3h-1.3zM394.69 140.75h1.3v5.3h-1.3zM396.79 140.75h1.3v5.3h-1.3zM398.88 140.75h1.3v5.3h-1.3zM400.98 140.75h1.3v5.3h-1.3zM403.07 140.75h1.3v5.3h-1.3zM405.17 140.75h1.3v5.3h-1.3zM407.26 140.75h1.3v5.3h-1.3zM409.36 140.75h1.3v5.3h-1.3zM411.46 140.75h1.3v5.3h-1.3zM413.55 140.75h1.3v5.3h-1.3zM415.64 140.75h1.3v5.3h-1.3zM417.74 140.75h1.3v5.3h-1.3zM419.84 140.75h1.3v5.3h-1.3zM421.93 140.75h1.3v5.3h-1.3zM424.02 140.75h1.3v5.3h-1.3zM426.12 140.75h1.3v5.3h-1.3zM428.22 140.75h1.3v5.3h-1.3zM430.31 140.75h1.3v5.3h-1.3zM432.41 140.75h1.3v5.3h-1.3zM434.50 140.75h1.3v5.3h-1.3zM436.60 140.75h1.3v5.3h-1.3zM438.69 140.75h1.3v5.3h-1.3zM440.79 140.75h1.3v5.3h-1.3zM442.88 140.75h1.3v5.3h-1.3zM444.98 140.75h1.3v5.3h-1.3zM447.07 140.75h1.3v5.3h-1.3zM449.17 140.75h1.3v5.3h-1.3zM451.26 140.75h1.3v5.3h-1.3zM453.36 140.75h1.3v5.3h-1.3zM455.45 140.75h1.3v5.3h-1.3zM457.55 140.75h1.3v5.3h-1.3zM459.64 140.75h1.3v5.3h-1.3zM461.74 140.75h1.3v5.3h-1.3zM463.83 140.75h1.3v5.3h-1.3zM465.93 140.75h1.3v5.3h-1.3zM468.02 140.75h1.3v5.3h-1.3zM470.12 140.75h1.3v5.3h-1.3zM472.21 140.75h1.3v5.3h-1.3zM474.31 140.75h1.3v5.3h-1.3zM476.40 140.75h1.3v5.3h-1.3zM478.50 140.75h1.3v5.3h-1.3zM480.59 140.75h1.3v5.3h-1.3zM482.69 140.75h1.3v5.3h-1.3zM484.78 140.75h1.3v5.3h-1.3zM486.88 140.75h1.3v5.3h-1.3zM488.97 140.75h1.3v5.3h-1.3zM491.07 140.75h1.3v5.3h-1.3zM493.16 140.75h1.3v5.3h-1.3zM495.25 140.75h1.3v5.3h-1.3zM497.35 140.75h1.3v5.3h-1.3zM499.45 140.75h1.3v5.3h-1.3zM501.54 140.75h1.3v5.3h-1.3zM503.63 140.75h1.3v5.3h-1.3zM505.73 140.75h1.3v5.3h-1.3zM507.83 140.75h1.3v5.3h-1.3zM509.92 140.75h1.3v5.3h-1.3zM512.01 140.75h1.3v5.3h-1.3zM329.75 148.40h1.3v5.3h-1.3zM331.85 148.40h1.3v5.3h-1.3zM333.94 148.40h1.3v5.3h-1.3zM336.04 148.40h1.3v5.3h-1.3zM338.13 148.40h1.3v5.3h-1.3zM340.23 148.40h1.3v5.3h-1.3zM342.32 148.40h1.3v5.3h-1.3zM344.42 148.40h1.3v5.3h-1.3zM346.51 148.40h1.3v5.3h-1.3zM348.61 148.40h1.3v5.3h-1.3zM350.70 148.40h1.3v5.3h-1.3zM352.80 148.40h1.3v5.3h-1.3zM354.89 148.40h1.3v5.3h-1.3zM356.99 148.40h1.3v5.3h-1.3zM359.08 148.40h1.3v5.3h-1.3zM361.18 148.40h1.3v5.3h-1.3zM363.27 148.40h1.3v5.3h-1.3zM365.37 148.40h1.3v5.3h-1.3zM367.46 148.40h1.3v5.3h-1.3zM369.56 148.40h1.3v5.3h-1.3zM371.65 148.40h1.3v5.3h-1.3zM373.75 148.40h1.3v5.3h-1.3zM375.84 148.40h1.3v5.3h-1.3zM377.94 148.40h1.3v5.3h-1.3zM380.03 148.40h1.3v5.3h-1.3zM382.12 148.40h1.3v5.3h-1.3zM384.22 148.40h1.3v5.3h-1.3zM386.31 148.40h1.3v5.3h-1.3zM388.41 148.40h1.3v5.3h-1.3zM390.50 148.40h1.3v5.3h-1.3zM392.60 148.40h1.3v5.3h-1.3zM394.69 148.40h1.3v5.3h-1.3zM396.79 148.40h1.3v5.3h-1.3zM398.88 148.40h1.3v5.3h-1.3zM400.98 148.40h1.3v5.3h-1.3zM403.07 148.40h1.3v5.3h-1.3zM405.17 148.40h1.3v5.3h-1.3zM407.26 148.40h1.3v5.3h-1.3zM409.36 148.40h1.3v5.3h-1.3zM411.46 148.40h1.3v5.3h-1.3zM413.55 148.40h1.3v5.3h-1.3zM415.64 148.40h1.3v5.3h-1.3zM417.74 148.40h1.3v5.3h-1.3zM419.84 148.40h1.3v5.3h-1.3zM421.93 148.40h1.3v5.3h-1.3zM424.02 148.40h1.3v5.3h-1.3zM426.12 148.40h1.3v5.3h-1.3zM428.22 148.40h1.3v5.3h-1.3zM430.31 148.40h1.3v5.3h-1.3zM432.41 148.40h1.3v5.3h-1.3zM434.50 148.40h1.3v5.3h-1.3zM436.60 148.40h1.3v5.3h-1.3zM438.69 148.40h1.3v5.3h-1.3zM440.79 148.40h1.3v5.3h-1.3zM442.88 148.40h1.3v5.3h-1.3zM444.98 148.40h1.3v5.3h-1.3zM447.07 148.40h1.3v5.3h-1.3zM449.17 148.40h1.3v5.3h-1.3zM451.26 148.40h1.3v5.3h-1.3zM453.36 148.40h1.3v5.3h-1.3zM455.45 148.40h1.3v5.3h-1.3zM457.55 148.40h1.3v5.3h-1.3zM459.64 148.40h1.3v5.3h-1.3zM461.74 148.40h1.3v5.3h-1.3zM463.83 148.40h1.3v5.3h-1.3zM465.93 148.40h1.3v5.3h-1.3zM468.02 148.40h1.3v5.3h-1.3zM470.12 148.40h1.3v5.3h-1.3zM472.21 148.40h1.3v5.3h-1.3zM474.31 148.40h1.3v5.3h-1.3zM476.40 148.40h1.3v5.3h-1.3zM478.50 148.40h1.3v5.3h-1.3zM480.59 148.40h1.3v5.3h-1.3zM482.69 148.40h1.3v5.3h-1.3zM484.78 148.40h1.3v5.3h-1.3zM486.88 148.40h1.3v5.3h-1.3zM488.97 148.40h1.3v5.3h-1.3zM491.07 148.40h1.3v5.3h-1.3zM493.16 148.40h1.3v5.3h-1.3zM495.25 148.40h1.3v5.3h-1.3zM497.35 148.40h1.3v5.3h-1.3zM499.45 148.40h1.3v5.3h-1.3zM501.54 148.40h1.3v5.3h-1.3zM503.63 148.40h1.3v5.3h-1.3zM505.73 148.40h1.3v5.3h-1.3zM507.83 148.40h1.3v5.3h-1.3zM509.92 148.40h1.3v5.3h-1.3zM512.01 148.40h1.3v5.3h-1.3zM329.75 156.05h1.3v5.3h-1.3zM331.85 156.05h1.3v5.3h-1.3zM333.94 156.05h1.3v5.3h-1.3zM336.04 156.05h1.3v5.3h-1.3zM338.13 156.05h1.3v5.3h-1.3zM340.23 156.05h1.3v5.3h-1.3zM342.32 156.05h1.3v5.3h-1.3zM344.42 156.05h1.3v5.3h-1.3zM346.51 156.05h1.3v5.3h-1.3zM348.61 156.05h1.3v5.3h-1.3zM350.70 156.05h1.3v5.3h-1.3zM352.80 156.05h1.3v5.3h-1.3zM354.89 156.05h1.3v5.3h-1.3zM356.99 156.05h1.3v5.3h-1.3zM359.08 156.05h1.3v5.3h-1.3zM361.18 156.05h1.3v5.3h-1.3zM363.27 156.05h1.3v5.3h-1.3zM365.37 156.05h1.3v5.3h-1.3zM367.46 156.05h1.3v5.3h-1.3zM369.56 156.05h1.3v5.3h-1.3zM371.65 156.05h1.3v5.3h-1.3zM373.75 156.05h1.3v5.3h-1.3zM375.84 156.05h1.3v5.3h-1.3zM377.94 156.05h1.3v5.3h-1.3zM380.03 156.05h1.3v5.3h-1.3zM382.12 156.05h1.3v5.3h-1.3zM384.22 156.05h1.3v5.3h-1.3zM386.31 156.05h1.3v5.3h-1.3zM388.41 156.05h1.3v5.3h-1.3zM390.50 156.05h1.3v5.3h-1.3zM392.60 156.05h1.3v5.3h-1.3zM394.69 156.05h1.3v5.3h-1.3zM396.79 156.05h1.3v5.3h-1.3zM398.88 156.05h1.3v5.3h-1.3zM400.98 156.05h1.3v5.3h-1.3zM403.07 156.05h1.3v5.3h-1.3zM405.17 156.05h1.3v5.3h-1.3zM407.26 156.05h1.3v5.3h-1.3zM409.36 156.05h1.3v5.3h-1.3zM411.46 156.05h1.3v5.3h-1.3zM413.55 156.05h1.3v5.3h-1.3zM415.64 156.05h1.3v5.3h-1.3zM417.74 156.05h1.3v5.3h-1.3zM419.84 156.05h1.3v5.3h-1.3zM421.93 156.05h1.3v5.3h-1.3zM424.02 156.05h1.3v5.3h-1.3zM426.12 156.05h1.3v5.3h-1.3zM428.22 156.05h1.3v5.3h-1.3zM430.31 156.05h1.3v5.3h-1.3zM432.41 156.05h1.3v5.3h-1.3zM434.50 156.05h1.3v5.3h-1.3zM436.60 156.05h1.3v5.3h-1.3zM438.69 156.05h1.3v5.3h-1.3zM440.79 156.05h1.3v5.3h-1.3zM442.88 156.05h1.3v5.3h-1.3zM444.98 156.05h1.3v5.3h-1.3zM447.07 156.05h1.3v5.3h-1.3zM449.17 156.05h1.3v5.3h-1.3zM451.26 156.05h1.3v5.3h-1.3zM453.36 156.05h1.3v5.3h-1.3zM455.45 156.05h1.3v5.3h-1.3zM457.55 156.05h1.3v5.3h-1.3zM459.64 156.05h1.3v5.3h-1.3zM461.74 156.05h1.3v5.3h-1.3zM463.83 156.05h1.3v5.3h-1.3zM465.93 156.05h1.3v5.3h-1.3zM468.02 156.05h1.3v5.3h-1.3zM470.12 156.05h1.3v5.3h-1.3zM472.21 156.05h1.3v5.3h-1.3zM474.31 156.05h1.3v5.3h-1.3zM476.40 156.05h1.3v5.3h-1.3zM478.50 156.05h1.3v5.3h-1.3zM480.59 156.05h1.3v5.3h-1.3zM482.69 156.05h1.3v5.3h-1.3zM484.78 156.05h1.3v5.3h-1.3zM486.88 156.05h1.3v5.3h-1.3zM488.97 156.05h1.3v5.3h-1.3zM491.07 156.05h1.3v5.3h-1.3zM493.16 156.05h1.3v5.3h-1.3zM495.25 156.05h1.3v5.3h-1.3zM497.35 156.05h1.3v5.3h-1.3zM499.45 156.05h1.3v5.3h-1.3zM501.54 156.05h1.3v5.3h-1.3zM503.63 156.05h1.3v5.3h-1.3zM505.73 156.05h1.3v5.3h-1.3zM507.83 156.05h1.3v5.3h-1.3zM509.92 156.05h1.3v5.3h-1.3zM512.01 156.05h1.3v5.3h-1.3z"/>
<path fill="#3d9a2f" d="M329.75 35.20h1.3v2.2h-1.3zM331.85 42.85h1.3v2.2h-1.3zM333.94 50.50h1.3v2.2h-1.3zM333.94 58.15h1.3v2.2h-1.3zM336.04 58.15h1.3v2.2h-1.3zM329.75 65.80h1.3v2.2h-1.3zM338.13 65.80h1.3v2.2h-1.3zM340.23 73.45h1.3v2.2h-1.3zM342.32 73.45h1.3v2.2h-1.3zM344.42 73.45h1.3v2.2h-1.3zM346.51 73.45h1.3v2.2h-1.3zM348.61 73.45h1.3v2.2h-1.3zM350.70 73.45h1.3v2.2h-1.3zM352.80 73.45h1.3v2.2h-1.3zM354.89 73.45h1.3v2.2h-1.3zM356.99 73.45h1.3v2.2h-1.3zM359.08 81.10h1.3v2.2h-1.3zM361.18 81.10h1.3v2.2h-1.3zM363.27 81.10h1.3v2.2h-1.3zM365.37 88.75h1.3v2.2h-1.3zM367.46 88.75h1.3v2.2h-1.3zM369.56 96.40h1.3v2.2h-1.3zM365.37 104.05h1.3v2.2h-1.3zM359.08 111.70h1.3v2.2h-1.3zM340.23 119.35h1.3v2.2h-1.3zM342.32 119.35h1.3v2.2h-1.3zM344.42 119.35h1.3v2.2h-1.3zM371.65 119.35h1.3v2.2h-1.3zM373.75 119.35h1.3v2.2h-1.3zM375.84 127.00h1.3v2.2h-1.3zM329.75 134.65h1.3v2.2h-1.3zM338.13 134.65h1.3v2.2h-1.3zM346.51 134.65h1.3v2.2h-1.3zM377.94 134.65h1.3v2.2h-1.3zM380.03 134.65h1.3v2.2h-1.3zM382.12 134.65h1.3v2.2h-1.3zM384.22 134.65h1.3v2.2h-1.3zM386.31 134.65h1.3v2.2h-1.3zM388.41 134.65h1.3v2.2h-1.3zM333.94 142.30h1.3v2.2h-1.3zM359.08 149.95h1.3v2.2h-1.3zM392.60 149.95h1.3v2.2h-1.3zM394.69 149.95h1.3v2.2h-1.3zM359.08 157.60h1.3v2.2h-1.3z"/>
<path fill="#e0402a" d="M390.40 148.40h1.5v5.3h-1.5z"/>
<text x="280.3" y="170.0" font-size="5.1" font-weight="bold" textLength="46.4" lengthAdjust="spacingAndGlyphs" fill="#111" stroke="#111" stroke-width="0.16">Genetic Alteration</text>
<text x="280.8" y="181.3" font-size="5.1" font-weight="bold" textLength="23.4" lengthAdjust="spacingAndGlyphs" fill="#111" stroke="#111" stroke-width="0.16">Response</text>
<rect x="347.30" y="167.60" width="1.10" height="2.00" fill="#3d9a2f"/>
<text x="350.0" y="170.2" font-size="4.6" textLength="48.5" lengthAdjust="spacingAndGlyphs" fill="#222" stroke="#222" stroke-width="0.05">Mutation (putative driver)</text>
<rect x="406.90" y="166.60" width="1.30" height="4.00" fill="#e0402a"/>
<text x="409.8" y="170.2" font-size="4.6" textLength="24.8" lengthAdjust="spacingAndGlyphs" fill="#222" stroke="#222" stroke-width="0.05">Amplification</text>
<rect x="443.50" y="166.60" width="1.00" height="4.00" fill="#c0c0c0"/>
<text x="445.8" y="170.2" font-size="4.6" textLength="27.2" lengthAdjust="spacingAndGlyphs" fill="#222" stroke="#222" stroke-width="0.05">No alterations</text>
<rect x="347.20" y="177.80" width="1.30" height="4.00" fill="#4562cc"/>
<text x="350.0" y="181.4" font-size="4.6" textLength="37.6" lengthAdjust="spacingAndGlyphs" fill="#222" stroke="#222" stroke-width="0.05">Complete_response</text>
<rect x="397.00" y="177.80" width="1.30" height="4.00" fill="#c4341a"/>
<text x="399.7" y="181.4" font-size="4.6" textLength="4.4" lengthAdjust="spacingAndGlyphs" fill="#222" stroke="#222" stroke-width="0.05">NE</text>
<rect x="414.10" y="177.80" width="1.30" height="4.00" fill="#e8981c"/>
<text x="417.0" y="181.4" font-size="4.6" textLength="24.9" lengthAdjust="spacingAndGlyphs" fill="#222" stroke="#222" stroke-width="0.05">No_response</text>
<rect x="450.80" y="177.80" width="1.30" height="4.00" fill="#43a03c"/>
<text x="453.6" y="181.4" font-size="4.6" textLength="31.2" lengthAdjust="spacingAndGlyphs" fill="#222" stroke="#222" stroke-width="0.05">Partial_response</text>
<text x="195.8" y="241.6" font-size="10.8" font-weight="bold" fill="#111" stroke="#111" stroke-width="0.16">C</text>
<line x1="217.30" y1="249.60" x2="217.30" y2="332.80" stroke="#0e0e0e" stroke-width="1.05"/>
<line x1="216.90" y1="332.30" x2="271.80" y2="332.30" stroke="#0e0e0e" stroke-width="1.05"/>
<line x1="214.70" y1="250.60" x2="217.30" y2="250.60" stroke="#0e0e0e" stroke-width="0.75"/>
<text x="211.8" y="252.9" font-size="6.4" text-anchor="end" fill="#222" stroke="#222" stroke-width="0.12">6</text>
<line x1="214.70" y1="278.00" x2="217.30" y2="278.00" stroke="#0e0e0e" stroke-width="0.75"/>
<text x="211.8" y="280.3" font-size="6.4" text-anchor="end" fill="#222" stroke="#222" stroke-width="0.12">4</text>
<line x1="214.70" y1="305.30" x2="217.30" y2="305.30" stroke="#0e0e0e" stroke-width="0.75"/>
<text x="211.8" y="307.6" font-size="6.4" text-anchor="end" fill="#222" stroke="#222" stroke-width="0.12">2</text>
<line x1="214.70" y1="332.30" x2="217.30" y2="332.30" stroke="#0e0e0e" stroke-width="0.75"/>
<text x="211.8" y="334.6" font-size="6.4" text-anchor="end" fill="#222" stroke="#222" stroke-width="0.12">0</text>
<line x1="233.00" y1="332.30" x2="233.00" y2="335.00" stroke="#0e0e0e" stroke-width="0.75"/>
<line x1="256.40" y1="332.30" x2="256.40" y2="335.00" stroke="#0e0e0e" stroke-width="0.75"/>
<text x="233.3" y="343.5" font-size="6.0" text-anchor="middle" textLength="8.6" lengthAdjust="spacingAndGlyphs" fill="#222" stroke="#222" stroke-width="0.12">PIF</text>
<text x="233.2" y="351.2" font-size="6.0" text-anchor="middle" textLength="6.9" lengthAdjust="spacingAndGlyphs" fill="#222" stroke="#222" stroke-width="0.12">ER</text>
<text x="256.4" y="343.5" font-size="6.0" text-anchor="middle" textLength="6.6" lengthAdjust="spacingAndGlyphs" fill="#222" stroke="#222" stroke-width="0.12">LR</text>
<text x="202.3" y="289.9" font-size="8.3" text-anchor="middle" textLength="76.8" lengthAdjust="spacingAndGlyphs" fill="#222" stroke="#222" stroke-width="0.18" transform="rotate(-90 202.3 289.9)">Inflammatory chemokines</text>
<path d="M232.4 262.4V258.5H256.5V290.6" fill="none" stroke="#0e0e0e" stroke-width="0.75"/>
<text x="244.65" y="254.5" font-size="6.1" text-anchor="middle" fill="#222" stroke="#222" stroke-width="0.12" textLength="27.1" lengthAdjust="spacingAndGlyphs"><tspan font-style="italic">P</tspan> = 0.034</text>
<circle cx="230.00" cy="268.20" r="1.5" fill="#64b634" stroke="#183808" stroke-width="0.62"/>
<circle cx="233.10" cy="267.30" r="1.5" fill="#64b634" stroke="#183808" stroke-width="0.62"/>
<circle cx="236.40" cy="268.20" r="1.5" fill="#64b634" stroke="#183808" stroke-width="0.62"/>
<circle cx="231.60" cy="274.60" r="1.5" fill="#64b634" stroke="#183808" stroke-width="0.62"/>
<circle cx="234.70" cy="276.80" r="1.5" fill="#64b634" stroke="#183808" stroke-width="0.62"/>
<circle cx="226.90" cy="281.10" r="1.5" fill="#64b634" stroke="#183808" stroke-width="0.62"/>
<circle cx="230.00" cy="282.80" r="1.5" fill="#64b634" stroke="#183808" stroke-width="0.62"/>
<circle cx="233.10" cy="281.60" r="1.5" fill="#64b634" stroke="#183808" stroke-width="0.62"/>
<circle cx="236.10" cy="282.10" r="1.5" fill="#64b634" stroke="#183808" stroke-width="0.62"/>
<circle cx="239.30" cy="281.10" r="1.5" fill="#64b634" stroke="#183808" stroke-width="0.62"/>
<circle cx="233.10" cy="286.10" r="1.5" fill="#64b634" stroke="#183808" stroke-width="0.62"/>
<circle cx="226.90" cy="290.50" r="1.5" fill="#64b634" stroke="#183808" stroke-width="0.62"/>
<circle cx="233.10" cy="290.50" r="1.5" fill="#64b634" stroke="#183808" stroke-width="0.62"/>
<circle cx="233.10" cy="293.60" r="1.5" fill="#64b634" stroke="#183808" stroke-width="0.62"/>
<circle cx="236.10" cy="293.20" r="1.5" fill="#64b634" stroke="#183808" stroke-width="0.62"/>
<circle cx="226.90" cy="295.00" r="1.5" fill="#64b634" stroke="#183808" stroke-width="0.62"/>
<circle cx="239.30" cy="294.90" r="1.5" fill="#64b634" stroke="#183808" stroke-width="0.62"/>
<circle cx="230.00" cy="297.70" r="1.5" fill="#64b634" stroke="#183808" stroke-width="0.62"/>
<circle cx="233.10" cy="297.50" r="1.5" fill="#64b634" stroke="#183808" stroke-width="0.62"/>
<circle cx="236.10" cy="297.70" r="1.5" fill="#64b634" stroke="#183808" stroke-width="0.62"/>
<circle cx="230.00" cy="305.40" r="1.5" fill="#64b634" stroke="#183808" stroke-width="0.62"/>
<circle cx="233.10" cy="306.20" r="1.5" fill="#64b634" stroke="#183808" stroke-width="0.62"/>
<circle cx="236.10" cy="304.60" r="1.5" fill="#64b634" stroke="#183808" stroke-width="0.62"/>
<circle cx="230.00" cy="309.20" r="1.5" fill="#64b634" stroke="#183808" stroke-width="0.62"/>
<circle cx="236.10" cy="308.40" r="1.5" fill="#64b634" stroke="#183808" stroke-width="0.62"/>
<circle cx="250.20" cy="295.20" r="1.5" fill="#24489c" stroke="#050b1c" stroke-width="0.62"/>
<circle cx="262.50" cy="295.40" r="1.5" fill="#24489c" stroke="#050b1c" stroke-width="0.62"/>
<circle cx="256.30" cy="297.50" r="1.5" fill="#24489c" stroke="#050b1c" stroke-width="0.62"/>
<circle cx="250.20" cy="299.90" r="1.5" fill="#24489c" stroke="#050b1c" stroke-width="0.62"/>
<circle cx="262.50" cy="300.10" r="1.5" fill="#24489c" stroke="#050b1c" stroke-width="0.62"/>
<circle cx="256.30" cy="301.50" r="1.5" fill="#24489c" stroke="#050b1c" stroke-width="0.62"/>
<circle cx="256.30" cy="304.50" r="1.5" fill="#24489c" stroke="#050b1c" stroke-width="0.62"/>
<line x1="225.20" y1="290.50" x2="240.70" y2="290.50" stroke="#111" stroke-width="0.9"/>
<line x1="248.80" y1="299.90" x2="264.20" y2="299.90" stroke="#111" stroke-width="0.9"/>
<line x1="302.30" y1="249.80" x2="302.30" y2="332.80" stroke="#0e0e0e" stroke-width="1.05"/>
<line x1="301.90" y1="332.30" x2="355.90" y2="332.30" stroke="#0e0e0e" stroke-width="1.05"/>
<line x1="299.70" y1="250.90" x2="302.30" y2="250.90" stroke="#0e0e0e" stroke-width="0.75"/>
<text x="296.8" y="253.20000000000002" font-size="6.4" text-anchor="end" fill="#222" stroke="#222" stroke-width="0.12">8</text>
<line x1="299.70" y1="271.20" x2="302.30" y2="271.20" stroke="#0e0e0e" stroke-width="0.75"/>
<text x="296.8" y="273.5" font-size="6.4" text-anchor="end" fill="#222" stroke="#222" stroke-width="0.12">7</text>
<line x1="299.70" y1="291.50" x2="302.30" y2="291.50" stroke="#0e0e0e" stroke-width="0.75"/>
<text x="296.8" y="293.8" font-size="6.4" text-anchor="end" fill="#222" stroke="#222" stroke-width="0.12">6</text>
<line x1="299.70" y1="311.90" x2="302.30" y2="311.90" stroke="#0e0e0e" stroke-width="0.75"/>
<text x="296.8" y="314.2" font-size="6.4" text-anchor="end" fill="#222" stroke="#222" stroke-width="0.12">5</text>
<line x1="299.70" y1="332.30" x2="302.30" y2="332.30" stroke="#0e0e0e" stroke-width="0.75"/>
<text x="296.8" y="334.6" font-size="6.4" text-anchor="end" fill="#222" stroke="#222" stroke-width="0.12">4</text>
<line x1="318.40" y1="332.30" x2="318.40" y2="335.00" stroke="#0e0e0e" stroke-width="0.75"/>
<line x1="341.40" y1="332.30" x2="341.40" y2="335.00" stroke="#0e0e0e" stroke-width="0.75"/>
<text x="318.6" y="343.5" font-size="6.0" text-anchor="middle" textLength="8.6" lengthAdjust="spacingAndGlyphs" fill="#222" stroke="#222" stroke-width="0.12">PIF</text>
<text x="318.5" y="351.2" font-size="6.0" text-anchor="middle" textLength="6.9" lengthAdjust="spacingAndGlyphs" fill="#222" stroke="#222" stroke-width="0.12">ER</text>
<text x="341.4" y="343.5" font-size="6.0" text-anchor="middle" textLength="6.6" lengthAdjust="spacingAndGlyphs" fill="#222" stroke="#222" stroke-width="0.12">LR</text>
<text x="288.1" y="290.3" font-size="7.8" text-anchor="middle" textLength="25.2" lengthAdjust="spacingAndGlyphs" fill="#222" stroke="#222" stroke-width="0.18" transform="rotate(-90 288.1 290.3)">TIS score</text>
<path d="M317.6 262.2V258.7H341.4V290.2" fill="none" stroke="#0e0e0e" stroke-width="0.75"/>
<text x="329.5" y="254.6" font-size="6.1" text-anchor="middle" fill="#222" stroke="#222" stroke-width="0.12" textLength="26.4" lengthAdjust="spacingAndGlyphs"><tspan font-style="italic">P</tspan> = 0.011</text>
<circle cx="318.20" cy="266.00" r="1.5" fill="#64b634" stroke="#183808" stroke-width="0.62"/>
<circle cx="318.20" cy="271.80" r="1.5" fill="#64b634" stroke="#183808" stroke-width="0.62"/>
<circle cx="318.20" cy="279.40" r="1.5" fill="#64b634" stroke="#183808" stroke-width="0.62"/>
<circle cx="322.30" cy="282.50" r="1.5" fill="#64b634" stroke="#183808" stroke-width="0.62"/>
<circle cx="324.70" cy="283.50" r="1.5" fill="#64b634" stroke="#183808" stroke-width="0.62"/>
<circle cx="312.10" cy="284.90" r="1.5" fill="#64b634" stroke="#183808" stroke-width="0.62"/>
<circle cx="316.30" cy="285.60" r="1.5" fill="#64b634" stroke="#183808" stroke-width="0.62"/>
<circle cx="320.70" cy="285.40" r="1.5" fill="#64b634" stroke="#183808" stroke-width="0.62"/>
<circle cx="314.30" cy="287.60" r="1.5" fill="#64b634" stroke="#183808" stroke-width="0.62"/>
<circle cx="318.20" cy="286.80" r="1.5" fill="#64b634" stroke="#183808" stroke-width="0.62"/>
<circle cx="324.50" cy="287.60" r="1.5" fill="#64b634" stroke="#183808" stroke-width="0.62"/>
<circle cx="316.00" cy="289.20" r="1.5" fill="#64b634" stroke="#183808" stroke-width="0.62"/>
<circle cx="320.30" cy="290.30" r="1.5" fill="#64b634" stroke="#183808" stroke-width="0.62"/>
<circle cx="316.30" cy="293.80" r="1.5" fill="#64b634" stroke="#183808" stroke-width="0.62"/>
<circle cx="320.70" cy="295.30" r="1.5" fill="#64b634" stroke="#183808" stroke-width="0.62"/>
<circle cx="313.80" cy="295.80" r="1.5" fill="#64b634" stroke="#183808" stroke-width="0.62"/>
<circle cx="318.20" cy="297.50" r="1.5" fill="#64b634" stroke="#183808" stroke-width="0.62"/>
<circle cx="316.00" cy="298.90" r="1.5" fill="#64b634" stroke="#183808" stroke-width="0.62"/>
<circle cx="320.70" cy="298.90" r="1.5" fill="#64b634" stroke="#183808" stroke-width="0.62"/>
<circle cx="318.20" cy="304.00" r="1.5" fill="#64b634" stroke="#183808" stroke-width="0.62"/>
<circle cx="316.00" cy="308.60" r="1.5" fill="#64b634" stroke="#183808" stroke-width="0.62"/>
<circle cx="320.60" cy="310.50" r="1.5" fill="#64b634" stroke="#183808" stroke-width="0.62"/>
<circle cx="318.30" cy="312.10" r="1.5" fill="#64b634" stroke="#183808" stroke-width="0.62"/>
<circle cx="318.20" cy="321.40" r="1.5" fill="#64b634" stroke="#183808" stroke-width="0.62"/>
<circle cx="339.50" cy="294.20" r="1.5" fill="#24489c" stroke="#050b1c" stroke-width="0.62"/>
<circle cx="343.50" cy="295.10" r="1.5" fill="#24489c" stroke="#050b1c" stroke-width="0.62"/>
<circle cx="341.50" cy="304.60" r="1.5" fill="#24489c" stroke="#050b1c" stroke-width="0.62"/>
<circle cx="339.50" cy="309.90" r="1.5" fill="#24489c" stroke="#050b1c" stroke-width="0.62"/>
<circle cx="343.70" cy="311.50" r="1.5" fill="#24489c" stroke="#050b1c" stroke-width="0.62"/>
<circle cx="347.70" cy="310.10" r="1.5" fill="#24489c" stroke="#050b1c" stroke-width="0.62"/>
<circle cx="335.50" cy="312.80" r="1.5" fill="#24489c" stroke="#050b1c" stroke-width="0.62"/>
<line x1="311.00" y1="288.80" x2="325.90" y2="288.80" stroke="#111" stroke-width="0.9"/>
<line x1="334.20" y1="309.90" x2="349.20" y2="309.90" stroke="#111" stroke-width="0.9"/>
<text x="376.0" y="241.9" font-size="10.8" font-weight="bold" fill="#111" stroke="#111" stroke-width="0.16">D</text>
<line x1="397.20" y1="254.00" x2="397.20" y2="332.70" stroke="#0e0e0e" stroke-width="1.05"/>
<line x1="396.80" y1="332.20" x2="510.60" y2="332.20" stroke="#0e0e0e" stroke-width="1.05"/>
<line x1="394.00" y1="257.50" x2="397.20" y2="257.50" stroke="#0e0e0e" stroke-width="0.75"/>
<text x="391.9" y="259.8" font-size="6.4" text-anchor="end" fill="#222" stroke="#222" stroke-width="0.12">8</text>
<line x1="394.00" y1="276.20" x2="397.20" y2="276.20" stroke="#0e0e0e" stroke-width="0.75"/>
<text x="391.9" y="278.5" font-size="6.4" text-anchor="end" fill="#222" stroke="#222" stroke-width="0.12">6</text>
<line x1="394.00" y1="294.90" x2="397.20" y2="294.90" stroke="#0e0e0e" stroke-width="0.75"/>
<text x="391.9" y="297.2" font-size="6.4" text-anchor="end" fill="#222" stroke="#222" stroke-width="0.12">4</text>
<line x1="394.00" y1="313.60" x2="397.20" y2="313.60" stroke="#0e0e0e" stroke-width="0.75"/>
<text x="391.9" y="315.90000000000003" font-size="6.4" text-anchor="end" fill="#222" stroke="#222" stroke-width="0.12">2</text>
<line x1="394.00" y1="332.20" x2="397.20" y2="332.20" stroke="#0e0e0e" stroke-width="0.75"/>
<text x="391.9" y="334.5" font-size="6.4" text-anchor="end" fill="#222" stroke="#222" stroke-width="0.12">0</text>
<line x1="397.40" y1="332.20" x2="397.40" y2="335.00" stroke="#0e0e0e" stroke-width="0.75"/>
<text x="397.4" y="343.9" font-size="6.7" text-anchor="middle" fill="#222" stroke="#222" stroke-width="0.18">4</text>
<line x1="419.98" y1="332.20" x2="419.98" y2="335.00" stroke="#0e0e0e" stroke-width="0.75"/>
<text x="419.97999999999996" y="343.9" font-size="6.7" text-anchor="middle" fill="#222" stroke="#222" stroke-width="0.18">5</text>
<line x1="442.56" y1="332.20" x2="442.56" y2="335.00" stroke="#0e0e0e" stroke-width="0.75"/>
<text x="442.55999999999995" y="343.9" font-size="6.7" text-anchor="middle" fill="#222" stroke="#222" stroke-width="0.18">6</text>
<line x1="465.14" y1="332.20" x2="465.14" y2="335.00" stroke="#0e0e0e" stroke-width="0.75"/>
<text x="465.14" y="343.9" font-size="6.7" text-anchor="middle" fill="#222" stroke="#222" stroke-width="0.18">7</text>
<line x1="487.72" y1="332.20" x2="487.72" y2="335.00" stroke="#0e0e0e" stroke-width="0.75"/>
<text x="487.71999999999997" y="343.9" font-size="6.7" text-anchor="middle" fill="#222" stroke="#222" stroke-width="0.18">8</text>
<line x1="510.30" y1="332.20" x2="510.30" y2="335.00" stroke="#0e0e0e" stroke-width="0.75"/>
<text x="510.29999999999995" y="343.9" font-size="6.7" text-anchor="middle" fill="#222" stroke="#222" stroke-width="0.18">9</text>
<text x="453.9" y="355.5" font-size="8.9" text-anchor="middle" textLength="8.6" lengthAdjust="spacingAndGlyphs" fill="#222" stroke="#222" stroke-width="0.18">TIS</text>
<text x="383.4" y="294.5" font-size="8.3" text-anchor="middle" textLength="75.3" lengthAdjust="spacingAndGlyphs" fill="#222" stroke="#222" stroke-width="0.18" transform="rotate(-90 383.4 294.5)">Immune signature scores</text>
<text x="401.4" y="264.5" font-size="5.3" fill="#6fa8dc" textLength="72.3" lengthAdjust="spacingAndGlyphs">Antigen processing machinery</text>
<text x="401.4" y="270.6" font-size="5.3" fill="#6fa8dc" textLength="48.6" lengthAdjust="spacingAndGlyphs">(R=0.79; <tspan font-style="italic">P</tspan> &lt; 0.0001)</text>
<text x="449.0" y="323.3" font-size="5.3" fill="#5a2d7a" textLength="59.9" lengthAdjust="spacingAndGlyphs">Inflammatory chemokines</text>
<text x="449.0" y="329.1" font-size="5.3" fill="#5a2d7a" textLength="47.8" lengthAdjust="spacingAndGlyphs">(R=0.78; <tspan font-style="italic">P</tspan> &lt; 0.0001)</text>
<line x1="408.60" y1="316.60" x2="492.80" y2="283.60" stroke="#222" stroke-width="0.75"/>
<circle cx="435.80" cy="296.70" r="1.4" fill="#43136a" stroke="#0c0312" stroke-width="0.6"/>
<circle cx="439.50" cy="295.10" r="1.4" fill="#43136a" stroke="#0c0312" stroke-width="0.6"/>
<circle cx="438.70" cy="299.20" r="1.4" fill="#43136a" stroke="#0c0312" stroke-width="0.6"/>
<circle cx="444.40" cy="293.80" r="1.4" fill="#43136a" stroke="#0c0312" stroke-width="0.6"/>
<circle cx="475.30" cy="280.60" r="1.4" fill="#43136a" stroke="#0c0312" stroke-width="0.6"/>
<circle cx="461.80" cy="286.80" r="1.4" fill="#43136a" stroke="#0c0312" stroke-width="0.6"/>
<circle cx="464.70" cy="287.20" r="1.4" fill="#43136a" stroke="#0c0312" stroke-width="0.6"/>
<circle cx="467.10" cy="288.40" r="1.4" fill="#43136a" stroke="#0c0312" stroke-width="0.6"/>
<circle cx="470.80" cy="288.00" r="1.4" fill="#43136a" stroke="#0c0312" stroke-width="0.6"/>
<circle cx="451.50" cy="287.20" r="1.4" fill="#43136a" stroke="#0c0312" stroke-width="0.6"/>
<circle cx="449.90" cy="288.80" r="1.4" fill="#43136a" stroke="#0c0312" stroke-width="0.6"/>
<circle cx="447.00" cy="292.10" r="1.4" fill="#43136a" stroke="#0c0312" stroke-width="0.6"/>
<circle cx="444.90" cy="293.80" r="1.4" fill="#43136a" stroke="#0c0312" stroke-width="0.6"/>
<circle cx="468.30" cy="291.70" r="1.4" fill="#43136a" stroke="#0c0312" stroke-width="0.6"/>
<circle cx="474.50" cy="291.30" r="1.4" fill="#43136a" stroke="#0c0312" stroke-width="0.6"/>
<circle cx="472.90" cy="293.30" r="1.4" fill="#43136a" stroke="#0c0312" stroke-width="0.6"/>
<circle cx="479.40" cy="288.80" r="1.4" fill="#43136a" stroke="#0c0312" stroke-width="0.6"/>
<circle cx="465.50" cy="294.20" r="1.4" fill="#43136a" stroke="#0c0312" stroke-width="0.6"/>
<circle cx="475.80" cy="281.40" r="1.4" fill="#43136a" stroke="#0c0312" stroke-width="0.6"/>
<circle cx="481.60" cy="285.10" r="1.4" fill="#43136a" stroke="#0c0312" stroke-width="0.6"/>
<circle cx="481.60" cy="288.00" r="1.4" fill="#43136a" stroke="#0c0312" stroke-width="0.6"/>
<circle cx="490.60" cy="287.10" r="1.4" fill="#43136a" stroke="#0c0312" stroke-width="0.6"/>
<circle cx="492.70" cy="285.90" r="1.4" fill="#43136a" stroke="#0c0312" stroke-width="0.6"/>
<circle cx="409.50" cy="316.30" r="1.4" fill="#43136a" stroke="#0c0312" stroke-width="0.6"/>
<circle cx="420.20" cy="308.10" r="1.4" fill="#43136a" stroke="#0c0312" stroke-width="0.6"/>
<circle cx="419.00" cy="310.50" r="1.4" fill="#43136a" stroke="#0c0312" stroke-width="0.6"/>
<circle cx="422.30" cy="310.10" r="1.4" fill="#43136a" stroke="#0c0312" stroke-width="0.6"/>
<circle cx="421.40" cy="312.20" r="1.4" fill="#43136a" stroke="#0c0312" stroke-width="0.6"/>
<circle cx="424.30" cy="311.80" r="1.4" fill="#43136a" stroke="#0c0312" stroke-width="0.6"/>
<circle cx="420.20" cy="313.80" r="1.4" fill="#43136a" stroke="#0c0312" stroke-width="0.6"/>
<circle cx="422.70" cy="313.80" r="1.4" fill="#43136a" stroke="#0c0312" stroke-width="0.6"/>
<circle cx="425.50" cy="313.80" r="1.4" fill="#43136a" stroke="#0c0312" stroke-width="0.6"/>
<circle cx="419.80" cy="315.90" r="1.4" fill="#43136a" stroke="#0c0312" stroke-width="0.6"/>
<circle cx="425.10" cy="315.90" r="1.4" fill="#43136a" stroke="#0c0312" stroke-width="0.6"/>
<circle cx="422.70" cy="317.90" r="1.4" fill="#43136a" stroke="#0c0312" stroke-width="0.6"/>
<circle cx="427.20" cy="308.90" r="1.4" fill="#43136a" stroke="#0c0312" stroke-width="0.6"/>
<circle cx="428.80" cy="306.40" r="1.4" fill="#43136a" stroke="#0c0312" stroke-width="0.6"/>
<circle cx="432.10" cy="303.10" r="1.4" fill="#43136a" stroke="#0c0312" stroke-width="0.6"/>
<circle cx="435.80" cy="296.60" r="1.4" fill="#43136a" stroke="#0c0312" stroke-width="0.6"/>
<circle cx="439.50" cy="300.70" r="1.4" fill="#43136a" stroke="#0c0312" stroke-width="0.6"/>
<circle cx="437.50" cy="303.60" r="1.4" fill="#43136a" stroke="#0c0312" stroke-width="0.6"/>
<circle cx="437.90" cy="306.40" r="1.4" fill="#43136a" stroke="#0c0312" stroke-width="0.6"/>
<circle cx="434.60" cy="308.50" r="1.4" fill="#43136a" stroke="#0c0312" stroke-width="0.6"/>
<circle cx="437.50" cy="309.30" r="1.4" fill="#43136a" stroke="#0c0312" stroke-width="0.6"/>
<circle cx="440.30" cy="308.50" r="1.4" fill="#43136a" stroke="#0c0312" stroke-width="0.6"/>
<circle cx="433.40" cy="311.40" r="1.4" fill="#43136a" stroke="#0c0312" stroke-width="0.6"/>
<circle cx="436.20" cy="311.80" r="1.4" fill="#43136a" stroke="#0c0312" stroke-width="0.6"/>
<circle cx="439.10" cy="311.00" r="1.4" fill="#43136a" stroke="#0c0312" stroke-width="0.6"/>
<circle cx="434.20" cy="314.20" r="1.4" fill="#43136a" stroke="#0c0312" stroke-width="0.6"/>
<circle cx="437.50" cy="314.70" r="1.4" fill="#43136a" stroke="#0c0312" stroke-width="0.6"/>
<circle cx="442.00" cy="317.90" r="1.4" fill="#43136a" stroke="#0c0312" stroke-width="0.6"/>
<circle cx="444.00" cy="293.70" r="1.4" fill="#43136a" stroke="#0c0312" stroke-width="0.6"/>
<circle cx="443.60" cy="305.60" r="1.4" fill="#43136a" stroke="#0c0312" stroke-width="0.6"/>
<circle cx="444.00" cy="308.10" r="1.4" fill="#43136a" stroke="#0c0312" stroke-width="0.6"/>
<circle cx="451.90" cy="288.70" r="1.4" fill="#43136a" stroke="#0c0312" stroke-width="0.6"/>
<circle cx="466.70" cy="288.30" r="1.4" fill="#43136a" stroke="#0c0312" stroke-width="0.6"/>
<circle cx="470.40" cy="287.90" r="1.4" fill="#43136a" stroke="#0c0312" stroke-width="0.6"/>
<circle cx="444.90" cy="293.60" r="1.4" fill="#43136a" stroke="#0c0312" stroke-width="0.6"/>
<circle cx="447.00" cy="292.80" r="1.4" fill="#43136a" stroke="#0c0312" stroke-width="0.6"/>
<circle cx="468.80" cy="291.60" r="1.4" fill="#43136a" stroke="#0c0312" stroke-width="0.6"/>
<circle cx="473.30" cy="292.40" r="1.4" fill="#43136a" stroke="#0c0312" stroke-width="0.6"/>
<circle cx="474.90" cy="291.20" r="1.4" fill="#43136a" stroke="#0c0312" stroke-width="0.6"/>
<circle cx="446.60" cy="297.70" r="1.4" fill="#43136a" stroke="#0c0312" stroke-width="0.6"/>
<circle cx="449.00" cy="297.30" r="1.4" fill="#43136a" stroke="#0c0312" stroke-width="0.6"/>
<circle cx="451.50" cy="297.70" r="1.4" fill="#43136a" stroke="#0c0312" stroke-width="0.6"/>
<circle cx="454.00" cy="298.10" r="1.4" fill="#43136a" stroke="#0c0312" stroke-width="0.6"/>
<circle cx="464.20" cy="296.90" r="1.4" fill="#43136a" stroke="#0c0312" stroke-width="0.6"/>
<circle cx="466.70" cy="295.30" r="1.4" fill="#43136a" stroke="#0c0312" stroke-width="0.6"/>
<circle cx="470.00" cy="296.50" r="1.4" fill="#43136a" stroke="#0c0312" stroke-width="0.6"/>
<circle cx="440.40" cy="295.70" r="1.4" fill="#43136a" stroke="#0c0312" stroke-width="0.6"/>
<circle cx="440.40" cy="300.20" r="1.4" fill="#43136a" stroke="#0c0312" stroke-width="0.6"/>
<circle cx="454.40" cy="301.80" r="1.4" fill="#43136a" stroke="#0c0312" stroke-width="0.6"/>
<circle cx="459.30" cy="301.80" r="1.4" fill="#43136a" stroke="#0c0312" stroke-width="0.6"/>
<circle cx="464.70" cy="300.20" r="1.4" fill="#43136a" stroke="#0c0312" stroke-width="0.6"/>
<circle cx="467.10" cy="301.40" r="1.4" fill="#43136a" stroke="#0c0312" stroke-width="0.6"/>
<circle cx="473.30" cy="303.10" r="1.4" fill="#43136a" stroke="#0c0312" stroke-width="0.6"/>
<circle cx="448.20" cy="303.50" r="1.4" fill="#43136a" stroke="#0c0312" stroke-width="0.6"/>
<circle cx="450.30" cy="303.10" r="1.4" fill="#43136a" stroke="#0c0312" stroke-width="0.6"/>
<circle cx="444.10" cy="304.70" r="1.4" fill="#43136a" stroke="#0c0312" stroke-width="0.6"/>
<circle cx="446.20" cy="304.30" r="1.4" fill="#43136a" stroke="#0c0312" stroke-width="0.6"/>
<circle cx="455.60" cy="305.10" r="1.4" fill="#43136a" stroke="#0c0312" stroke-width="0.6"/>
<circle cx="461.00" cy="304.30" r="1.4" fill="#43136a" stroke="#0c0312" stroke-width="0.6"/>
<circle cx="444.50" cy="308.00" r="1.4" fill="#43136a" stroke="#0c0312" stroke-width="0.6"/>
<circle cx="447.80" cy="306.80" r="1.4" fill="#43136a" stroke="#0c0312" stroke-width="0.6"/>
<circle cx="450.30" cy="306.00" r="1.4" fill="#43136a" stroke="#0c0312" stroke-width="0.6"/>
<circle cx="440.40" cy="308.40" r="1.4" fill="#43136a" stroke="#0c0312" stroke-width="0.6"/>
<circle cx="450.70" cy="314.60" r="1.4" fill="#43136a" stroke="#0c0312" stroke-width="0.6"/>
<circle cx="441.80" cy="318.10" r="1.4" fill="#43136a" stroke="#0c0312" stroke-width="0.6"/>
<circle cx="449.20" cy="316.90" r="1.4" fill="#43136a" stroke="#0c0312" stroke-width="0.6"/>
<circle cx="450.90" cy="315.50" r="1.4" fill="#43136a" stroke="#0c0312" stroke-width="0.6"/>
<circle cx="437.30" cy="315.30" r="1.4" fill="#43136a" stroke="#0c0312" stroke-width="0.6"/>
<circle cx="433.60" cy="314.00" r="1.4" fill="#43136a" stroke="#0c0312" stroke-width="0.6"/>
<circle cx="433.20" cy="311.20" r="1.4" fill="#43136a" stroke="#0c0312" stroke-width="0.6"/>
<circle cx="437.30" cy="311.60" r="1.4" fill="#43136a" stroke="#0c0312" stroke-width="0.6"/>
<circle cx="434.40" cy="308.70" r="1.4" fill="#43136a" stroke="#0c0312" stroke-width="0.6"/>
<circle cx="437.30" cy="306.20" r="1.4" fill="#43136a" stroke="#0c0312" stroke-width="0.6"/>
<circle cx="439.80" cy="308.30" r="1.4" fill="#43136a" stroke="#0c0312" stroke-width="0.6"/>
<circle cx="427.90" cy="308.30" r="1.4" fill="#43136a" stroke="#0c0312" stroke-width="0.6"/>
<circle cx="425.80" cy="313.60" r="1.4" fill="#43136a" stroke="#0c0312" stroke-width="0.6"/>
<circle cx="444.70" cy="308.30" r="1.4" fill="#43136a" stroke="#0c0312" stroke-width="0.6"/>
<circle cx="447.60" cy="306.60" r="1.4" fill="#43136a" stroke="#0c0312" stroke-width="0.6"/>
<circle cx="455.40" cy="305.40" r="1.4" fill="#43136a" stroke="#0c0312" stroke-width="0.6"/>
<line x1="408.60" y1="290.40" x2="494.00" y2="270.20" stroke="#222" stroke-width="0.75"/>
<circle cx="409.50" cy="286.40" r="1.4" fill="#4d98dd" stroke="#0f2238" stroke-width="0.6"/>
<circle cx="421.00" cy="278.20" r="1.4" fill="#4d98dd" stroke="#0f2238" stroke-width="0.6"/>
<circle cx="424.70" cy="280.70" r="1.4" fill="#4d98dd" stroke="#0f2238" stroke-width="0.6"/>
<circle cx="423.90" cy="284.40" r="1.4" fill="#4d98dd" stroke="#0f2238" stroke-width="0.6"/>
<circle cx="421.80" cy="286.80" r="1.4" fill="#4d98dd" stroke="#0f2238" stroke-width="0.6"/>
<circle cx="419.00" cy="287.40" r="1.4" fill="#4d98dd" stroke="#0f2238" stroke-width="0.6"/>
<circle cx="428.00" cy="286.00" r="1.4" fill="#4d98dd" stroke="#0f2238" stroke-width="0.6"/>
<circle cx="428.80" cy="289.10" r="1.4" fill="#4d98dd" stroke="#0f2238" stroke-width="0.6"/>
<circle cx="422.70" cy="289.60" r="1.4" fill="#4d98dd" stroke="#0f2238" stroke-width="0.6"/>
<circle cx="425.10" cy="291.80" r="1.4" fill="#4d98dd" stroke="#0f2238" stroke-width="0.6"/>
<circle cx="419.80" cy="292.00" r="1.4" fill="#4d98dd" stroke="#0f2238" stroke-width="0.6"/>
<circle cx="432.10" cy="283.60" r="1.4" fill="#4d98dd" stroke="#0f2238" stroke-width="0.6"/>
<circle cx="433.80" cy="279.40" r="1.4" fill="#4d98dd" stroke="#0f2238" stroke-width="0.6"/>
<circle cx="434.60" cy="281.90" r="1.4" fill="#4d98dd" stroke="#0f2238" stroke-width="0.6"/>
<circle cx="436.20" cy="286.80" r="1.4" fill="#4d98dd" stroke="#0f2238" stroke-width="0.6"/>
<circle cx="437.90" cy="284.40" r="1.4" fill="#4d98dd" stroke="#0f2238" stroke-width="0.6"/>
<circle cx="439.50" cy="281.10" r="1.4" fill="#4d98dd" stroke="#0f2238" stroke-width="0.6"/>
<circle cx="440.30" cy="285.60" r="1.4" fill="#4d98dd" stroke="#0f2238" stroke-width="0.6"/>
<circle cx="439.50" cy="290.10" r="1.4" fill="#4d98dd" stroke="#0f2238" stroke-width="0.6"/>
<circle cx="442.00" cy="277.80" r="1.4" fill="#4d98dd" stroke="#0f2238" stroke-width="0.6"/>
<circle cx="437.90" cy="287.70" r="1.4" fill="#4d98dd" stroke="#0f2238" stroke-width="0.6"/>
<circle cx="444.00" cy="287.70" r="1.4" fill="#4d98dd" stroke="#0f2238" stroke-width="0.6"/>
<circle cx="441.60" cy="277.70" r="1.4" fill="#4d98dd" stroke="#0f2238" stroke-width="0.6"/>
<circle cx="446.60" cy="275.30" r="1.4" fill="#4d98dd" stroke="#0f2238" stroke-width="0.6"/>
<circle cx="449.00" cy="276.50" r="1.4" fill="#4d98dd" stroke="#0f2238" stroke-width="0.6"/>
<circle cx="447.80" cy="278.10" r="1.4" fill="#4d98dd" stroke="#0f2238" stroke-width="0.6"/>
<circle cx="450.70" cy="278.10" r="1.4" fill="#4d98dd" stroke="#0f2238" stroke-width="0.6"/>
<circle cx="444.50" cy="280.60" r="1.4" fill="#4d98dd" stroke="#0f2238" stroke-width="0.6"/>
<circle cx="441.60" cy="281.40" r="1.4" fill="#4d98dd" stroke="#0f2238" stroke-width="0.6"/>
<circle cx="449.90" cy="281.00" r="1.4" fill="#4d98dd" stroke="#0f2238" stroke-width="0.6"/>
<circle cx="454.00" cy="279.40" r="1.4" fill="#4d98dd" stroke="#0f2238" stroke-width="0.6"/>
<circle cx="456.00" cy="278.60" r="1.4" fill="#4d98dd" stroke="#0f2238" stroke-width="0.6"/>
<circle cx="454.80" cy="281.00" r="1.4" fill="#4d98dd" stroke="#0f2238" stroke-width="0.6"/>
<circle cx="449.00" cy="284.30" r="1.4" fill="#4d98dd" stroke="#0f2238" stroke-width="0.6"/>
<circle cx="443.70" cy="283.50" r="1.4" fill="#4d98dd" stroke="#0f2238" stroke-width="0.6"/>
<circle cx="441.20" cy="286.00" r="1.4" fill="#4d98dd" stroke="#0f2238" stroke-width="0.6"/>
<circle cx="444.90" cy="287.60" r="1.4" fill="#4d98dd" stroke="#0f2238" stroke-width="0.6"/>
<circle cx="447.40" cy="288.40" r="1.4" fill="#4d98dd" stroke="#0f2238" stroke-width="0.6"/>
<circle cx="454.40" cy="286.00" r="1.4" fill="#4d98dd" stroke="#0f2238" stroke-width="0.6"/>
<circle cx="459.30" cy="285.50" r="1.4" fill="#4d98dd" stroke="#0f2238" stroke-width="0.6"/>
<circle cx="461.00" cy="282.70" r="1.4" fill="#4d98dd" stroke="#0f2238" stroke-width="0.6"/>
<circle cx="461.80" cy="278.10" r="1.4" fill="#4d98dd" stroke="#0f2238" stroke-width="0.6"/>
<circle cx="466.30" cy="283.90" r="1.4" fill="#4d98dd" stroke="#0f2238" stroke-width="0.6"/>
<circle cx="467.10" cy="279.40" r="1.4" fill="#4d98dd" stroke="#0f2238" stroke-width="0.6"/>
<circle cx="464.70" cy="272.40" r="1.4" fill="#4d98dd" stroke="#0f2238" stroke-width="0.6"/>
<circle cx="464.70" cy="275.70" r="1.4" fill="#4d98dd" stroke="#0f2238" stroke-width="0.6"/>
<circle cx="468.80" cy="274.00" r="1.4" fill="#4d98dd" stroke="#0f2238" stroke-width="0.6"/>
<circle cx="470.00" cy="272.00" r="1.4" fill="#4d98dd" stroke="#0f2238" stroke-width="0.6"/>
<circle cx="470.80" cy="277.30" r="1.4" fill="#4d98dd" stroke="#0f2238" stroke-width="0.6"/>
<circle cx="473.30" cy="275.70" r="1.4" fill="#4d98dd" stroke="#0f2238" stroke-width="0.6"/>
<circle cx="474.50" cy="271.20" r="1.4" fill="#4d98dd" stroke="#0f2238" stroke-width="0.6"/>
<circle cx="475.70" cy="277.30" r="1.4" fill="#4d98dd" stroke="#0f2238" stroke-width="0.6"/>
<circle cx="482.00" cy="268.60" r="1.4" fill="#4d98dd" stroke="#0f2238" stroke-width="0.6"/>
<circle cx="481.20" cy="273.10" r="1.4" fill="#4d98dd" stroke="#0f2238" stroke-width="0.6"/>
<circle cx="490.60" cy="271.50" r="1.4" fill="#4d98dd" stroke="#0f2238" stroke-width="0.6"/>
<circle cx="492.70" cy="267.60" r="1.4" fill="#4d98dd" stroke="#0f2238" stroke-width="0.6"/>
<circle cx="475.40" cy="271.50" r="1.4" fill="#4d98dd" stroke="#0f2238" stroke-width="0.6"/>
<circle cx="475.80" cy="277.30" r="1.4" fill="#4d98dd" stroke="#0f2238" stroke-width="0.6"/>
<rect x="0.5" y="0.5" width="519" height="364" fill="none" stroke="#000" stroke-width="1.05"/>
</svg>
</body></html>
